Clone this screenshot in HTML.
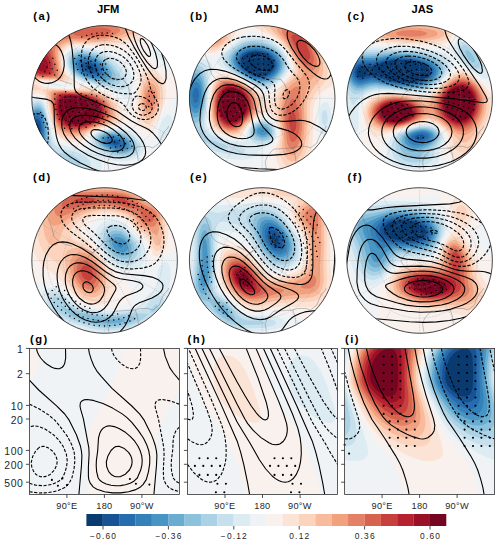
<!DOCTYPE html>
<html><head><meta charset="utf-8"><title>Figure</title>
<style>
html,body{margin:0;padding:0;background:#fff;}
body{width:500px;height:545px;position:relative;overflow:hidden;font-family:"Liberation Sans",sans-serif;}
svg{position:absolute;left:0;top:0;display:block;}
.t{position:absolute;white-space:nowrap;font-family:"Liberation Sans",sans-serif;}
</style></head><body>
<svg width="500" height="545" viewBox="0 0 500 545"><defs><clipPath id="ca"><circle cx="104.6" cy="98.4" r="72.8"/></clipPath><clipPath id="cb"><circle cx="262.2" cy="98.4" r="72.8"/></clipPath><clipPath id="cc"><circle cx="419.6" cy="98.4" r="72.8"/></clipPath><clipPath id="cd"><circle cx="104.6" cy="260.5" r="72.8"/></clipPath><clipPath id="ce"><circle cx="262.2" cy="260.5" r="72.8"/></clipPath><clipPath id="cf"><circle cx="419.6" cy="260.5" r="72.8"/></clipPath><clipPath id="cg"><rect x="29.4" y="348.4" width="150.0" height="146.1"/></clipPath><clipPath id="ch"><rect x="187.4" y="348.4" width="150.2" height="146.1"/></clipPath><clipPath id="ci"><rect x="344.6" y="348.4" width="150.0" height="146.1"/></clipPath></defs>
<g clip-path="url(#ca)">
<rect x="0" y="0" width="500" height="545" fill="#f8f1ed"/>
<path fill="#eff3f5" d="M161.6 33.6l3.2-.8 4.8 .3 5.6 2.3 4 2.8 0 38.1-9.6-3.7-8-4.7-8-6.9-4.3-4.8-2-3.2-.6-1.6 .2-3.2 2.7-4.8 5.6-5.8 3.2-2.4 3.2-1.6zM78.4 46.5l8.6 .1 12.2 1.4 30.4 4.5 3.2 .9 1.7 1.2 1.4 3.2 .4 4.8 .1 11.2-.5 9.6-1.5 11.6-1.6 7.7-1.6 3.9-1.6 1.5-1.6 0-1.6-1-9.4-9.3-6.9-4.8-7.7-3.4-22.4-6.9-6.4-3.8-4.8-4.7-3-5.2-1.4-4.8-.5-4.8 .7-4.8 1.7-3.2 2.5-2.2 4.8-1.9 4.8-.8zM44.8 82.8l3.2-.7 3.2 0 11.2 1 8.2 1.9 1.8 1.6-3.6 1.1-3.2 .2-14.4-1.1-6.2-1.8-1.4-1.6 1.2-.6zM179.2 94.5l0 78.5-10.2 0-.7-4.8-1.3-3.2-2.1-3.2-5.6-6.4-3.9-3.2-1.8-.7-1.6 .2-1.6 1-8 7.5-11.4 8-1.6 1.6-.7 1.6 0 1.6-99.9 0 0-74.5 1.3-.7 5.1-1.8 3.2-.2 3.2 1.1 1.6 1.2 1.6 2.2 2.5 7.1 5.5 23.5 2.3 5.3 2.5 3.2 3.2 2.1 4.8 1.7 8 1.6 6.4 .5 3.2-.8 1.6-1.2 4.5-7.1 3.7-3.2 3-1.7 4.8-1.8 4.8-1.1 17.6-2.3 4.8-.2 1.6 .2 3.2 1.2 12.8 10.1 3.2 1.7 1.6-.1 1.6-1.7 6.3-15.5 3.3-6.5 3.2-5.4 6.4-8.4 3.2-3.2 4.8-3.8z"/>
<path fill="#ddebf2" d="M161.6 41.3l1.6-.1 1.6 .3 1.6 1 1.9 2.5 1.1 3.2 .1 4.8-.8 3.2-2.2 3.2-1.7 .9-1.6 .1-1.6-.5-2.7-2.1-2.1-3.2-.9-3.2 .1-3.2 1.1-3.2 1.3-1.7 1.6-1.3 1.6-.7zM78.4 48l6.4 0 6.4 .6 6.3 1.2 6.5 1.8 4.8 2 4.9 2.6 4.6 3.2 5.7 4.8 3 3.2 2.2 3.2 1.5 3.2 1.2 4.8 .2 6.4-.9 6.4-1.6 4.4-1.6 1.8-1.6 .4-1.6-.2-8.9-4.8-7.3-3.2-25.4-7.7-6.4-3-4.9-3.7-3.8-4.8-1.9-4.8-.8-4.8 .5-4.8 1.6-3.2 2.9-2.7 3.2-1.4 4.8-.9zM51.2 84l1.6-.5 1.6 .1 9 1.4-1 1.3-1.6 .1-10.1-1.4 .5-1zM33.6 99l3.2-.8 3.2 .4 1.6 .9 2.6 3.1 2.4 6.4 4.6 21.1 1.6 5.8 1.6 3.5 1.1 1.6 2.1 2 1.6 .9 4.8 1.7 16 3.7 4.8 .8 3.2-.1 1.2-1 .4-1.6 .1-6.4 1-3.2 2.6-3.2 2.1-1.6 5.4-2.4 6.4-1.4 8-.7 6.4 .2 4.8 .8 4.8 1.8 3.2 1.9 4.8 4 3.2 3.8 1.7 3.2 .5 3.2-.7 3.2-1.9 3.2-3.6 3.2-4 2.3-4.8 1.5-8 .7-16-1.7-3.2 .4-.9 1.6 .1 4.8-.4 3.2-1.6 3.2-41.2 0-5.6-2-4.8-.6-3.2 .6-4.6 2-11.4 0 0-71 4.8-3zM166.4 115.3l1.6-.5 1.6 .3 1.8 1.9 1.6 4.8 .5 6.4-.9 6.4-1.7 4.8-1.3 2.2-1.6 1.7-1.6 1-1.6 .3-1.6-.2-1.6-.8-2.1-2.6-1.1-3.2-.2-4.8 1.3-6.4 1.9-4.8 1.8-3.1 3.2-3.4z"/>
<path fill="#c7e0ed" d="M78.4 49.6l4.8-.2 4.8 .4 9.6 2.2 8 3.5 7.9 5.5 3.5 3.2 4.3 4.8 4.1 6.4 1.1 3.2 .5 3.2-.1 3.2-1.4 3.2-2.3 1.6-3.2 .1-24-5.3-12.8-3.9-4.8-2.3-4.4-3-3.1-3.2-2.7-4.8-1.1-4.8 .1-4.2 1.4-3.8 1.8-2 3.2-1.9 4.8-1.1zM35.2 100.9l3.2-.3 1.6 .4 1.6 1.1 1.6 1.9 1.6 3.1 2.7 9.9 3.7 19.4 1.6 5 1.6 2.8 1.6 1.7 3.2 1.8 17.4 4.5 5 2.1 4.4 2.7 3.1 3.2 1.6 3.2 0 3.2-.7 1.6-1.5 1.6-3.1 1.6-3.8 .8-3.2 .2-4.8-.4-6.4-1.5-12.8-5.4-4.8-1.1-4.8 .8-9.6 3.8-3.2 .4-3.2-.6 0-63 3.2-2.9 3.2-1.6zM102.4 131.3l6.4-1.2 8-.1 6.4 .9 6.4 2.5 3.2 1.9 3 2.5 3.7 4.8 .7 1.6 .5 3.2-.8 3.2-2.5 3.2-3 2.1-4.8 1.8-4.8 .7-4.8-.1-4.8-.7-6.4-1.7-6.4-2.5-4.8-3.1-2.8-2.9-1.8-3.2-.7-3.2 .7-3.2 2.6-3.2 2.4-1.6 4.4-1.7z"/>
<path fill="#acd2e5" d="M78.4 51.2l3.2-.3 4.8 .3 8 1.7 7.6 3.3 6.8 4.6 6.6 6.6 4.1 6.4 1.4 4.8-.4 3.2-1 1.6-2.7 1.6-3.2 .5-4.8-.2-8-1-8-1.8-6.4-1.9-6.4-2.8-3.9-2.4-3.5-3.2-2.1-3.2-1.7-4.7-.2-3.3 .5-3.2 1.9-3.2 2.6-2 4.8-1.4zM33.6 104.1l3.2-1.2 1.6 0 1.6 .6 2.4 2.3 1.8 3.2 1.6 4.8 1.4 6.4 3.9 24 1.7 4.7 1.6 2.6 1.6 1.2 1.6 .4 6.4 .3 4.8 .7 4.2 1.3 3.3 1.6 2.2 1.6 1.5 1.6 .8 1.6 0 1.6-1 1.6-1.4 .8-3.2 .7-3.2-.2-3.2-.7-5.5-2.2-7.3-5.1-1.6-.8-1.6-.2-3.2 .6-9.6 4.5-4.8 1.7-3.2 .1-3.2-1.1 0-54.3 2.6-3 2.2-1.7zM107.2 131.4l6.4-.3 6.4 .7 4.8 1.5 4.8 2.4 4.6 3.7 2.3 3.2 1.1 3.2 0 1.6-1.1 3.2-2.1 2.3-3.2 1.8-4.8 1.3-4.8 .2-4.8-.6-6.4-1.6-6.4-2.6-3.2-2-3.2-2.8-1.8-2.4-1.1-3.2 .5-3.2 1-1.6 3-2.4 3.2-1.4 4.8-1z"/>
<path fill="#8dc2dc" d="M78.4 52.8l6.4-.2 6.4 1.1 6.4 2.4 6.4 3.8 6.5 5.9 3.5 4.8 1.9 4.8-.1 3.2-.8 1.6-1.9 1.6-4.3 1.1-4.8 .1-4.8-.5-6.4-1.2-6.4-2-5.4-2.3-4.2-2.7-2.3-2.1-2.5-3.4-1.7-4.6-.1-3.2 .9-3.2 1-1.6 3.1-2.3 3.2-1.1zM35.2 105.7l3.2-.4 1.6 .7 1.6 1.4 1 1.6 2.2 5.2 1.6 6.8 1.1 7.2 1.1 19.2-1.1 4.8-2.6 3.2-3.3 2.5-3.2 1.6-4.8 1-3.2-.8-1.6-1 0-46.6 3.2-4.2 3.2-2.2zM105.6 132.8l4.8-.6 6.4 .4 4.8 1.1 4.8 2.1 4.8 3.4 2.7 3.4 1 3.2-.5 3.2-1.6 2.1-3.2 2-3.2 .9-3.2 .3-4.8-.2-4.8-.9-8-3.1-3.2-2-3.2-2.8-1.8-2.7-.5-3.2 .5-1.6 1.8-2.2 3.2-1.9 3.2-.9z"/>
<path fill="#6bacd1" d="M78.4 54.6l4.8-.5 6.4 .9 6.4 2.3 6.2 3.7 5.3 4.8 3.3 4.8 1.1 3.2 .1 1.6-.2 1.6-1 1.6-2.3 1.6-2.9 .8-4.8 .1-4.8-.5-9.6-2.5-4.8-2.2-3.4-2.1-1.8-1.6-2.6-3.2-1.4-3.2-.5-3.2 .6-3.2 1.1-1.9 1.6-1.5 3.2-1.4zM35.2 108.2l1.6-.5 1.6 .1 1.6 .7 1.6 1.7 1.8 3.6 1.5 4.8 1.1 6.4 .6 6.4 .1 8-.8 8-1.1 2.8-1.3 2-1.9 1.9-3.2 2.1-3.2 .9-1.6 0-3.2-1.1-1.6-1.4 0-39 3.2-4.9 3.2-2.5zM104 134.5l4.8-1.1 4.8 0 6.2 1.2 5 2.1 3.9 2.7 2.7 3.2 1 3.2-.2 1.6-.8 1.6-1.7 1.6-1.7 .9-3.2 .9-3.2 .3-3.2-.2-4.8-1-6.5-2.5-4.8-3.2-1.5-1.6-1.7-3.2-.1-1.6 .6-1.6 1.3-1.6 3.1-1.7z"/>
<path fill="#4695c4" d="M80 56.1l4.8-.3 4.8 .8 6.4 2.6 4.8 3 3.9 3.6 3.2 4.8 .7 3.2-.2 1.6-.9 1.6-2.4 1.6-2.7 .7-6.4-.1-4.8-.9-4.3-1.3-3.7-1.6-3.2-2-3.2-2.8-1.2-1.6-1.5-3.2-.4-3.2 .3-1.6 1.2-2.2 1.6-1.4 3.2-1.3zM36.8 110.1l1.6 .2 1.6 .9 1.6 2 1.6 3.8 1.9 9.6 .2 11.2-1.3 8-2.4 4.5-3.2 2.7-3.2 1-1.6-.1-1.6-.5-1.6-1.1-1.6-1.9 0-31 3.2-5.9 1.6-1.7 1.6-1.2 1.6-.5zM110.4 134.5l3.2 .1 4.8 1 3.2 1.1 3.2 1.8 3 2.5 1.1 1.6 .7 1.6 .2 1.6-.4 1.6-1.3 1.6-1.7 1-3.2 .9-3.2 .1-3.2-.3-4.8-1.2-6.4-3.2-2.4-2.1-1.2-1.6-.7-1.6 0-1.6 .6-1.6 1.9-1.6 3.4-1.3 3.2-.4z"/>
<path fill="#3480b9" d="M81.6 57.7l3.2-.2 4.8 .8 4.8 1.9 4.8 3.1 4.1 4.1 1.7 3.2 .3 3.2-.8 1.6-2.1 1.5-1.6 .5-3.2 .3-3.2-.2-3.2-.5-4.8-1.6-5.7-3.2-3.1-3.2-1-1.6-.9-3.2 .1-1.6 1-2.2 1.6-1.5 3.2-1.2zM35.2 113.3l1.6-.6 1.6 .2 1.6 1.2 1.6 2.5 2 6.8 .6 8-.6 8-2 6.4-1.6 2.4-1.6 1.5-3.2 1.2-1.6-.2-1.6-.7-1.6-1.6-1.6-2.8 0-21.6 1.3-3.8 1.6-3.2 1.9-2.5 1.6-1.2zM108.8 136.1l3.2-.3 3.5 .4 4.5 1.4 3.2 1.7 3.2 3.3 .6 1.6 0 1.6-.6 1.1-1.6 1.4-1.6 .7-4.8 .3-6.4-1.4-4.3-2.1-2-1.6-1.3-1.6-.7-1.6 0-1.6 1.1-1.6 .8-.6 3.2-1.1z"/>
<path fill="#266caf" d="M84.8 59.4l3.2 .4 3.2 .9 3.2 1.5 3.2 2.2 2.9 3 .9 1.6 .7 3.2-.6 1.6-2.3 1.6-1.6 .3-4.8 0-6.4-1.8-5.1-3.3-1.5-1.6-1.4-2.6-.4-2.2 .4-1.6 1.6-1.9 1.6-.8 3.2-.5zM35.2 116.1l1.6-.6 1.6 .3 1.6 1.5 1.9 4.5 1 8-.4 6.4-1.8 6.4-2.3 3.5-1.6 1.1-1.6 .3-1.6-.2-1.6-1.2-1.4-1.9-1.1-3.2-.7-4.6 .3-6.6 1.3-5.9 1.6-3.9 1.6-2.4 1.6-1.5zM110.4 137.5l4.8 .2 4.8 1.7 2.2 1.6 1.3 1.6 .5 1.6-.5 1.6-1.9 1.2-1.3 .4-3.5 0-4.8-1.3-3.2-1.8-1.7-1.7-.7-1.6 .3-1.6 2.1-1.5 1.6-.4z"/>
<path fill="#185493" d="M83.2 62.2l1.6-.4 3.2 .1 3.2 1 2.5 1.3 2.3 1.7 2.2 3.1 .3 1.6-.5 1.6-2 1.2-3.2 .3-4.8-1.1-3.7-2-2.7-2.9-.7-1.9 .2-1.6 .5-.9 1.6-1.1zM35.2 119.3l1.6-.6 1.6 .5 1.6 2.3 1 3.5 .4 4.8-.3 4.8-1.3 4.8-2.1 3.2-.9 .8-1.6 .4-1.6-.6-1.8-2.2-.9-3.2-.4-4.8 .5-4.8 1-3.8 1.6-3.3 1.6-1.8zM110.4 140.9l1.6-1 1.6-.2 3.2 .7 1.2 .6 1.6 1.6-.2 1.6-2.6 .8-3.2-.6-2.7-1.8-.5-1.7z"/>
<path fill="#0a3b70" d="M86.4 65.3l1.6-.2 2.7 .7 2.1 1.6 .6 1.6-.6 .9-1.6 .6-3.2-.9-1.1-.6-1.3-1.6 .1-1.6 .7-.5zM36.8 122.9l1.6 1.3 .3 .8 .7 3.2 0 3.2-1 4.8-1.6 2.3-1.6 .4-1.6-1.4-.5-1.3-.4-4.8 .9-5 1.6-2.8 1.6-.7z"/>
<path fill="#fbe4d6" d="M33.6 24.1l4.2-1.5 116.5 0 1.1 1.6 .4 1.6-.3 1.6-.7 1.6-2.5 3.2-3.5 3.1-3.2 2.2-4.8 2.3-4.8 1.6-11.2 2.8-11.2 1.7-9.6 .2-24-1.1-6.4 .6-4.8 1.5-3.7 2.7-1.9 3.2-.7 3.2 0 4.8 .8 4.8 1.6 4.8 2.3 4.1 4.4 5.5 .4 1.6-1.6 .4-3.2 0-14.4-1-8-.1-4.9 .7-.8 1.6 1.6 1.6 2.5 1.3 4.8 1.3 14.4 1.1 8 .2 7-.7 4.2-1.5 3.2 .1 9.6 2.1 9.6 3.3 4.8 2.6 4.1 3 3.3 3.2 3.4 4.8 2.4 4.8 1.5 4.8 .2 3.2-.5 1.6-1.1 1.6-2.2 1.6-4.2 1.6-13.3 3-8 2.8-6 3.8-6.8 6.1-3.2 1.1-6.4-.1-6.4-1.2-4.8-1.9-3.2-2.5-3-4.7-1.8-4.8-5.1-22.4-1.3-4.2-1.6-3-1.6-1.8-1.6-1-3.2-.9-4.8 .4-4.8 1.2 0-68.5 4.8-2.3zM147.2 66.9l3.2 0 3.2 1.3 4.8 3.8 2.9 3.4 2.7 4.8 1.1 3.2 .7 3.2 .4 4.8-.3 4.8-1 4.8-2.2 6.4-2.2 4.8-5.3 10.3-3.2 5-1.6 1.7-1.6 .9-1.6 .3-1.6-.3-3.2-2-3.7-4.7-1.9-4.8-.8-8 1.2-16 2.7-16 1.4-4.8 1.6-3.2 2.7-3 1.6-.7z"/>
<path fill="#fcd3bc" d="M52.8 24l11.2-1.4 75.7 0 2.9 1.6 1.7 1.6 .7 1.6-.1 1.6-.7 1.6-1.3 1.6-3.7 2.6-8 3.6-9.6 2.8-8 1.6-9.6 1-27.2-.1-4.8 .6-4.8 1.5-3.2 2.2-1.5 1.8-1.3 3.2-.4 3.2 .2 4.8 1.2 6.4 1.7 4.8 3.1 6.4-1.1 1.6-5.1 .5-20.8-.6-4.8 .6-2.5 1.1 1.3 1.6 7.6 6 12.8-.3 17.6 .8 12.8-.6 4.8 .4 4.8 .9 6.4 2.2 4.8 2.3 4.8 3.4 3.9 4.1 2.7 4.8 1.9 6.4 .1 3.2-.4 1.6-.7 1.6-1.5 1.6-4.4 2.3-12.8 3.8-5.3 1.9-6 3.2-6.3 4.3-3.2 1.3-4.8 .6-4.8-.5-4.8-1.3-4.8-2.8-3.2-3.9-2.4-5.7-2.2-8-3.4-16.9-1.6-4.2-1.6-2.6-3.2-3.2-3.2 0-9.6 .9 0-58.3 4.8-3.2 6.4-2.7 6.4-1.7 6.4-1.1zM148.8 73.2l1.6-.2 3.2 1 3.2 2.5 1.7 2.1 1.8 3.2 1.6 4.8 .6 3.2 .2 4.8-.4 4.8-1.1 4.8-1.7 4.8-2.7 5.7-3.2 5.3-1.6 1.9-1.6 1.3-1.6 .7-1.6 0-1.6-.6-1.6-1.2-1.6-2-1.6-3.4-1.5-6.1-.4-9.6 1.2-11.2 2.3-8.8 1.6-3.5 1.6-2.2 1.6-1.3 1.6-.8z"/>
<path fill="#f8bb9e" d="M72 24.2l10.3-1.6 43.4 0 5.4 1.6 3 1.6 1.5 1.6 .4 1.6-.5 1.6-1.3 1.6-2.1 1.6-4.1 2.1-7.6 2.7-8.4 2-12.8 1.4-24 .2-4.8 .7-4.8 1.5-3.2 2.1-1.4 1.7-1.4 3.2-.5 3.2 .2 4.8 1 6.4 3.3 11.2-.7 1.6-2.1 .6-3.2 .3-17.6-.4-6.4-.5-4.8-1.2 .1-38.8 2.9-3.2 3.4-2.5 3.2-1.7 4.8-1.9 8-1.9 20.8-3.2zM150.4 78.2l1.6 .2 1.6 .8 1.6 1.3 2.1 2.9 1.5 3.2 .8 3.2 .5 6.4-1.2 8-2.4 6.4-2.9 4.8-1.6 1.8-1.6 1.1-1.6 .4-1.6-.2-1.6-1.1-2.4-3.6-1.7-6.4-.4-8 .9-8 2-6.8 1.6-3.1 1.6-1.8 1.6-1.1 1.6-.4zM49.6 90.8l3.2-.7 3.2-.1 28.8 .8 8 1.1 6.4 1.9 4.8 2.3 3.2 2.2 3 2.7 2.4 3.2 1.6 3.2 1.3 4.8 .2 3.2-.8 3.2-1 1.6-1.7 1.6-2.9 1.6-16.5 5.7-14.4 6.9-3.2 .6-3.2 .1-4.8-.8-3.2-1-3.2-1.8-3.2-3.1-2-3.4-1.9-4.8-2-8-2.1-12.8-1.8-8 .5-1.6 1.3-.6z"/>
<path fill="#f2a17f" d="M86.4 24.2l9.6-.9 8-.3 8 .4 6.4 .8 5.7 1.6 2.8 1.6 1 1.6-.2 1.6-1.2 1.6-2.1 1.6-6 2.6-11.2 2.9-11.2 1.1-22.4 .2-4.8 .6-4.8 1.5-3.2 2-1.6 1.7-1 1.8-.8 3.2 .1 6.4 1.2 8 2.1 9.6-.4 1.6-1.2 .7-3.2 .8-11.2-.1-9.6-.9-3.2-.8-3.2-1.3 0-29.1 3.2-5.5 3.2-3.5 5.2-3.5 7.6-2.8 38.4-6.8zM150.4 83.2l1.6 .2 1.6 .9 1.8 2.3 1.8 4.8 .6 6.4-1 5.9-2.1 5.3-2.7 3.7-1.6 1-1.6 .2-1.6-.7-.9-1-1.7-3.2-1.1-4.8-.2-6.4 .7-5 1.6-5 1.7-2.8 1.5-1.3 1.6-.5zM54.4 91.1l8-.2 24 1.2 8 1.5 6.4 2.5 3.2 1.8 3.2 2.6 1.9 2.1 1.9 3.2 1.2 3.2 .7 3.2 0 3.2-1.1 3.2-1.2 1.6-1.8 1.4-3.4 1.8-13.4 4.8-13.6 5.6-3.2 .5-4.8 0-6.4-1.7-3.2-1.9-3.2-3.5-2.7-5.4-1.9-6.4-1.4-8-1.3-12.8 .3-1.6 .6-.6 1.6-1 1.6-.3z"/>
<path fill="#e48066" d="M91.2 25.7l12.8-.5 9.6 1.1 3.9 1.1 2.2 1.6 .4 1.6-1 1.6-2.3 1.6-3.7 1.6-5.6 1.6-5.1 .9-11.2 .9-20.8-.2-4.8 .6-3.2 1.1-2.8 1.5-2 1.7-1.6 2.5-.7 2.2-.3 3.2 .3 3.2 2.8 17.6 .2 1.6-.7 2.1-1.5 1.1-3.3 .5-11.2-.2-8-1.4-4.8-2.5 0-20.1 4.8-8.5 3.2-4 2.5-2.2 5.5-3.1 5.3-1.7 12.3-2.4 17.1-4 11.7-1.7zM148.8 89.4l1.6-.8 1.6 .4 .9 .8 1.7 3.2 .6 3.2-.1 3.2-1.2 4.8-1.9 3.3-1.6 1-1.6-.1-1.6-1.7-.9-2.5-.5-3.2 0-3.2 .5-3.2 .9-2.8 1.6-2.4zM54.4 92.6l3.2-.8 3.2-.2 20.8 1 9.6 1.4 6.8 2.2 5.5 3.2 2.1 1.9 2.3 2.9 1.5 3.2 .9 3.2 .2 3.2-.7 3.2-2.3 3.2-3.5 2.2-24 9-3.2 .8-4.8 .2-4.8-.8-3.2-1.2-3.2-2.1-3.2-3.8-2.1-4.3-1.4-4.8-1.4-8-.5-9.6 .3-3.2 1.1-1.6 .8-.4z"/>
<path fill="#d7634f" d="M84.8 28.9l9.6-1.2 8-.1 7.1 1.4 1.9 1.6-.7 1.6-2.6 1.6-5 1.6-8.7 1.2-9.6-.1-9-1.1-2.7-1.6 1.5-1.6 3.7-1.6 6.5-1.7zM46.4 40l3.2-.5 2 .7 .3 1.6-.1 6.4 3.6 17.6 .5 4.8-.2 3.2-1.3 1.7-4.8 1.1-6.4-.1-7-1.1-4-1.6-2-1.6-1.2-1.6-.2-9.9 .4-1.3 2.8-6.4 4.8-6.5 4.8-4.2 4.8-2.3zM57.6 92.9l8-.5 17.6 1.2 8 1.4 6.4 2.3 5.5 3.7 1.5 1.6 2 3.2 1.2 3.2 .5 3.2-.4 3.2-.6 1.6-2.7 3.2-2.4 1.6-7.7 3.2-12.9 4.4-4.8 1-4.8 .1-4.8-.9-3.2-1.3-3.2-2.3-3.2-4.2-1.6-3.7-1.6-5.9-.7-6.4 .1-8 1-3.2 2.8-1.7z"/>
<path fill="#c6413e" d="M43.2 47.8l1.6 .1 1.6 .6 1.6 1.6 2.5 4.5 2.1 6.4 1 6.4-.3 4.8-.8 1.6-2.9 1.4-6.4 .2-6.4-1.2-3.7-2-1.4-1.6-.7-1.6-.4-3.2 .4-3.2 .9-3.2 1.7-3.6 2-2.8 2.8-2.8 3.2-1.9 1.6-.5zM57.6 94.5l3.2-1 3.2-.3 14.4 .6 9.6 1.4 7.9 2.6 4.9 3.2 1.6 1.6 2.1 3.2 1.2 3.2 .4 3.2-.5 3.2-.7 1.6-2.5 2.8-3.2 2-8 3.2-8 2.5-4.8 1.1-4.8 .3-4.8-.7-3.2-1.1-3.2-1.9-3.1-3.4-1.8-3.2-1.6-4.8-.9-6.4 0-6.4 1-4.6 1.6-1.9z"/>
<path fill="#b72230" d="M40 53.8l3.2-.8 1.6 .4 1.6 1 1.6 1.8 1.6 3 1.4 5 .1 4.8-1.1 3.2-2 1.3-3.2 .5-4.8-.5-3.4-1.3-1.8-1.6-1-1.6-.5-3.2 .9-4.8 2.6-4.6 3.2-2.6zM62.4 94.3l9.6-.2 11.2 1.1 8 1.9 5.1 2.3 4 3.2 2.9 4.8 .8 4.8-.6 3.2-.9 1.6-3.3 3.1-3 1.7-8.2 3.1-6.4 1.7-4.8 .7-4.8-.2-3.2-.7-3.5-1.4-2.9-2-3.2-4-1.6-3.6-1.3-6.4 0-6.4 1.1-4.8 1.8-2.2 3.2-1.3z"/>
<path fill="#991027" d="M40 58.8l1.6-.8 1.6-.1 1.6 .7 2.1 2.4 1.1 3.2 .2 1.6-.6 3.2-1.2 1.7-1.6 .6-3.2 .1-2.3-.8-1.7-1.6-.7-1.6-.1-3.3 1.2-3.1 2-2.2zM62.4 95.7l3.2-.7 3.2-.2 11.2 .7 8 1.6 5.8 2.3 4.3 3.2 2.7 4 1.1 4-.2 3.2-.6 1.6-2.5 3.2-2.6 1.8-6.4 2.7-6.4 1.8-4.8 .8-4.8 0-4.8-1-3-1.3-3.4-2.6-1.7-2.2-2.2-4.8-.9-4.3 0-5.3 1.1-4.8 2.1-2.8 1.6-.9z"/>
<path fill="#760521" d="M67.2 96l8-.1 8 1 6.4 1.9 4.3 2.2 3.4 3.2 1.8 3.2 .8 3.2 0 1.6-1 3.2-2.9 3.1-2.7 1.7-3.8 1.6-6.3 1.8-4.8 .7-4.8-.2-3.5-.7-3.7-1.6-3.8-3.2-1.8-2.8-1.3-3.6-.6-4.8 .6-4.8 1.3-3.2 1.4-1.6 1.8-1 3.2-.8z"/>
</g>
<g fill="none" stroke="#8a8a8a" stroke-width="0.45" stroke-dasharray="1.2 1.2" opacity="0.7">
<circle cx="104.6" cy="98.4" r="13.2"/>
<circle cx="104.6" cy="98.4" r="26.8"/>
<circle cx="104.6" cy="98.4" r="41.4"/>
<circle cx="104.6" cy="98.4" r="57.7"/>
<path d="M31.8 98.4L177.4 98.4"/>
<path d="M41.6 62.0L167.6 134.8"/>
<path d="M68.2 35.4L141.0 161.4"/>
<path d="M104.6 25.6L104.6 171.2"/>
<path d="M141.0 35.4L68.2 161.4"/>
<path d="M167.6 62.0L41.6 134.8"/>
</g>
<path stroke="#000" stroke-width="1.5" stroke-linecap="round" d="M103.7 101.4h.01M104.7 106.7h.01M99.8 105.2h.01M96.7 101.1h.01M96.7 95.9h.01M105.9 111.9h.01M100.6 111.3h.01M96.0 108.8h.01M92.6 104.7h.01M91.1 99.7h.01M91.7 94.4h.01M107.9 116.8h.01M102.8 117.0h.01M97.9 115.9h.01M93.4 113.4h.01M89.8 109.8h.01M87.2 105.4h.01M86.0 100.5h.01M86.1 95.4h.01M98.8 80.6h.01M103.8 79.7h.01M103.9 122.3h.01M98.8 121.6h.01M93.9 119.8h.01M89.6 117.0h.01M85.9 113.3h.01M83.1 109.0h.01M81.4 104.1h.01M80.7 99.0h.01M81.1 93.8h.01M92.9 77.6h.01M97.6 75.5h.01M102.7 74.6h.01M107.9 74.7h.01M94.8 125.8h.01M90.0 123.6h.01M85.8 120.6h.01M82.1 116.9h.01M79.2 112.6h.01M77.0 107.8h.01M75.8 102.7h.01M75.5 97.5h.01M76.1 92.3h.01M87.2 75.1h.01M91.6 72.3h.01M96.5 70.4h.01M101.6 69.4h.01M106.8 69.4h.01M86.1 127.3h.01M81.9 124.2h.01M78.3 120.4h.01M75.2 116.1h.01M72.9 111.4h.01M71.2 106.4h.01M70.4 101.2h.01M70.4 96.0h.01M81.6 72.9h.01M85.8 69.7h.01M90.4 67.2h.01M95.3 65.4h.01M100.4 64.3h.01M105.7 64.1h.01M118.3 135.5h.01M113.4 136.9h.01M108.3 137.8h.01M103.1 137.9h.01M79.4 128.8h.01M75.6 125.3h.01M72.4 121.2h.01M69.6 116.8h.01M67.5 112.1h.01M66.1 107.2h.01M65.2 102.1h.01M65.1 96.9h.01M65.6 91.7h.01M77.7 69.4h.01M81.8 66.2h.01M86.2 63.4h.01M90.9 61.3h.01M95.8 59.9h.01M124.3 138.5h.01M119.5 140.6h.01M114.5 142.0h.01M109.4 142.9h.01M104.2 143.1h.01M71.8 128.8h.01M68.5 124.8h.01M65.7 120.4h.01M63.4 115.7h.01M61.6 110.8h.01M60.5 105.8h.01M59.9 100.6h.01M60.0 95.4h.01M76.2 63.9h.01M80.4 60.8h.01M84.9 58.3h.01M89.7 56.2h.01M148.7 91.0h.01M149.3 96.2h.01M149.2 101.4h.01M148.6 106.6h.01M130.2 141.3h.01M125.5 143.7h.01M120.7 145.7h.01M115.7 147.1h.01M110.5 148.0h.01M64.6 128.3h.01M61.7 124.0h.01M59.3 119.3h.01M57.3 114.5h.01M55.9 109.5h.01M55.0 104.3h.01M54.7 99.1h.01M54.9 93.9h.01M74.7 58.4h.01M79.0 55.5h.01M154.2 92.5h.01M154.5 97.7h.01M154.3 102.9h.01M132.0 146.2h.01M127.4 148.6h.01M122.6 150.5h.01M117.7 152.0h.01M54.7 74.9h.01M57.2 70.3h.01M49.7 73.3h.01M52.1 68.7h.01M54.9 64.3h.01M98.0 38.4h.01M45.8 127.2h.01M43.7 122.5h.01M41.9 117.5h.01M40.6 112.5h.01M42.8 76.6h.01M44.8 71.7h.01M47.1 67.1h.01M49.7 62.6h.01M52.8 58.3h.01M81.8 37.0h.01M86.7 35.4h.01M91.8 34.1h.01M96.9 33.3h.01M102.1 32.9h.01M107.3 32.9h.01M112.5 33.4h.01"/>
<path clip-path="url(#ca)" fill="none" stroke="#666" stroke-width="0.5" opacity="0.75" stroke-linejoin="round" d="M79.4 84.0L86.3 87.3L93.2 90.9L100.1 84.0L104.6 79.5L113.9 78.3L123.2 79.5L127.7 85.5L130.1 94.5L127.7 103.5L123.8 111.0M97.1 86.7L89.3 93.3L86.0 99.6L90.8 105.9L97.1 109.2L105.2 114.0M168.8 126.0L167.3 128.7L164.0 132.0L161.0 138.3L159.2 143.1L152.9 147.9L148.1 146.4L140.0 146.4L135.2 147.9L126.2 148.5L116.0 149.1L109.7 156.0L107.6 162.0L108.8 169.5M135.2 147.9L137.0 152.7L138.5 162.3L137.6 169.5M47.3 54.0L51.8 65.7L54.2 74.7L58.7 79.5L66.2 82.5L72.2 84.0"/>
<g clip-path="url(#ca)" fill="none" stroke="#000" stroke-width="1.1" stroke-linejoin="round">
<path stroke-dasharray="3.2 1.6" d="M105.6 59.4l-1.9 1.6-.9 1.6-.6 3.2 .2 1.6 1.2 3.2 3.6 4.6 4.8 3.2 4.8 1.3 4.8-.4 1.6-.8 1.6-1.4 1.5-3.3-.1-3.2-1.4-3.5-3.2-4-3.2-2.4-4.8-2-4.8-.4-3.2 1.1"/>
<path stroke-dasharray="3.2 1.6" d="M102.4 52.3l-3.2 1.7-2.1 2.2-1.6 3.2-.6 3.2 .2 3.2 1.4 4.8 1.7 3.2 2.5 3.2 3.3 3.2 4.8 3.2 3.7 1.6 4.3 1.2 4.8 .4 3.2-.4 3.2-1.1 2.4-1.7 1.5-1.6 1.6-3.2 .4-4.8-.6-3.2-1.2-3.2-1.8-3.2-2.5-3.2-3-2.9-3.2-2.4-6.4-3-6.4-1.3-3.2 .2-3.2 .7M140.8 103.8l-1.6 1.1-.6 .9-.1 1.6 .7 1.6 1.6 1.1 1.6 .4 1.6-.2 1.6-1 .8-1.9-.8-2.1-1.6-1.3-1.6-.4-1.6 .2"/>
<path stroke-dasharray="3.2 1.6" d="M28.8 156.5l4.8-4.7 3.2-4.8 2.5-6 .8-4.8-.6-4.8-1.1-2.4-1.6-1.4-1.6-.6-1.6 0-3.2 1.2-1.6 1.1M102.4 44.8l-4.8 1.2-3.7 2.2-3 3.2-2.1 4.8-.6 4.8 .7 6.4 1.7 4.8 2.7 4.8 4 4.8 3.5 3.1 4.8 3.2 4.8 2.4 6.4 2.1 6.4 1 8 .3 1.6-.1 1.6-.8 1.6-1.4 3.2-5 1.6-4.4 .3-3.6-.3-3.2-1.5-4.8-2.2-4.8-2.7-4.5-3.2-4.3-3.2-3.3-3.2-2.6-4.8-2.9-4.8-1.9-4.8-1.2-4.8-.5-3.2 .2M137.6 96l-1.6 .3-1.6 1.1-1.8 3.6-.5 4.8 .9 3.2 .9 1.6 1.4 1.6 2.2 1.6 3.3 1.2 3.2 .2 4.4-1.4 2-1.6 1.7-3.2 .1-3.2-1.4-3.2-2-2.2-3.2-2.2-3.2-1.4-4.8-.8"/>
<path stroke-dasharray="3.2 1.6" d="M28.8 171.7l4.8-4.4 3.5-3.9 3.7-4.8 3-4.8 2.2-4.8 1.5-4.8 .7-4.8 .2-4.8-.4-6.4-1-4.8-1.8-4.8-2-2.8-3.2-1.8-3.2-.4-3.2 .5-4.8 2M99.2 35.3l-6.4 1.5-4.8 2.8-3.3 3.8-1.5 2.8-1.2 3.6-.9 8 .8 9.6 2.4 8 3.3 6.4 5.2 6 7 5.2 7.4 3.9 11.2 4.3 3.2 1.7 3.2 3.1 3.1 4.6 2.7 3.2 2.2 1.9 3.2 1.9 4.8 1.7 4.8 .3 3.2-.6 4.4-2 3.2-3.2 1.6-3.2 .5-3.2-.4-3.2-2-4.8-4.9-8-2.3-9.6-3.1-8-5-9.5-4.8-7.7-8-10.7-3.2-3.2-4.8-3.4-4.8-2-4.8-1.3-6.4-.8-4.8 .1"/>
<path d="M52.2 22.6l5.4 1.5 5.5 3.3 4.1 4.6 2.4 5 1.3 4.8 1.3 8 1.8 20.8 .3 16 .7 3.2 .9 1.6 2.5 2.5 3.7 2.3 34.7 14.8 14.4 9.8 6.4 3.5 8.6 3.9 2.7 1.6 4 3.2 4.2 4.8 4.3 6.4 2.9 6.4 1.1 4.8 .1 4.8-1.1 4.8-3.1 4.8-3.9 3.2M145.7 22.6l5.4 8 5.2 9.6 4.8 11.2 3 9.6 1.9 9.6 .1 8-1.3 3.8-1.6 1.2-1.6 0-3.2-1.6-4.8-4.9-6.4-8.7-6.8-10.6-6.6-11.2-5-9.6-3.2-8-1.5-6.4M28.8 28.9l6.4-3.9 4.8-1.7 3.1-.7M104.3 173l-11.5-4.2-12.8-6.1-9.6-5.8-6.4-5.2-2.3-2.7-2.5-4.1-1.6-4-1.3-4.7-1.9-12.8-.3-16-.6-3.2-.7-1.4-1.7-1.8-3.9-1.6-13.6-1.9-4.8-1.4"/>
<path d="M134.4 26.5l1.6-.6 1.6 .3 1.6 .8 3.2 2.7 4.8 6.1 4.4 7.6 3.9 9.6 1.9 8 0 4.8-.6 1.8-1.6 1-1.6-.3-1.6-.9-4.8-5-4.8-6.9-4.1-7.3-2.8-6.4-2-6.4-.5-4.8 .2-1.6 1.2-2.5M41.6 43.3l3.2-1 3.2-.3 3.2 .4 3.2 1.3 3.2 2.4 1.9 2.1 1.9 3.2 1.8 4.8 .9 4.8 .1 4.8-.8 4.8-1.1 3.2-1.9 3.2-2.8 2.9-3.2 1.9-3.2 1.1-3.2 .5-3.2-.2-3.2-.8-3.2-1.7-2.5-2.1-2.3-2.9-1.8-3.5-1.1-3.2-.5-3.2-.1-4.8 .5-3.2 1.4-4.4 2-3.6 2.7-3.2 4.9-3.3M70.4 108.9l4.8-1.1 4.8-.2 6.4 .7 8 1.8 8 2.6 8 3.2 6.4 3.2 8 5 5.7 4.1 5.5 4.8 4.2 4.8 3 4.8 1.9 4.8 .6 4.8-.6 3.2-1.7 3.2-1.5 1.6-2.7 2-3.2 1.4-3.2 .9-8 .8-8-.6-9.6-1.9-9.6-3.2-9.6-4.4-9.6-5.8-6.7-5.2-4.5-4.8-3.2-5.1-2-6.1-.3-6.4 .5-3.2 1.2-3.2 2.2-3.2 1.8-1.6 3-1.7"/>
<path d="M140.8 38.6l1.6 .1 1.6 1.3 3.5 5 1.5 3.2 1.4 4.5 .2 1.9-.6 1.6-1.2 .3-1.6-1.2-3.2-4.1-1.6-2.9-1.6-4.1-.5-2.4 0-1.6 .5-1.6M80 115.4l8-.1 4.8 .7 6.4 1.6 9.6 3.7 9.6 5.4 7.9 6.3 5.3 6.4 1.7 3.2 .9 3.2 .1 3.2-1.1 3.2-1.3 1.6-2 1.6-3.8 1.6-6.1 .9-6.4-.3-8-1.6-8-2.7-6.4-3-7.3-4.5-5.5-4.4-3.6-3.6-3.3-4.8-1.7-4.8 .1-4.8 .5-1.6 1.6-2.5 3.2-2.4 4.8-1.5"/>
<path d="M88 121.6l6.4 .4 6.4 1.6 6.4 2.5 6.4 3.7 5.8 4.8 3.6 4.8 1.3 3.2 .1 1.6-.8 3.2-2 2.1-3.2 1.4-4.8 .5-4.8-.4-4.8-1-6.4-2.3-4.8-2.5-4.1-2.6-3.9-3.2-2.9-3.2-2-3.2-1-3.2 .3-3.2 .8-1.6 1.6-1.4 3.2-1.4 3.2-.6"/>
<path d="M94.4 129.6l4.8 .3 4.5 1.5 3 1.6 2.2 1.6 2.7 3.2 .6 1.6-.2 1.9-1.6 1.6-1.6 .4-3.2 .1-4.8-1.3-4.8-2.5-3.7-3.4-1-1.6-.4-1.6 .4-1.6 1.5-1.3 1.6-.5"/>
</g>
<circle cx="104.6" cy="98.4" r="72.8" fill="none" stroke="#1a1a1a" stroke-width="0.8"/>
<g clip-path="url(#cb)">
<rect x="0" y="0" width="500" height="545" fill="#f8f1ed"/>
<path fill="#eff3f5" d="M188 22.6l.8 0-2.4 2.4 0-2.4 1.6 0zM245.6 31.9l3.2-.4 3.2 .3 9.6 2.5 9.6 4.1 3.2 1.9 4.1 3.1 5.5 6 4.9 8.4 2.1 6.4 .2 3.2-.8 3.2-1.7 3.2-2.5 3.2-10.2 11.1-4.8 4-3.2 1.1-3.2-.4-3.2-1.3-20.8-12.2-12.8-6.3-6.4-2.1-3.2-.1-1.6 .5-1.6 1.2-1.9 2.9-1.3 3.8-1.2 5.8-2.4 22.4-.5 9.6 .3 4.8 .7 3.2 1.6 3.2 3.1 3.2 2.4 1.6 4 2 6.4 2.3 6.4 1.4 4.8 .3 3.2-.5 1.6-.9 1.6-1.9 2.4-5.9 1.9-3.2 3.7-4 4.8-3.3 3.2-1.6 4.8-1.3 3.2 .3 3.2 1.8 3.2 3.6 2.5 4.5 1.2 4.8 0 3.2-.6 3.2-1.5 3.4-5.9 9.4-.8 3.2-.9 8-2 6-3.2 5.2-41.2 0-3.6-.3-32 .3 0-125.7 8.6 4.1 10.6 4.1 4.8 .9 3.2-.3 3.2-1.4 4.8-3.2 8-6.5 11.2-10.5 1.6-1.2 3.2-1.4zM325.6 95.9l3.2 .3 2.6 1.6 3.2 3.2 2.2 3.4 0 65.1-3.2 .1-1.6-.5-3.2-2.3-3.2-4.1-3.2-6.4-1.6-4.5-1.6-5.7-1.9-9.9-1.5-16 .1-6.4 .6-4.8 1.3-4.8 2.7-4.8 1.9-2 3.2-1.5z"/>
<path fill="#ddebf2" d="M244 37l4.8-1.4 6.4 .1 8 1.7 6.4 2.4 4.8 2.6 4.8 3.8 4.4 5.2 2.9 4.8 2 4.8 .7 3.2 0 3.2-.9 3.2-3 4.8-4.5 5.2-4.8 4.7-4.8 3.4-3.2 1.1-3.2 0-3.2-.7-3.2-1.3-31.3-17.2-7.7-4.8-1.9-1.6-.7-1.6 .2-1.6 1.9-3.2 2.8-3.2 5.1-4.8 9.2-7.7 4.8-3.4 3.2-1.7zM189.6 57.1l1.6-.5 3.2-.4 6.4 1.3 7.7 3.5 2.4 1.6 1.2 1.6 .3 1.6-2 10.8-1.2 10-2.9 33.6 .4 4.8 1.2 3.2 1 1.6 3.1 3 4.8 2.8 9.6 3.6 9.6 2.2 6.4 .2 1.9-.6 1.6-1.6 1.6-8 2.3-4.8 3.1-3.2 3.9-2.6 4.8-1.8 4.8-.1 1.6 .4 3.2 1.9 3.2 3.7 1.6 3.3 .8 4.8-.5 3.2-1.4 3.2-2.1 2.7-3.2 2.7-7.8 4.2-1.8 1.5-3.2 4.5-2.4 2-5.6 2.1-6.4 .7-9.6-.5-9.6-1.6-12.8-3.3-12.8-4.1-6.4-3.4-4.8-4.2 0-83.3 3.2-2.3zM324 102.2l1.6-.2 1.3 .6 1.9 2 1.7 4.4 1 6.4-.3 8-1.3 6.4-2.3 4.8-2 1.7-1.6 0-1.6-1.3-1.6-2.9-1.5-5.5-.7-6.4 .1-6.4 .9-4.8 1.1-3.2 1.1-1.6 2.2-2z"/>
<path fill="#c7e0ed" d="M250.4 38.5l4.8-.1 6.4 .9 6.4 1.9 4.8 2.3 4.8 3.4 3.2 3.3 3.2 4.4 2.3 4.8 1 3.2 .2 3.2-.6 3.2-1.5 3.2-3.5 4.8-4.3 4.5-4.8 3.7-3.2 1.6-3.2 .7-4.8-.4-4.8-1.6-6.4-3.1-12.4-7-7.6-4.8-5.5-4.8-1.9-3.2-.2-3.2 1.3-3.2 2.4-3.2 4.7-4.6 4.8-3.8 4.8-3.1 4.8-2.1 4.8-.9zM194.4 60.9l4.8 .2 3.4 1.5 3.4 3.2 1.8 4.8 .4 6.4-.5 12.8-1.2 14.4-2.2 19.2 .2 3.2 1.2 3.2 3.1 3.7 3.2 2.2 3.2 1.6 8 3.1 17.3 5.4 3.2 1.6 1.4 1.6 .1 1.6-1 1.6-1.8 1-4.8 1.1-6.4 .1-8-1.2-9.6-2.5-9.6-3.3-7-3.2-4.4-3.2-3.8-4.8-2.4-6.4 0-62.4 3.2-4 1.6-1.2 3.2-1.3zM324 109.9l1.6 .1 1.2 2.2 .8 4.8-.1 3.2-.8 3.2-1.1 2.1-1.6 .2-1.6-2.6-.7-6.1 .7-4.7 1.6-2.4zM258.4 121.5l4.8-1 3.2 .3 3.2 1.4 1.5 1.2 2.6 3.2 1.3 3.2 .1 4.8-.7 2.1-1.6 2.5-3.2 2.7-4.8 1.8-6.4 .2-3.2-.6-1.6-.8-1.6-1.2-1.6-2.1-1.2-3-.3-3.2 .7-3.2 .7-1.6 3.3-3.9 4.8-2.8z"/>
<path fill="#acd2e5" d="M247.2 41.4l4.8-.7 4.8 0 4.8 .7 6.4 1.8 4.8 2.3 3.2 2.2 3.2 3 3.2 4.1 2.3 4.6 .9 3.2 .1 3.2-.7 3.2-1.5 3.2-3.6 4.8-3.9 3.8-3.2 2.3-3.2 1.6-4.8 .9-4.8-.5-4.8-1.6-9.6-4.8-10.5-6.5-5.7-4.8-2.3-3.2-1-3.2 0-1.6 1-3.2 2.1-3.2 3.6-3.6 4.8-3.7 4.8-2.6 4.8-1.7zM194.4 65.4l1.6-.3 3.2 .4 3.2 2.1 1.6 2.2 1 2.4 1.3 6.4 .3 8-.5 11.2-1.9 14.4-3 12.8-.1 3.2 .6 3.2 2.3 3.5 4.8 3.8 3.2 1.5 11.6 4 3.3 1.6 1.5 1.6-.4 .3-3.2 .6-6-.9-8.6-3.2-7.2-3.2-3.8-2.1-3.2-2.7-1.6-2-3.2-5.8-3.8-8.2-1-2.4 0-43.3 3.2-5.5 1.6-1.7 3.2-1.9zM258.4 122.9l4.8-.8 3.2 .4 3.2 1.7 2.3 2.4 1.6 3.2 .3 3.2-1 3.2-1.6 2.1-1.6 1.2-4.8 1.8-4.8 0-4.8-1.6-1.6-1.2-1.6-1.9-1.2-3.6 .4-3.2 .7-1.6 2.8-3.2 3.7-2.1z"/>
<path fill="#8dc2dc" d="M248.8 43.2l4.8-.6 4.8 .2 4.8 .8 4.8 1.5 4.8 2.3 3.2 2.3 3.2 3.3 2.3 3.2 1.5 3.2 .9 3.2 .1 3.2-.7 3.2-1.6 3.2-2.4 3.2-3.3 3.4-3.2 2.4-3.2 1.6-4.8 1.1-4.8-.3-4.8-1.4-8-3.7-7.8-4.7-6.1-4.8-2.7-3.2-1.5-3.2-.3-3.2 .9-3.2 2.1-3.2 3.3-3.2 4.1-2.9 4.8-2.4 4.8-1.3zM194.4 69.7l3.2-.4 1.6 .6 1.6 1.2 1.6 2.1 2 5.4 .9 8-.5 12.8-.8 6.4-1.4 6.4-1.8 5.3-1.6 3-1.6 1.9-1.6 .7-1.6-.2-1.6-1-1.6-1.7-2.8-4.8-2-5.4 0-28.3 1.6-4.5 1.6-3 1.6-2.1 3.2-2.4zM258.4 124.4l3.2-.8 3.2 .2 3.2 1.2 2 1.6 1.2 1.7 1 3.1-.5 3.2-2.1 2.7-3.2 1.6-4.8 .5-4.8-1.4-2.4-1.8-1.1-1.6-.6-1.6 .2-3.2 .7-1.6 1.3-1.6 3.5-2.2z"/>
<path fill="#6bacd1" d="M248.8 45l8-.6 4.8 .6 4.8 1.2 6.4 3.1 3.2 2.5 2.6 2.8 2 3.2 1.3 3.2 .5 3.2-.4 3.2-1.2 3.2-1.6 2.6-4.8 5-3.2 2.1-4.8 1.8-4.8 .3-4.8-.9-6.4-2.4-6.7-3.7-6.6-4.8-3.2-3.2-2-3.2-.8-3.2 .4-3.2 1.6-3.2 2.8-3.2 3.3-2.5 4.8-2.5 4.8-1.4zM196 73.4l1.6 .1 1.6 .8 1.6 1.7 1.4 2.6 1.5 6.4 .4 6.4-.7 9.6-1.5 8-1.1 3.2-1.6 3-1.6 1.7-1.6 .8-1.6-.2-1.6-.9-1.6-1.7-1.6-2.7-2.2-6.4-1-8.5 .6-9.1 1-4.5 1.2-3.5 2-3.5 1.6-1.8 1.6-1.1 1.6-.4zM258.4 126l1.6-.6 3.2-.3 3.2 .9 1.6 1.1 1.6 1.9 .7 2.4-.1 1.6-.7 1.6-1.5 1.5-1.6 .8-3.2 .7-3.2-.4-3.2-1.6-2-2.6-.3-1.6 .3-1.6 .8-1.6 2.8-2.2z"/>
<path fill="#4695c4" d="M250.4 46.4l8-.3 8 1.7 6.4 3.4 3.2 2.7 1.9 2.3 1.8 3.2 .9 3.2-.3 4.8-1.2 3.2-1.5 2.3-2.2 2.5-2.6 2.2-3.2 1.9-4.8 1.4-3.2 .2-4.8-.8-4.8-1.6-6.4-3.3-6.7-4.8-3-3.2-1.9-3.2-.7-3.2 .4-3.2 1.7-3.2 3.2-3.2 3.8-2.5 3.2-1.3 4.8-1.2zM194.4 78l1.6-.6 1.6 .3 1.6 1.1 1 1.4 1.7 4.8 .7 4.8-.2 8.8-1.6 8.2-1.6 3.7-1.6 1.9-1.6 .8-1.6-.2-1.3-.8-1.9-2.4-2.1-5.6-.9-6.4 .2-6.4 1.2-5.9 1.6-3.9 1.6-2.3 1.6-1.3zM258.4 128.1l3.2-1.2 3.2 .5 1.5 .8 1.4 1.6 .4 1.6-.3 1.6-1.4 1.6-1.6 .7-3.2 .1-2.5-.8-1.7-1.6-.6-1.6 .3-1.6 1.3-1.7z"/>
<path fill="#3480b9" d="M250.4 47.9l3.2-.4 4.8 .1 6.4 1.3 6.4 3 4.8 4.3 2.5 4.8 .5 4.8-1.7 4.8-2.3 3.2-2.2 2-3.2 2.1-4.8 1.6-3.2 .3-4.8-.6-4.8-1.6-6.4-3.3-4.9-3.7-3-3.2-1.8-3.2-.7-3.2 .6-3.2 .8-1.6 2.6-3.1 3.2-2.3 3.2-1.6 4.8-1.3zM194.4 82.5l1.6-.7 1.6 .5 1.6 1.8 1.4 4.1 .4 3.2-.1 6.4-.9 4.8-.8 2.6-1.3 2.2-1.9 1.3-1.6-.2-2.2-2.7-1.3-3.2-.7-4.8 0-4.8 .9-4.8 1.7-4 1.6-1.7zM261.6 130.1l1.6 0 .9 1.3-.9 .7-1.6-.1-.7-.6 .7-1.3z"/>
<path fill="#266caf" d="M248.8 49.8l6.4-.9 6.4 .6 6.4 2.2 4.8 3.3 3.4 4.4 1.2 4.8-1 4.8-1.9 3.2-1.5 1.6-3.4 2.5-3.2 1.4-3.2 .7-4.8-.1-4.8-1.2-4.8-2.1-4.4-2.8-3.7-3.2-2.3-3.2-1.1-3.2 0-3.2 .6-1.6 1.3-2.1 2.7-2.7 3.7-2.1 3.2-1.1zM196 87.4l1.6 1 .6 1.4 .8 4.8-.3 3.2-.9 3.2-1.8 2.1-1.6-.6-.8-1.5-.8-2.3-.3-2.5 .3-3.8 .9-2.6 .7-1.4 1.6-1z"/>
<path fill="#185493" d="M248.8 51.3l6.4-1 6.4 .6 4.8 1.6 4.8 3.1 3.2 3.8 .7 1.6 .6 3.2-.4 3.2-.6 1.6-2.2 3.2-2.9 2.5-3.2 1.6-3.2 .8-3.2 .1-3.2-.4-4.8-1.5-3.2-1.5-4.6-3.2-1.8-1.7-2.3-3.1-1-3.2 .2-3.2 1.5-2.9 1.7-1.9 3.1-2 3.2-1.3z"/>
<path fill="#0a3b70" d="M248.8 52.8l4.8-1 6.4 .2 4.8 1.3 4.8 2.8 2.9 3.3 1.3 3.2 .2 3.2-.4 1.6-1.7 3.2-2.3 2.3-3.2 1.9-3.2 .9-3.2 .3-3.2-.4-3.2-.8-3.2-1.4-4.4-2.8-2-1.9-2.2-2.9-1-3.2 .1-1.6 1.1-3.2 1.3-1.6 2.3-1.8 3.2-1.6z"/>
<path fill="#fbe4d6" d="M218.4 24.2l4.8-.5 4.8 .2 3.2 .7 3.2 1.5 1.6 2.2 .4 2.3-.8 3.2-2.7 4.8-2.7 3.2-5.4 4.8-4.8 3.4-4.8 2.3-3.2 .7-3.2 0-4.8-1.3-3.5-1.9-3.5-3.2-1.3-3.2 .1-3.2 2.3-4.8 4.3-4.4 4.8-3.1 6.4-2.6 4.8-1.1zM250.4 22.6l54.4 0 8 4.2 7.7 5.4 4.7 4.8 2.4 4.8 1.1 12.8 3.7 12.8 1 4.8 .5 4.8-.3 3.2-.8 3.2-.9 1.6-1.5 1.6-6.4 3.9-3.2 2.6-3.7 4.7-2.4 4.8-1.3 4.8-.5 4.8 0 24-1.3 12.8-1.4 6.4-2.7 8-2.7 5.6-2.7 4-19.7 0-2-3.2-3.3-8-1.5-6.4-.4-3.2 .6-4.8 2.9-8 .7-3.2 .2-3.2-.4-3.2-1.5-4.8-1.7-3.6-3.2-5.2-3.2-3.7-1.6-.8-3.2 .9-11.2 7.3-5.5 5.1-6.4 9.6-2.3 1.6-1.8 .6-3.2 .2-4.8-.6-4.8-1.3-4.8-1.9-3.2-1.8-3.2-2.6-1.7-2.2-1.5-3.2-.9-4.8-.2-8 .7-11.2 1.3-9.6 .9-4.8 1.5-4.8 1.8-3.2 2.9-2.5 3.2-.7 4.8 .5 6.4 2.2 6.4 3 6.9 3.9 7.2 4.8 6.3 4.8 6.8 6.1 1.6 .7 1.6-.2 1.6-1.2 9.1-11.8 9.7-11.2 2.8-4.8 .4-4.8-1.9-6.4-4.3-8-4.6-6.4-3.2-3.2-4.8-3.7-6.4-3.8-10.7-5.3-5.2-3.2-1.8-1.6-.9-1.6 1 0z"/>
<path fill="#fcd3bc" d="M263.2 22.7l33-.1 7 2.8 6.4 3.6 6.2 4.8 2.8 3.2 1.8 3.2 6.2 24 1 8-.2 3.2-.8 3.2-2.8 4.8-6.2 7-3.2 4.3-2.5 4.7-1.6 4.8-.7 6.4 .1 16-.5 9.6-1.5 9.6-1.7 6.4-2.8 7-3.2 5-3.2 3-3.2 1.4-1.6 .1-3.2-.9-3.2-2.5-3.2-4.6-2.3-5.3-1.2-6.4 .3-3.2 1.8-9.6-.1-4.8-1.1-4.8-4.1-11.2-.8-3.2-.2-3.2 .8-6.4 2.6-8 4.9-8 11-12.8 1.4-3.2-.2-4.8-.9-3.2-2.2-4.8-6.5-11.2-3.2-4-3.2-3.1-12.1-8.9-3.6-3.2-1-1.6-.3-1.6 1-1.5zM215.2 28.8l6.4-.8 3.2 .3 3.2 1.2 1.5 1.1 1.1 1.6 .4 1.6-.6 3.2-1.8 3.2-3 3.2-4 3.2-3.2 1.8-3.2 1.3-3.2 .6-3.2-.2-3.2-1.1-3.2-2.3-1.2-1.7-.7-3.2 .9-3.2 2.2-3.2 3.6-3.1 3.2-1.8 4.8-1.7zM220 76.7l1.6-.5 3.2-.2 4.8 .8 6.4 2.3 8 4.2 7.2 4.9 5.4 4.8 2.6 3.2 2.4 4.8 .7 3.2-.1 3.2-1.1 3.2-1 1.6-3 3.2-9 8-7.3 9.2-3.2 2-3.2 .6-3.2-.2-4.8-1-4.8-1.8-3.2-1.8-3.2-2.6-2.2-2.8-1.3-3.2-1-4.8-.2-8 .5-9.6 1.2-8 1.4-6 1.6-3.9 2.1-2.9 2.7-1.9z"/>
<path fill="#f8bb9e" d="M272.8 24.2l3.2-1 4.8-.5 4.8 .2 4.8 .6 4.8 1.3 4.8 1.8 4.8 2.4 4.7 3.2 4.8 4.8 2.6 4.8 4.8 16 1.4 6.4 .2 6.4-1.1 4.8-2.7 4.8-5.1 6.5-3.2 4.8-2.3 4.7-1.6 4.8-.7 6.4 .4 16-.3 8-1 8-1.9 8-2.2 5.6-2.4 4-2.4 2.6-3.2 1.6-3.2-.1-3.2-2.1-2.7-3.6-2-4.8-.7-4.8 .8-9.6-.3-4.8-3.7-14.4-.5-6.4 .5-4.8 1.2-6.4 1.5-4.8 1.4-3.2 4.5-6.6 9.4-9.4 1.6-3.2 0-3.2-.8-3.2-2-4.8-8.2-14.8-4.8-6-8.5-8-2.8-3.2-.6-1.6 .3-1.6 2-1.6zM215.2 31.9l4.8-.6 3.2 .6 1.6 .7 1.3 1.2 .7 1.6-.5 3.2-1.5 2.3-2.4 2.5-2.4 1.7-3 1.5-5 1-4.2-1-2-1.6-.9-1.6-.3-1.6 .9-3.2 3.3-3.6 3.2-1.9 3.2-1.2zM221.6 78.5l4.8-.7 4.8 .8 6.4 2.4 6.4 3.5 5.3 3.7 5 4.8 3.1 4.8 1.1 3.2 .5 3.2-.1 3.2-.9 3.2-1.9 3.2-9.5 9.6-5.8 6.7-1.6 1.4-3.2 1.6-3.2 .4-3.2-.3-4.8-1.3-3.2-1.4-3.2-2.1-2-1.8-2.3-3.2-1.3-3.2-.9-4.8-.3-8 .5-8 1.2-8 1.4-4.8 2.1-4.2 1.9-2.2 2.9-1.7z"/>
<path fill="#f2a17f" d="M280.8 25.7l6.4-.3 8 1.6 6.4 2.6 6.4 4.4 2.9 3 2.8 4.8 4.8 14.4 1.4 6.4-.1 4.8-1.4 4.8-2.4 3.4-5.4 4.6-1.3 1.6-1.3 3.3-3.3 11.1-1 8 .8 16-.1 8-.9 8-1.4 6.4-2.1 5.6-2.5 4-2.3 2.1-1.6 .7-1.6 .2-1.6-.4-1.6-1-1.5-1.6-1.7-2.9-.6-1.9-.6-3.2-.5-12.8-3-14.4 .2-8 2.2-11.2 1.8-4.8 1.7-3.2 2-2.9 3.2-3.2 8-5.1 1.9-1.6 .8-1.6 .1-1.6-.8-3.2-1.3-3.2-11.4-20.8-3.7-5.3-6.5-7.5-2.1-3.2-.4-1.6 .7-1.6 3.5-1.7zM215.2 35.2l3.2-.3 2.3 .5 1.5 1.6 0 1.6-.7 1.6-1.5 1.6-3.2 1.9-3.2 .7-3.2-.9-1.2-1.7 .1-1.6 .8-1.6 1.9-1.8 3.2-1.6zM223.2 80l3.2-.5 4.8 .5 6.4 2.2 5.3 2.8 4.5 3.2 4.9 4.8 2.1 3.2 1.8 4.8 .4 3.2-.1 3.2-.8 3.2-1.7 3.2-13.2 14.1-3.2 2.6-3.2 1.1-3.2 .2-3.2-.5-3.2-1-4-2.1-2.4-1.9-2.4-2.9-1.6-3.2-.9-3.2-.8-6.4 0-6.4 .6-6.4 1.3-6.4 1.7-4.8 2-3.2 1.7-1.7 3.2-1.7z"/>
<path fill="#e48066" d="M284 28.5l3.2-.6 3.2 .1 4.6 1 3.4 1.3 6 3.5 4.7 4.8 1.8 3.2 1.9 4.8 2.8 8 1.1 4.8 .2 3.2-.4 3.2-.6 1.6-1.5 2.1-1.6 1.1-1.6 .4-3.2-.5-3.2-2.5-3.2-3.9-4.8-7.4-7.6-13.3-6.7-9.6-.6-1.6-.1-1.6 1.1-1.6 1.1-.5zM224.8 81.4l3.2-.4 4.8 .6 4.8 1.7 5.9 3.3 4 3.2 2.9 3.2 2.1 3.2 1.7 4.8 .5 3.2-.2 3.2-.8 3.2-1.6 3.2-3.9 4.8-7.4 7.4-3.2 2.5-3.2 1.3-3.2 .3-3.2-.4-3.2-1.1-3.5-2-2.9-2.7-1.5-2.1-1.5-3.2-.9-3.2-.7-4.8-.1-6.4 .7-6.4 1-4.8 1.4-4.1 2.4-3.9 2.4-2.2 3.2-1.4zM296.8 86.5l1.6 .2 1.6 1.4 .5 1.7-.1 12.8 1.6 16 0 9.6-1.1 8-2.5 7.5-1.6 2.7-1.6 1.6-1.6 .9-1.6 .2-1.6-.6-1.6-1.6-1.6-3.8-1.3-10.1-2.5-12.8-.2-6.4 .8-5.8 1.6-6.6 1.6-4.9 1.6-3.5 3.2-4.1 3.2-2.1 1.6-.3z"/>
<path fill="#d7634f" d="M287.2 31.7l1.6-.8 1.6-.2 3.2 .3 3.2 .9 3.2 1.5 2.9 2 3.5 3.7 3.2 5.9 2.5 6.4 1.3 4.8 .4 3.2-.4 3.2-.9 1.6-1.3 1.1-1.6 .4-3.2-.9-3.2-2.6-3.2-3.9-3.2-5-10-17.9-.4-1.6 .3-1.6 .5-.5zM224.8 83.1l3.2-.6 4.8 .4 4.8 1.6 3.9 2.1 4.3 3.2 2.9 3.2 2.1 3.2 1.7 4.8 .4 3.2-.1 3.2-.8 3.2-1.6 3.2-3.8 4.8-5.8 5.7-3.2 2.4-3.2 1.4-3.2 .4-3.2-.4-3.2-1.2-3-1.9-1.8-1.7-2.2-3.1-1.4-3.2-.9-3.2-.6-4.8 0-6.4 .6-4.8 1.1-4.8 1.8-4.2 1.6-2.3 1.6-1.6 3.2-1.8zM292 99.3l1.6-.4 1.6 1.7 1.6 4.4 2 8.8 .9 8-.2 6.4-1.2 6.4-1.5 3.9-1.6 2.4-1.6 1-1.6 0-1-.9-.6-.7-1-2.5-3-12.8-.9-6.4 .3-4.8 1.4-5.7 1.6-4.1 1.6-2.9 1.6-1.8z"/>
<path fill="#c6413e" d="M292 35l1.6-.6 1.6 .1 2.8 .9 2.6 1.6 3.2 3.2 2.6 4.4 3.2 7.8 .7 3.8-.7 3.4-1.6 .9-1.6-.2-1.6-.8-3.2-3-1.6-2.1-3.2-5.7-4.9-10.1-.5-1.6 .2-1.6 .4-.4zM224.8 84.9l3.2-.9 4.8 .2 3.2 .9 4.8 2.4 3.2 2.3 3.1 3.2 2.1 3.2 1.7 4.8 .4 3.2-.2 3.2-.7 3.2-1.6 3.2-3.2 4.2-4.8 4.7-3.2 2.3-3.2 1.4-3.2 .5-2.3-.3-2.5-.7-3.2-1.8-3.7-3.9-1.7-3.2-1-3.2-.9-8 .2-4.8 .8-4.8 1.5-4.3 1.6-2.9 2.1-2.4 2.7-1.7zM292 111.5l1.6 .5 1.6 2.7 1.4 7.1-.6 6.4-.8 2.5-1.6 1.8-1.6-.5-1.6-2.8-1.7-7.4-.1-3.2 .7-3.2 1.1-2.6 1.6-1.3z"/>
<path fill="#b72230" d="M226.4 85.9l3.2-.6 3.2 .2 3.8 1.1 4.2 2.2 3.2 2.6 2.7 3.2 1.7 3.2 1.2 4.8 .1 3.2-.4 3.2-1.1 3.2-2 3.2-2.8 3.2-4.2 3.7-3.2 1.9-3.2 .9-4.8-.4-2.9-1.3-2.2-1.6-1.5-1.6-2-3.2-2-6.4-.3-8 .7-4.8 .9-3.2 1.3-2.9 1.6-2.4 1.6-1.6 3.2-1.8z"/>
<path fill="#991027" d="M226.4 87.6l3.2-.8 3.2 .1 3.2 .8 3.2 1.5 3.2 2.4 2.7 3 1.7 3.2 1.1 3.2 .4 3.2-.2 3.2-.8 3.2-1.6 3.2-2.4 3.2-4.1 3.7-3.2 1.9-3.2 .9-3.1-.1-1.7-.4-2.4-1.2-2-1.6-2-2.3-1.4-2.5-1.5-4.8-.5-3.2 0-4.8 1.3-6.4 2.3-4.8 1.4-1.6 3.2-2.2z"/>
<path fill="#760521" d="M231.2 88.2l3.2 .4 3.2 1.2 4.4 3.2 3.3 4.8 1.1 3.2 .4 3.2-.2 3.2-.8 3.2-1.6 3.2-1.8 2.2-5 4.2-3 1.3-3.2 .4-3.2-.7-1.6-.8-3.6-3.4-1.8-3.2-1-3.2-.6-6.4 .9-6.4 1.3-3.2 1.6-2.5 3.2-2.7 1.6-.7 3.2-.5z"/>
</g>
<g fill="none" stroke="#8a8a8a" stroke-width="0.45" stroke-dasharray="1.2 1.2" opacity="0.7">
<circle cx="262.2" cy="98.4" r="13.2"/>
<circle cx="262.2" cy="98.4" r="26.8"/>
<circle cx="262.2" cy="98.4" r="41.4"/>
<circle cx="262.2" cy="98.4" r="57.7"/>
<path d="M189.4 98.4L335.0 98.4"/>
<path d="M199.2 62.0L325.2 134.8"/>
<path d="M225.8 35.4L298.6 161.4"/>
<path d="M262.2 25.6L262.2 171.2"/>
<path d="M298.6 35.4L225.8 161.4"/>
<path d="M325.2 62.0L199.2 134.8"/>
</g>
<path stroke="#000" stroke-width="1.5" stroke-linecap="round" d="M244.8 105.4h.01M243.6 100.5h.01M243.7 95.4h.01M243.5 113.3h.01M240.7 109.0h.01M239.0 104.1h.01M238.3 99.0h.01M238.7 93.8h.01M255.2 75.5h.01M260.3 74.6h.01M265.5 74.7h.01M239.7 116.9h.01M236.8 112.6h.01M234.6 107.8h.01M233.4 102.7h.01M233.1 97.5h.01M233.7 92.3h.01M249.2 72.3h.01M254.1 70.4h.01M259.2 69.4h.01M264.4 69.4h.01M269.5 70.2h.01M235.9 120.4h.01M232.8 116.1h.01M230.5 111.4h.01M228.8 106.4h.01M228.0 101.2h.01M228.0 96.0h.01M228.7 90.8h.01M248.0 67.2h.01M252.9 65.4h.01M258.0 64.3h.01M263.3 64.1h.01M268.5 64.7h.01M273.6 66.0h.01M230.0 121.2h.01M227.2 116.8h.01M225.1 112.1h.01M223.7 107.2h.01M222.8 102.1h.01M222.7 96.9h.01M223.2 91.7h.01M243.8 63.4h.01M248.5 61.3h.01M253.4 59.9h.01M258.5 59.0h.01M263.7 58.9h.01M268.9 59.4h.01M273.9 60.6h.01M221.0 115.7h.01M219.2 110.8h.01M242.5 58.3h.01M247.3 56.2h.01M252.3 54.8h.01M257.4 53.9h.01M262.6 53.7h.01M267.8 54.0h.01"/>
<path clip-path="url(#cb)" fill="none" stroke="#666" stroke-width="0.5" opacity="0.75" stroke-linejoin="round" d="M237.0 84.0L243.9 87.3L250.8 90.9L257.7 84.0L262.2 79.5L271.5 78.3L280.8 79.5L285.3 85.5L287.7 94.5L285.3 103.5L281.4 111.0M254.7 86.7L246.9 93.3L243.6 99.6L248.4 105.9L254.7 109.2L262.8 114.0M326.4 126.0L324.9 128.7L321.6 132.0L318.6 138.3L316.8 143.1L310.5 147.9L305.7 146.4L297.6 146.4L292.8 147.9L283.8 148.5L273.6 149.1L267.3 156.0L265.2 162.0L266.4 169.5M292.8 147.9L294.6 152.7L296.1 162.3L295.2 169.5M204.9 54.0L209.4 65.7L211.8 74.7L216.3 79.5L223.8 82.5L229.8 84.0"/>
<g clip-path="url(#cb)" fill="none" stroke="#000" stroke-width="1.1" stroke-linejoin="round">
<path stroke-dasharray="3.2 1.6" d="M253.6 55.7l-1.6 .7-1.7 1.4-.7 1.6-.1 1.6 1.7 3.2 3.8 3.2 5 2.2 4.8 .9 3.2-.3 1.6-.5 1.3-.7 1.3-1.6 .4-1.6-.7-3.2-2.3-3.1-2.3-1.7-3.3-1.6-4-.9-3.2-.2-3.2 .6M287.2 89.6l-1.6 .6-2.1 2.8-.7 3.2 .4 1.6 .8 .8 1.6 0 1.6-.8 2-3.2 .2-3.2-.6-1.1-1.6-.7"/>
<path stroke-dasharray="3.2 1.6" d="M250.4 46.4l-4.8 1.1-3.2 1.4-3.2 2.2-1.6 1.9-.7 1.6-.4 3.2 .3 1.6 1.7 3.2 4.7 4.8 7.2 4.8 6.5 3.2 12.6 4.8 3.3 2.2 1.6 2.6 .6 3.2-.5 9.6 .4 4.8 1.1 3.2 1.6 1.8 1.6 1 3.2 .5 3.2-.7 3.2-1.6 3.4-2.6 2.7-3.2 2.1-3.2 2-4.8 .9-4.8 0-3.2-.8-3.2-1.6-3.2-8.3-9.6-4.9-8-2.4-3.2-3.1-3.2-2.8-2.2-6.4-3.4-6.4-2-6.4-.8-6.4 .2"/>
<path stroke-dasharray="3.2 1.6" d="M244 36.8l-6.4 1.5-4.8 1.8-4.8 2.8-3.2 3-2.4 3.9-.6 3.2 .5 3.2 1.7 3.2 4.5 4.8 6.8 4.8 8.3 4.8 18 9.5 4.3 3.3 2.1 3.2 .9 3.2 .7 9.6 .9 4.8 1.4 3.2 2.5 2.7 1.6 .9 3.2 1 4.8-.1 4.8-1.3 5.9-3.2 3.8-3.2 4.1-4.8 3-4.8 2.7-6.4 1-4.8 0-3.2-.6-3.2-2.4-4.8-10.6-12.8-10.1-12.9-3.2-3.4-4.8-3.9-6.4-3.2-8-2.1-9.6-.9-9.6 .6"/>
<path d="M186.4 100.3l2.7-8.9 3.2-8 2.8-4.8 4.5-4.8 4.4-2.7 3.2-1.1 3.2-.6 6.4 .1 8 1.6 9.6 3.4 9.6 4.4 11 6.1 5 3.9 2 2.5 1.6 3.2 .7 3.2 1.2 9.6 1.4 4.8 1.8 3.2 3.4 3.2 3.9 1.8 4.8 .9 4.8 .1 14.4-1.1 4.8 .5 4.8 1.3 9.6 4.8 8.7 6.1 3.4 3.2 2.7 3.2 2.8 4.9M336.8 153.8l-1.6 2.7-1.9 2.1-2.9 2.3-4.4 2.5-8.4 3-11.2 2.2-9.6 .9-12.8 .2-25.6-1-17.6-1.2-9.6-1.4-6.4-1.5-6.4-2.1-8-3.7-6.4-3.8-7.9-6-5-4.8-4.7-5.9M290.4 28.3l3.2-.5 3.2 .5 4.8 1.8 3.2 1.8 8 6.1 7.8 8.6 6.2 9.6 2.2 4.8 1.6 4.8 .7 4.8-.3 3.2-.6 1.8-1.6 2.2-1.6 .9-3.2 .3-3.2-1-3.2-1.8-4.8-3.6-6.4-5.7-8.2-9.1-6.3-9.6-2.4-4.8-1.8-4.8-.6-3.2 .1-3.2 1.6-2.9 1.6-1"/>
<path d="M298.4 40.9l1.6-.6 1.6 .1 3.2 1.1 4.8 3.3 4.8 5 3.2 4.8 1.9 4.8 .5 3.2-.3 1.6-1.1 1.6-1 .5-1.6 .1-3.2-.9-4.8-3.1-4.8-4.8-4.2-6.2-1.8-4.8-.3-3.2 .6-1.6 .9-.9M220 78.5l3.2-.3 4.8 .2 8 1.9 9.6 4.3 7.7 5.2 3.1 3.2 2 3.4 1.4 4.6 2.5 12.8 1.3 3.2 2 3.2 3.3 3.2 3.9 2.4 4.8 1.8 11.2 3.3 4.5 2.1 2.4 1.6 3.5 3.2 2 3.2 .6 3.2-.3 1.6-1.5 2.4-3 2.4-3.4 1.6-4.8 1.3-4.8 .9-14.4 1-20.8-.4-11.2-1.2-9.6-2.3-8-3.3-4.8-2.8-3.8-2.8-3.4-3.2-2.6-3.2-2-3.2-2.1-4.8-.8-3.2-.6-4.8 .6-9.6 2.6-12.8 1.6-4.8 2.3-4.8 2.2-3.2 3.4-3.2 4.2-2.3 3.2-1"/>
<path d="M226.4 84.8l6.4 .1 6.4 1.8 6.4 3.5 5 4.4 2.2 3.2 1.4 3.2 3.2 14.4 2.6 6.9 3.2 5 7 7.3 2.3 3.2 .4 1.6-.5 1.6-1.5 1.6-3.3 1.6-2.8 .8-8 1.4-9.6 .4-9.6-.9-8-2.1-6-2.8-5.2-3.7-4-4.3-2-3.2-1.4-3.2-1.5-6.4-.1-8 1.5-9.6 2.7-7.9 3.2-4.8 4.1-3.3 2.3-1 3.2-.8"/>
<path d="M226.4 92.8l4.8-1.3 3.2 .2 3.2 .9 3.2 1.5 2.7 2.1 3.8 4.8 2.3 6.4 4.6 22.4-.2 3.2-.7 1.6-1.5 1.6-1.4 .9-3.2 1.1-4.8 .5-4.8-.4-4.8-1.2-3.2-1.4-4.2-2.7-3.3-3.2-2.1-3.2-1.4-3.2-1.1-4.8-.3-4.8 .6-6.4 1.1-4.8 2.2-4.8 2.1-2.6 3.2-2.4"/>
<path d="M231.2 103.3l1.6-.6 1.6-.1 1.6 .5 1.6 1 1.6 1.7 1.7 3.2 1.5 6.4 .1 4.8-.7 3.2-1 1.8-1.6 1.1-3.2 .4-3.2-1.1-3.2-3-1.6-2.9-1-4.3 .1-4.8 .9-3.2 .8-1.6 2.4-2.5"/>
</g>
<circle cx="262.2" cy="98.4" r="72.8" fill="none" stroke="#1a1a1a" stroke-width="0.8"/>
<g clip-path="url(#cc)">
<rect x="0" y="0" width="500" height="545" fill="#f8f1ed"/>
<path fill="#eff3f5" d="M459 34.7l1.6-.3 3.2 .5 3.2 1.2 6.4 3.3 14 8.8 4 3.2 2.8 3.1 0 34.6-6.4-4.3-20.8-15.3-4.8-2.5-3.2-.6-1.6 .5-1.6 1.1-8.3 9-10.9 10.1-4.8 3.7-4.8 2.7-3.2 .8-4.8 .2-19.2-1.9-12.8-.3-8 .6-6.4 1.7-3.2 1.6-3.8 3.2-2.2 3.2-1.3 3.2-.9 4.8 0 4.8 1.8 16-.4 3.2-1.8 4.8-4.2 6.3-4.8 4.5-3.2 1.4-1.6 .1-3.2-1.1 0-106.7 6.4-.7 6.4-.1 19.2 1.8 36.8 1.2 32 1.8 3.2-.8 1.6-1.2 6.4-9 3.2-2.2zM425.4 123.4l3.2 0 3.2 .5 4.8 2 5.2 3.9 3.6 4.8 1 3.2 0 3.2-2.4 8-.4 3.2 .7 3.2 2.7 6.4 .3 3.2-1 3.2-1.7 2.6-2.4 2.2-55.2-.2-3.2-3-2.3-3.2-1.2-3.2-.5-3.2 .3-6.4 1.1-6.4 1.6-4.8 1.9-3.2 3.6-3.2 2.6-1.6 7.2-3.2 16.1-5.5 6.4-1.8 4.8-.7z"/>
<path fill="#ddebf2" d="M460.6 38.3l1.6-.1 3.2 .7 4.8 2.5 4.5 3.6 4.2 4.8 4.9 8 3.4 8 1.4 4.8 .4 3.2-.4 3.2-.8 1-1.6 .7-1.6-.2-3.2-1.3-3.2-1.9-17.2-12.7-5.2-4.8-1-1.6-.8-3.2-.3-3.2 .3-3.2 1-3.2 2.1-3.2 1.9-1.4 1.6-.5zM351.8 48.1l3.2-.8 4.8-.5 14.4 .6 24-.1 17.6 .9 14.4 1.5 6.4 1.3 4.8 1.4 5 2.2 2.7 1.6 3 3.2 .5 1.6 0 3.2-.8 3.2-1.5 3.2-2.1 3.2-4.2 4.8-9 8.1-4.8 3.3-3.2 1.6-3.2 .9-4.8 .4-25.6-1.7-14.4 0-6.4 1.2-3.2 1.3-3.2 1.9-4 3.8-2 3.2-1 3.2-.8 6.4 .3 12.8-.8 4.8-1.3 2.5-1.6 1.5-1.6 .7-1.6-.1-1.6-.9-1.9-2.1-1.5-3.2-1.3-4.8-.8-8 0-14.4-.9-5.8 0-42.3 3.2-2.5 4.8-2.3zM422.2 124.9l6.4-.2 3.2 .6 3.1 1.3 4.7 3.2 1.8 1.9 1.9 2.9 .8 3.2-.3 3.2-4.6 9.6-.6 3.2 .4 6.4-.4 1.6-1.2 1.6-4 2.6-4.8 1.6-6.4 1-6.4 .3-6.4-.3-8-1.3-4.8-1.6-4.8-2.8-1.6-1.5-1.8-2.8-1.1-3.2-.4-3.2 0-3.2 .8-4.8 1.2-3.2 2.1-3.2 3.8-3.2 6.2-3.2 11.6-4.2 9.6-2.3z"/>
<path fill="#c7e0ed" d="M460.6 41.8l3.2-.4 4.8 2 3.9 3.2 4 4.8 3.8 6.4 3.2 8 .6 4.8-.5 1.6-.6 .8-1.6 .5-1.6-.3-3.2-1.4-3.2-2.1-6.8-5.5-5.6-6.4-2.5-4.8-1.1-4.8 .5-3.2 1.1-2 1.6-1.2zM361.4 49.7l12.8 .3 16-.8 12.8 0 14.4 1 11.2 1.8 9.6 3 3.2 1.6 3.2 2.3 2 2.1 1.6 3.2 .3 1.6-.3 3.2-2.2 4.8-5.4 6.4-7.2 6.1-6.4 3.5-4.8 1.3-4.8 .4-33.6-1.9-4.8-.1-4.8 .4-6.4 2.2-6.7 4.1-4.8 4.8-2.4 3.2-.5 1.3-1.6-1.8-2.5-7.5-5.5-12 0-24.7 3.2-3.9 4.8-3.6 4.8-1.7 4.8-.6zM419 126.4l6.4-.7 3.2 .2 3.2 .8 3.2 1.5 2.4 1.6 2.4 2.4 1.5 2.4 .6 3.2-.6 3.2-1.5 3-3.7 5-1.8 3.2-1.2 6.4-.7 1.6-2.2 2.1-3.2 1.6-4.8 1.1-4.8 .5-6.4-.2-4.8-.8-4.1-1.1-3.4-1.6-3.8-3.2-1.9-3.2-1-3.2-.3-6.4 .6-3.2 1.2-3.2 2.4-3.2 4.5-3.2 7.4-3.3 11.2-3.3z"/>
<path fill="#acd2e5" d="M463.8 44.8l3.2 .8 3.2 2.2 3.2 3.5 2.2 3.3 2.6 4.8 1.6 4.8 0 3.2-1.6 1.4-3.2-.8-4.8-3.4-3.7-3.6-3.4-4.8-2-4.8-.3-3.2 .4-1.6 1-1.2 1.6-.6zM385.4 51.3l12.8-.6 12.8 .6 11.2 1.6 9.6 2.4 6.4 2.9 4.8 3.7 2.3 3.9 .3 1.6-.4 3.2-2.3 4.8-2.6 3.2-3.2 3.2-6.9 4.9-6.4 2.6-4.8 .8-6.4 .1-36.8-2.3-6.4 1.3-11.2 4.9-3.2 .2-1.6-.7-1.6-1.3-2.9-4.1-2.6-4.8-2.2-6.4-.3-9.9 .8-2.9 2.4-4.3 1.7-2.1 3.1-2.6 3.2-1.7 3.2-.9 4.8-.5 11.2 .1 11.2-.9zM415.8 128.1l4.8-1 4.8-.3 4.8 .7 3.2 1.3 3.2 2.2 1.8 2 1.4 3.2-.2 3.2-.6 1.6-2.1 3.2-7.1 8-2.8 5.9-2.1 2.1-2.7 1.2-3.2 .7-4.8 .3-4.8-.5-3.2-.9-3.2-1.4-3.2-2.6-1.2-1.6-1.7-3.2-.9-3.2-.4-3.2 .2-3.2 .8-3.2 .8-1.6 3.1-3.2 5.6-3.2 9.7-3.3z"/>
<path fill="#8dc2dc" d="M465.4 50.8l1.6-.7 1.6 .7 3.2 3.2 1.6 2.4 1.3 3 .4 1.6-.5 1.6-1.2 .3-1.6-.8-3.2-2.9-2.8-4.6-.5-1.6 .1-2.2zM387 52.9l11.2-.6 11.2 .5 11.2 1.5 9.6 2.6 6.4 3.1 3.2 2.4 1.6 1.8 1.5 3.2 .2 1.6-.6 3.2-2.7 4.8-4.8 4.9-6.4 4.1-6.4 2.2-6.4 .8-8-.1-32-2.7-4.8 .6-11.2 3.8-3.2 .2-1.6-.5-3.2-2.4-2.1-2.9-2.4-4.8-1.4-4.8-.3-4.8 .4-3.2 1.9-4.8 2.3-3.1 1.9-1.7 2.9-1.8 4.8-1.5 14.4-.2 12.8-1.4zM420.6 128.1l3.2-.2 3.8 .3 2.6 .7 3.2 1.5 2.9 2.6 1 1.6 .5 1.6-.4 3.2-.8 1.7-2.5 3.1-7.8 6.4-6.8 6.4-2.1 .9-3.2 .5-3.2-.4-3-1-4.3-3.2-3.3-4.8-1.3-4.8 .3-4.8 1.9-3.2 4.1-3.2 7.5-3.2 7.7-1.7z"/>
<path fill="#6bacd1" d="M387 54.4l9.6-.6 11.2 .3 9.6 1.2 9.6 2.4 6.4 2.7 3.2 2.2 1.8 1.6 1.9 3.2 .4 1.6-.2 3.2-2.6 4.8-4.9 4.8-6 3.5-6.4 1.9-8 .7-9.6-.3-11.2-1-12.8-1.8-4.8-.2-4.8 .8-8 2.5-3.2 .3-1.6-.3-3.2-1.8-2.3-2.7-1.8-3.2-1.5-4.8-.3-4.8 .5-3.2 1.3-3.2 2.2-3.2 3.5-2.8 4.8-1.7 14.4-.3 12.8-1.8zM417.4 129.6l4.8-.6 3.2 .1 3.2 .6 3.2 1.4 2.4 1.9 1 1.6 .5 1.6-.4 3.2-1.9 2.7-2.2 2.1-4.2 2.8-4.8 2.6-6.4 2.3-3.2 .2-3.2-.7-3.2-2-1.6-1.6-1.6-2.5-1.1-4.3 .8-3.2 2.7-3.2 2.4-1.6 3.4-1.6 6.2-1.8z"/>
<path fill="#4695c4" d="M385.4 56.2l9.6-1 11.2 .1 11.2 1.5 8 2 6.4 2.8 3.2 2.3 1.9 1.9 1.5 3.2 .2 1.6-.7 3.2-1.3 2.3-2 2.5-3.9 3.2-5.3 2.7-6.4 1.7-8 .6-11.2-.4-9.6-1.1-12.8-2.3-3.2-.1-4.8 .6-8 2.3-3.2 .1-1.6-.4-3-2.1-1.8-2.3-1.9-4.1-.6-3.2-.1-3.2 .7-3.2 1.4-3.2 2.1-2.5 3.2-2.2 3.2-1.1 3.2-.4 11.2 0 11.2-1.8zM415.8 131l4.8-.8 3.2-.1 5.5 1.3 2.5 1.6 1.2 1.6 .6 1.6 0 1.6-.6 1.6-1.2 1.6-3.2 2.7-6.4 3.1-6.4 1.4-3.2-.2-3.2-1.2-3.1-2.6-1-1.6-.5-3.2 .4-1.6 1-1.6 1.7-1.6 3.1-1.9 4.8-1.7z"/>
<path fill="#3480b9" d="M385.4 57.6l9.6-1.1 9.6-.1 9.6 1.1 9.6 2.4 6.3 2.7 4.1 3.2 1.9 3.2 .3 1.6-.5 3.2-2.5 3.9-4.8 3.8-4.8 2.2-6.4 1.5-8 .6-11.2-.6-8-1-11.2-2.4-4.8-.6-3.2 .2-9.6 2.5-3.2-.2-3.2-1.7-1.6-1.7-1.7-3.3-.8-3.2 0-3.2 .8-3.2 1.7-3.1 1.6-1.7 3.2-1.9 3.2-.8 12.8-.2 11.2-2.1zM420.6 131.3l3.2 0 3.2 .8 1.9 .9 1.7 1.6 .7 1.6-.1 1.6-.7 1.6-1.5 1.6-2.2 1.6-3 1.4-4.8 1.3-4.8-.1-3-1-1.8-1.3-1.4-1.9-.4-1.6 .2-1.6 1-1.6 1.7-1.6 3-1.6 3.9-1.2 3.2-.5z"/>
<path fill="#266caf" d="M395 57.7l11.2 0 9.6 1.4 8 2.2 6.4 3.4 2.7 2.7 .9 1.6 .5 1.6-.4 3.2-2 3.2-1.6 1.6-4.9 3.1-3.2 1.2-4.8 1.1-9.6 .7-6.4-.2-8-.9-19.2-4.2-3.2 .1-8 2.2-3.2 .2-3.2-1.2-1.6-1.4-1.4-2.3-1-3.2 .3-4.8 2.1-3.9 3.2-2.4 4.8-1.1 8 .2 3.2-.3 12.8-2.8 8-1zM419 132.8l4.8 .1 3.8 1.7 1 1.6-.1 1.6-1 1.6-3.7 2.4-4.8 1.2-4.2-.4-2.9-1.6-1.1-1.6 0-1.6 .9-1.6 2.5-1.8 4.8-1.6z"/>
<path fill="#185493" d="M391.8 59.2l8-.5 8 .3 8 1.3 6.4 1.9 4.8 2.3 3.5 2.9 1.5 3.2-.2 3.2-2.1 3.2-4.3 3.2-6.4 2.3-6.4 1-8 .1-9.6-.9-6.4-1.2-11.2-3.4-3.2-.7-3.2 .1-8 2.2-3.2 0-1.6-.5-1.6-1.2-1.6-2.4-.7-3.4 .7-3.5 1.6-2.5 1.6-1.3 1.6-.8 3.2-.6 8 .4 3.2-.4 11.2-3.1 6.4-1.2zM415.8 136.1l3.2-1.3 3.2 0 2.4 1.4 0 1.6-2.4 1.9-3.2 .6-1.6-.2-1.8-.7-.8-1.6 1-1.7z"/>
<path fill="#0a3b70" d="M390.2 60.7l6.4-.8 8 0 8 1 6.4 1.6 4.8 2 4.1 2.9 1.9 3.2-.2 3.2-2.3 3.2-2 1.6-3.1 1.6-5.6 1.6-7.2 .8-9.6-.3-8-1.3-6.4-1.8-9.6-3.8-3.2-.7-3.2 .5-6.4 2.1-3.2-.2-2.2-1.7-.8-1.6-.3-1.6 .8-3.2 .9-1.2 1.6-1.2 3.2-.8 6.4 .6 3.2 0 11.2-4.1 6.4-1.6z"/>
<path fill="#fbe4d6" d="M367.8 24.1l8.3-1.5 63.9 0 6.2 2.3 4.2 2.5 1.7 1.6 1 1.6 .3 1.6-.8 3.2-3.2 5-3.2 2.5-4.8 1.3-9.6 .4-16-.2-22.4-.8-14.4-1-9.6-1.4-10.8-2.6-4.3-1.6-2.5-1.6-1.2-1.6 .1-1.6 1-1.6 2.1-1.6 6-2.7 8-2.2zM459 70.2l3.2-.2 4.8 1.7 6.4 4.2 7.1 5.9 4.7 4.8 3.7 4.8 2.6 4.8 1.6 4.8 .8 6.4-.4 6.4-1.6 6.4-3.9 12.8-2.2 14.4-2.3 4.8-2.1 2.5-2.8 2.3-3.6 2-3.2 1.1-6.4 .9-3.2-.2-3.2-.8-4.8-2.4-3.9-3.8-1.4-3.2-.2-3.2 .6-8-1.6-4.8-3.8-4.8-3.8-3.2-3.5-2.3-4.8-2-4.8-.4-6.4 1.2-43.2 13.5-3.2 .1-1.6-.6-3.2-3.7-3.2-6.3-1.5-4.3-1-4.8-.3-4.8 .7-4.8 1.2-3.2 2.1-3.2 3.6-3.2 3.2-1.7 4.8-1.5 9.6-1.1 14.4 .4 17.6 2.4 3.2 0 3.2-.7 4.8-2.7 20.8-18.5 3.2-2.5 3.2-1.7z"/>
<path fill="#fcd3bc" d="M391.8 24.1l11.2-.8 11.2-.1 11.2 .5 9.6 1 4.8 1.2 4.8 2 3.3 2.7 .8 1.6 .2 1.6-1 3.2-1.4 1.6-1.9 1.3-3.2 1.1-6.4 1-12.8 .6-14.4-.1-16-.9-12.1-1.4-7.2-1.6-4.3-1.6-2.6-1.6-1.1-1.6 .1-1.6 1.4-1.6 1.8-1.1 5.3-2.1 9.1-2 9.6-1.3zM457.4 73.7l3.2-1 1.6-.1 3.2 .6 4.8 2.4 6.1 4.6 4.8 4.8 3.6 4.8 2.6 4.8 1.9 6.4 .4 4.8-.3 4.8-1 4.8-1.6 4.8-6.6 14.4-4.5 11.2-2.4 3.2-3 2.2-3.2 1.2-3.2 .4-3.2-.4-3.6-1.8-1.5-1.6-.9-1.6-2.4-9.6-3.1-4.8-4.7-4.8-4.6-3.6-4.8-2.9-3.2-1.2-3.2-.4-3.2 .4-27.2 8.6-8 2-6.4 .7-4.8-.3-4.8-1.8-3.2-2.5-2.7-3.8-1.5-3.2-.8-3.2-.4-4.8 .4-3.2 1-3.2 2-3.2 2-2.1 3.2-2.2 3.2-1.5 4.8-1.3 4.8-.7 6.4-.3 12.8 .9 16 3.1 4.8-.3 1.6-.7 3.2-2.2 10.7-10.3 6.9-6 4.8-3.5 3.2-1.8z"/>
<path fill="#f8bb9e" d="M401.4 25.8l17.6-.1 14.4 1.5 4.8 1.2 3.2 1.4 2.6 2.4 .5 1.6-.5 1.6-1 1.2-3.2 1.7-4.8 1.2-8 .9-11.2 .5-11.2-.3-9.6-.6-9.8-1.4-6-1.6-3.2-1.6-1.3-1.6 .3-1.6 1.9-1.6 3.8-1.6 6.3-1.5 14.4-1.7zM459 75.3l3.2-.5 4.8 1 4.8 2.7 4 3.3 4.4 4.8 3.1 4.8 2.1 4.8 1.1 4.8 .2 4.8-.9 6.4-1.4 4.8-2.1 4.8-4.1 7-4.8 6.7-3.2 3.6-3.2 2.5-3.2 .8-3.2-.9-3.2-2.8-7-7.3-5.6-4.8-8.2-6.1-4.8-2.3-1.6-.3-3.2 .3-16 6.1-11.2 3.4-6.4 1.5-6.4 .6-6.4-.7-4.8-1.9-3.2-2.5-3.2-4.5-1.2-3.2-.5-3.2 .1-3.2 .9-3.2 1.7-3.2 1.4-1.6 2.4-2.1 3.2-1.8 4.8-1.7 4.8-1 4.8-.4 6.4 0 9.6 1.1 14.4 4.1 3.2 .5 1.6-.1 1.6-.5 3.2-2.5 7.5-8.4 8.5-7.8 6.4-4.6 4.8-2.1z"/>
<path fill="#f2a17f" d="M395 28.8l14.4-1.2 14.4 .7 5 .7 5.8 1.6 2.6 1.6 .7 1.6-1.1 1.6-3.4 1.5-8 1.5-12.8 .6-12.8-.6-9-1.4-4.7-1.6-1.7-1.6 .5-1.6 2.8-1.6 7.3-1.8zM460.6 76.9l3.2-.1 3.2 .8 4.6 2.6 3.8 3.2 2.8 3.2 3.1 4.8 1.9 4.8 1 4.8 .1 4.8-.6 4.8-1.4 4.8-2.2 4.8-2.9 4.8-3.8 4.6-3.2 2.9-3.2 1.9-3.2 .9-1.6 0-4.8-1.5-6.4-4.3-17.6-13.9-3.2-1.4-1.6 .1-1.6 .8-8.4 5.1-7.5 3.2-11.3 3.4-8 1.4-6.4-.1-3.2-.6-3.2-1.2-4.8-3.2-3.2-4.5-1.1-3.2-.2-3.2 1.2-4.8 1.7-2.8 1.6-1.7 4.8-3.2 4.8-1.7 4.8-1 6.4-.4 6.4 .3 6 .9 5.2 1.4 4.8 1.8 8 4 1.6 .5 1.6-.1 1.6-1 8.1-11.4 6.3-6.8 8-6.1 4.8-2.4 3.2-.8z"/>
<path fill="#e48066" d="M403 30.6l8-.5 8.8 .5 6.2 1.6 1.2 1.6-2.8 1.6-7 1.1-6.4 .2-8-.6-4.1-.7-3.1-1.6 .9-1.6 6.3-1.6zM462.2 78.6l3.2 .4 3.2 1.2 4.6 3.2 3.1 3.2 2.2 3.2 2.3 4.8 1.2 4.8 .4 4.8-.5 4.8-1.3 4.8-2.1 4.8-3.2 4.8-3.5 3.8-3.2 2.4-3.2 1.5-3.2 .5-3.2-.3-4.8-2-4.8-3-5.8-4.5-5.1-4.8-2.6-3.2-1.7-3.2-.4-3.2 1.1-4.8 2.1-4.8 3-4.8 4.2-4.8 5.2-4.4 4.8-3 4.8-1.8 3.2-.4zM391.8 97.7l6.4-.1 6.4 .7 6.4 1.7 4.8 2 3.6 2.2 3.4 3.2 1.4 3.2-.7 3.2-2.7 3.2-4.7 3.2-6.7 2.9-6.4 2.1-6.4 1.4-6.4 .5-4.8-.5-5-1.6-4.6-3.1-2.6-3.3-1.5-4.8 .6-4.8 1.7-3.2 1.3-1.6 3.7-2.8 6.4-2.6 6.4-1.1z"/>
<path fill="#d7634f" d="M455.8 81.6l4.8-1.3 3.2 .1 3.2 .8 3.2 1.7 3.2 2.7 3.3 4.2 2.4 4.8 1.2 4.8 .3 4.8-.6 4.8-1.4 4.8-2 4.1-3.2 4.5-3.2 3.1-3.2 2-3.2 1.2-3.2 .2-4.8-1-3.2-1.5-4.8-3.1-5.3-4.7-2.7-3.2-1.9-3.2-1-3.2-.1-3.2 .8-4.8 1.2-3.2 2.9-4.8 2.6-3.2 3.5-3.3 4.8-3.4 3.2-1.5zM388.6 99.3l6.4-.7 6.4 .3 6.4 1.3 4.8 1.8 3.7 2.2 3.3 3.2 1.4 3.2-.4 3.2-2.3 3.2-4.5 3.2-4.4 2-6.4 2.1-6.4 1.3-4.8 .4-4.8-.4-4.8-1.5-3.9-2.3-2.9-3.2-1.4-3.2-.4-1.6 .2-3.2 2-4.3 3.2-3.1 4.8-2.6 4.8-1.3z"/>
<path fill="#c6413e" d="M455.8 83l4.8-1.1 3.2 .1 3.2 1 3.2 1.8 3.2 3 2.5 3.6 1.5 3.2 1.2 4.8 .3 4.8-.7 4.8-1.5 4.8-1.7 3.2-3.2 4.3-3.2 2.7-3.2 1.8-3.2 .8-3.2 0-3.2-.7-3.2-1.4-4.8-3.1-3.1-2.8-2.6-3.2-1.8-3.2-1.4-4.8 0-3.2 1-4.8 1.4-3.2 2-3.2 2.7-3.2 3.4-3.1 3.2-2.1 3.2-1.6zM387 100.8l4.8-1 6.4-.2 6.4 .9 4.8 1.5 4.3 2.2 3.4 3.2 1.5 3.2-.3 3.2-2.1 3.2-2 1.6-4.8 2.7-6.4 2.2-6.4 1.2-4.8 .2-4.8-.6-3.2-1-3.2-1.8-3.2-3.1-1.6-3.3-.4-2.9 .3-1.6 1.3-3.2 3-3.2 2.5-1.6 4.5-1.8z"/>
<path fill="#b72230" d="M455.8 84.5l3.2-.9 3.2-.2 3.2 .6 3.2 1.6 3.1 2.6 2.5 3.2 1.6 3.2 1.3 4.8 .2 3.2-.4 4.8-1.3 4.8-1.6 3.2-2.2 3.2-3.2 3-3.2 1.9-3.2 1-3.2 .1-3.2-.6-3.2-1.3-3.8-2.5-3.4-3.2-2.3-3.2-1.5-3.2-.7-3.2-.2-3.2 .5-3.2 1-3.2 1.6-3.2 2.3-3.2 3.3-3.2 3.2-2.2 3.2-1.5zM391.8 100.9l4.8-.4 5.4 .5 5.8 1.6 3.3 1.6 2.2 1.6 2.6 3.2 .7 3.2-1.1 3.2-2.9 2.9-3.1 1.9-4.9 1.9-5 1.3-4.6 .5-4.8-.2-4.8-1.2-3.2-1.6-2.6-2.3-1.9-3.2-.5-3.2 .8-3.2 2.4-3.2 2-1.6 4.6-2.2 4.8-1.1z"/>
<path fill="#991027" d="M460.6 84.9l3.2 .3 3.2 1.2 2.5 1.8 2.3 2.4 1.6 2.4 1.3 3.2 .8 3.2 .3 4.8-.8 4.7-1.2 3.3-1.7 3.2-1.9 2.4-2.7 2.4-2.1 1.3-3.2 1-3.2 .3-3.2-.6-3.2-1.4-5-3.8-2.5-3.2-1.6-3.2-.9-3.2-.2-3.2 .3-3.2 1-3.2 1.7-3.2 2.4-3.2 3.2-2.8 3.2-2 3.2-1.2 3.2-.5zM390.2 102.2l4.8-.6 4.8 .1 4.8 .9 3.9 1.6 2.6 1.6 2.8 3.2 .8 3.2-1.1 3.2-2.6 2.6-3.2 1.9-4.8 1.8-3.2 .8-4.8 .5-4.8-.4-3.2-.8-3.2-1.5-2.1-1.7-2.2-3.2-.4-1.6 .1-3.2 1.4-2.7 1.9-2.1 2.9-1.8 4.8-1.8z"/>
<path fill="#760521" d="M459 86.5l3.2 0 3.2 .9 3.2 2 1.6 1.6 1.6 2.3 1.4 2.9 .8 3.2 .3 3.2-.9 6.4-1.3 3.2-1.9 3-1.6 1.8-3.2 2.4-4.8 1.5-3.2-.1-3.2-1-4.8-3.2-2.4-2.8-1.8-3.2-.9-3.2-.3-3.2 .3-3.2 .9-3.2 2.9-4.8 4.5-4 3.2-1.6 3.2-.9zM396.6 102.6l6.4 .7 3.2 1.1 3.2 1.9 2.5 2.7 .7 1.6-.1 3.2-.8 1.6-2.3 2.3-3.2 1.8-3.2 1.3-4.8 1-4.8 .2-3.2-.5-3.2-1-3.1-1.9-1.7-1.8-1.4-3 .2-3.2 1.9-3.2 2.5-2 3.2-1.5 3.2-.9 4.8-.4z"/>
</g>
<g fill="none" stroke="#8a8a8a" stroke-width="0.45" stroke-dasharray="1.2 1.2" opacity="0.7">
<circle cx="419.6" cy="98.4" r="13.2"/>
<circle cx="419.6" cy="98.4" r="26.8"/>
<circle cx="419.6" cy="98.4" r="41.4"/>
<circle cx="419.6" cy="98.4" r="57.7"/>
<path d="M346.8 98.4L492.4 98.4"/>
<path d="M356.6 62.0L482.6 134.8"/>
<path d="M383.2 35.4L456.0 161.4"/>
<path d="M419.6 25.6L419.6 171.2"/>
<path d="M456.0 35.4L383.2 161.4"/>
<path d="M482.6 62.0L356.6 134.8"/>
</g>
<path stroke="#000" stroke-width="1.5" stroke-linecap="round" d="M411.0 108.8h.01M407.6 104.7h.01M412.9 115.9h.01M408.4 113.4h.01M404.8 109.8h.01M402.2 105.4h.01M409.2 82.8h.01M413.8 80.6h.01M418.8 79.7h.01M423.9 80.2h.01M404.6 117.0h.01M400.9 113.3h.01M398.1 109.0h.01M396.4 104.1h.01M403.7 80.6h.01M407.9 77.6h.01M412.6 75.5h.01M417.7 74.6h.01M422.9 74.7h.01M427.9 76.0h.01M443.4 100.4h.01M447.4 107.0h.01M445.4 111.8h.01M400.8 120.6h.01M397.1 116.9h.01M394.2 112.6h.01M392.0 107.8h.01M390.8 102.7h.01M398.3 78.6h.01M402.2 75.1h.01M406.6 72.3h.01M411.5 70.4h.01M416.6 69.4h.01M421.8 69.4h.01M426.9 70.2h.01M448.7 96.7h.01M448.5 101.9h.01M452.4 108.5h.01M450.5 113.4h.01M393.3 120.4h.01M390.2 116.1h.01M387.9 111.4h.01M386.2 106.4h.01M390.0 81.1h.01M393.0 76.7h.01M396.6 72.9h.01M400.8 69.7h.01M405.4 67.2h.01M410.3 65.4h.01M415.4 64.3h.01M420.7 64.1h.01M425.9 64.7h.01M453.5 92.9h.01M453.9 98.2h.01M453.6 103.4h.01M457.4 110.1h.01M455.5 114.9h.01M453.0 119.5h.01M423.3 137.8h.01M418.1 137.9h.01M387.4 121.2h.01M384.6 116.8h.01M382.5 112.1h.01M386.2 77.3h.01M389.2 73.2h.01M392.7 69.4h.01M396.8 66.2h.01M401.2 63.4h.01M405.9 61.3h.01M410.8 59.9h.01M458.1 89.6h.01M459.0 94.7h.01M459.1 99.9h.01M458.6 105.1h.01M462.3 111.6h.01M460.5 116.5h.01M458.1 121.1h.01M381.1 75.7h.01M384.0 71.4h.01M387.4 67.4h.01M391.2 63.9h.01M395.4 60.8h.01M462.6 86.0h.01M463.7 91.0h.01M464.3 96.2h.01M464.2 101.4h.01M463.6 106.6h.01M467.3 113.2h.01M465.5 118.1h.01M376.0 74.1h.01M378.8 69.6h.01M382.0 65.5h.01M385.7 61.8h.01M469.2 92.5h.01M469.5 97.7h.01M469.3 102.9h.01M468.6 108.1h.01M369.7 74.9h.01M372.2 70.3h.01M375.0 66.0h.01M474.7 99.4h.01M474.4 104.6h.01M473.6 109.7h.01M362.8 78.1h.01M364.7 73.3h.01M367.1 68.7h.01M369.9 64.3h.01M357.8 76.6h.01M359.8 71.7h.01M362.1 67.1h.01"/>
<path clip-path="url(#cc)" fill="none" stroke="#666" stroke-width="0.5" opacity="0.75" stroke-linejoin="round" d="M394.4 84.0L401.3 87.3L408.2 90.9L415.1 84.0L419.6 79.5L428.9 78.3L438.2 79.5L442.7 85.5L445.1 94.5L442.7 103.5L438.8 111.0M412.1 86.7L404.3 93.3L401.0 99.6L405.8 105.9L412.1 109.2L420.2 114.0M483.8 126.0L482.3 128.7L479.0 132.0L476.0 138.3L474.2 143.1L467.9 147.9L463.1 146.4L455.0 146.4L450.2 147.9L441.2 148.5L431.0 149.1L424.7 156.0L422.6 162.0L423.8 169.5M450.2 147.9L452.0 152.7L453.5 162.3L452.6 169.5M362.3 54.0L366.8 65.7L369.2 74.7L373.7 79.5L381.2 82.5L387.2 84.0"/>
<g clip-path="url(#cc)" fill="none" stroke="#000" stroke-width="1.1" stroke-linejoin="round">
<path stroke-dasharray="3.2 1.6" d="M407.8 62.4l-2.4 1.8-.6 1.6 .3 1.6 1 1.6 1.6 1.6 2.4 1.6 3.4 1.6 6.3 1.6 5.6 .2 3.2-.8 1.6-.7 1.6-1.9 .1-1.6-.7-1.6-1.3-1.6-1.9-1.6-4.2-2.2-3.2-1.1-4.8-.9-4.8 0-3.2 .8"/>
<path stroke-dasharray="3.2 1.6" d="M407.8 56.1l-4.8 .7-3.2 1-2.6 1.6-1.4 1.6-.7 1.6 .1 3.2 1.7 3.2 3.2 3.2 2.9 2 4.8 2.4 5.6 2 5.6 1.3 6.4 .7 4.8-.1 4.8-.9 3.2-1.3 1.8-1.3 1.2-1.6 .5-1.6 0-1.6-1.3-3.2-2.7-3.2-4.4-3.2-6.3-3.1-6.4-2-6.4-1.2-6.4-.2"/>
<path stroke-dasharray="3.2 1.6" d="M406.2 51.4l-6.4 .4-6.4 1.7-4.4 2.7-2.3 3.2-.5 3.2 .2 1.6 1.3 3.2 4.1 4.8 4.2 3.2 7 3.7 7.7 2.7 8.3 1.9 8 .8 8-.1 6-1 4.3-1.6 2.4-1.6 1.5-1.6 1.2-3.2 0-1.6-1-3.2-3.5-4.8-6.1-4.8-8-4.2-8-2.9-9.6-2-8-.5"/>
<path stroke-dasharray="3.2 1.6" d="M396.6 46.4l-8 1.6-6.4 2.9-2.7 2.1-1.3 1.6-.9 1.6-.8 3.2 .7 4.8 2.6 4.8 4.7 4.8 7.3 5 8 3.6 9.6 3 11.2 2.2 11.2 .9 9.6-.3 8.3-1.6 4-1.6 2.1-1.3 2-1.9 .9-1.6 .7-3.2-.5-3.2-1.4-3.2-2.1-3.2-2.8-3.2-3.2-3-8-5.3-11.2-4.9-11.2-3.1-11.2-1.6-11.2 .1"/>
<path stroke-dasharray="3.2 1.6" d="M393.4 38.5l-11.2 1.4-4.8 1.3-4.8 2-3.2 1.8-3.2 2.7-1.7 2.1-1.6 3.2-.7 3.2 .1 3.2 .8 3.2 1.5 3.2 2 3.2 2.8 3.2 3.6 3.2 4.5 3.2 9.4 4.8 11.3 3.8 14.4 3.1 14.4 1.8 14.4 .7 12.8-.8 4.8-.8 4.5-1.4 2.9-1.6 1.5-1.6 1.1-3.2-.4-3.2-1.8-4.8-2.6-4.8-5.2-7.2-4.8-5.5-4.8-4.5-4.8-3.5-4.8-2.6-4.8-2-8-2.6-6.4-1.6-12.8-2.1-8-.5-6.4 0"/>
<path d="M458.2 22.6l5.6 4.4 4.8 4.9 5.7 6.7 4.6 6.4 5 8 3.4 6.4 4.3 9.6 2.6 7.4M494.2 151.7l-4.8 6-6.4 5.9-8 5.4-7.7 4M377.9 173l-6.9-3.5-6.4-4.1-4.8-3.8-4.7-4.6-3.8-4.8-2.8-4.8-2-4.8-1.3-4.8-.5-4.8 .2-4.8 1.4-6.4 2-4.8 2.8-4.8 3.7-4.8 4.9-4.8 4.3-3.2 5.4-2.9 5.8-1.9 5.4-.9 8-.3 14.4 .8 54.4 4.9 25.6 3.6 3.2-.5 1-1.2-.1-1.6-1.3-3.2-6.5-11.2-8.7-12.8-16.2-22.4-5.9-9.6-2.2-4.8-1.4-4.8-.4-4.8 .6-3.2"/>
<path d="M460.6 38.6l3.2 1.2 4.8 3.9 4.8 5.8 3.2 4.9 3.4 6.6 1.7 4.8 .7 4.8-.3 1.6-.7 .9-1.6 .1-1.6-.7-4.8-4.2-4.8-5.7-5.5-8-3.3-6.4-1.5-4.8 .1-3.2 .6-1 1.6-.6M406.2 101l8-.3 8 .3 9.6 .9 9.6 1.4 8 1.7 6.4 2 4.8 2 4.8 2.9 4.2 3.5 2.7 3.2 2.7 4.8 1.4 4.8 .3 4.8-.7 4.8-1.8 4.8-1.9 3.2-2.4 3.2-4.5 4.3-4.8 3.5-4.8 2.7-4.8 2.2-6.4 2.1-6.4 1.6-6.4 .9-12.8 .4-6.4-.5-6.4-1-6.4-1.6-6.4-2.3-4.8-2.2-4.8-2.8-4.8-3.6-3.7-3.7-2.4-3.2-2.6-4.8-1.5-4.8-.4-3.2 .4-4.8 1.3-4.8 2.5-4.8 2.4-3.2 4-4 4.8-3.6 4.8-2.6 4.8-1.8 6.4-1.6 6.4-.8"/>
<path d="M412.6 107.2l6.4-.4 6.4 .2 6.4 .7 6.4 1.2 9.7 3.3 4.7 2.5 3.1 2.3 3.2 3.2 2.2 3.2 1.5 3.2 .7 3.2 0 4.8-.8 3.2-1.5 3.2-2.2 3.2-3.1 3.2-3.1 2.4-7.2 4-8.8 2.9-9.6 1.4-9.6 0-9.6-1.6-4.8-1.4-4.8-2-6.8-4.1-3.6-3.2-2.6-3.2-1.8-3.2-1.1-3.2-.5-3.2 .1-3.2 .7-3.2 1.4-3.2 2.1-3.2 2.5-2.7 6.4-4.8 8-3.5 9.6-2"/>
<path d="M415.8 113.8l9.6-.3 8 1.2 6.6 2.3 3 1.6 3.2 2.3 2.5 2.5 2 3.2 1.3 4.8-.7 4.8-2.8 4.8-3.9 3.5-4.9 2.9-6.3 2.2-8 1.2-8-.2-6.4-1.2-6.4-2.5-4.8-3-3.2-3.1-2.7-4.6-.7-4.8 1.2-4.8 3.5-4.8 4-3.2 6.9-3.2 7-1.6"/>
<path d="M419 121.7l4.8-.2 4.8 .7 4.8 1.9 3.2 2.3 1.4 1.8 1.1 3.2-.5 3.2-2 3-2.2 1.8-4.2 2-3.2 .8-4.8 .4-4.8-.6-3.2-.9-3.2-1.6-2.2-1.7-1.3-1.6-1.3-3.2 .3-3.2 .7-1.6 2.2-2.5 3.2-2.1 6.4-1.9"/>
</g>
<circle cx="419.6" cy="98.4" r="72.8" fill="none" stroke="#1a1a1a" stroke-width="0.8"/>
<g clip-path="url(#cd)">
<rect x="0" y="0" width="500" height="545" fill="#f8f1ed"/>
<path fill="#eff3f5" d="M102.4 218l6.4-1 6.4 .4 6.4 1.9 4.8 3.1 8 9.4 8.3 7.3 2.5 3.2 1.9 4.8 3.3 13.5 1.6 2.6 1.6 .5 1.6-.5 14.4-11 4.8-2.9 4.8-2.4 0 88.2-140.5 0-9.9-6.4 0-43.1 6.4-2.6 6.4-1.2 4.8-.2 4.8 .6 4.8 1.4 4.8 2.7 3.2 2.5 11.2 11.1 3.2 2.5 4.8 2.3 8 2.1 11.2 1.3 4.8 0 4.8-.6 5.1-1.2 4.4-1.6 6.2-3.2 1.8-1.6 1.7-3.2 1.1-4.8-.1-3.2-.7-1.6-2.6-3.2-13.7-13.8-9.6-11.2-5.3-7-5.4-8-2.7-4.8-2.1-4.8-.5-4.8 1-3.2 1-1.6 1.3-1.6 3.1-2.4 3.2-1.6 3.2-1.1z"/>
<path fill="#ddebf2" d="M105.6 221.4l4.8-.9 4.8 .1 4 .9 3.5 1.6 3.7 2.9 15.4 16.3 1.8 3.2 .9 3.2 .6 4.8-.1 3.2-.6 3.2-1.3 3.2-2.3 2.9-1.6 1.3-3.2 1.8-4.8 1.4-4.8 0-4.8-1.3-3.2-1.6-4.8-3.6-4.8-4.7-4.8-5.8-4.1-6.4-2.3-4.8-1.5-4.8-.3-4.8 .7-3.2 1.9-3.2 3.6-3.2 3.6-1.7zM163.2 262.9l1.6-.7 1.6-.1 1.6 1 1.6 3 .8 3.4 .1 8-1.7 12.8 1.4 14.4-.2 3.2-.7 3.2-1.7 3.2-1.3 1.6-4.7 3.6-4.8 2.1-17.6 6-12.8 3.6-12.8 1.8-12.8-.1-12.8-2.3-20.8-6.2-6.4-2.5-4.8-2.5-4.8-3.3-3.5-3.4-3.4-4.8-2.1-4.8-.7-3.2-.1-3.2 .7-3.2 .9-1.6 1.8-1.9 2.3-1.3 2.5-.7 3.2-.2 4.8 1.1 4.8 2.5 4.5 3.7 6.7 6.9 3.2 2.3 4.3 2 5.7 1.6 14 2.5 9.6 .6 13-1.5 9.8-1.6 4.4-1.2 3.3-2 6.3-9.1 6.6-5.3 1.5-1.6 1.5-3.7 .2-9.1 .6-4.8 2.2-4.8 3.4-3.4z"/>
<path fill="#c7e0ed" d="M110.4 224.3l3.2-.4 3.2 .3 3.2 .9 3.2 1.6 6.4 5.8 7.6 8.2 2.2 3.2 1.8 4.8 .2 3.2-.4 3.2-2.3 4.8-1.4 1.6-2.9 2.2-3.2 1.3-4.8 .7-3.2-.3-4.8-1.7-4.8-3-3.2-2.9-3.2-3.6-2.8-3.9-2.6-4.8-1.2-3.2-.8-4.8 .2-3.2 1.1-3.2 2.4-3.2 3.7-2.5 3.2-1.1zM49.6 293.3l1.6-.8 3.2-.5 4.8 1.1 4.8 3 9 8.6 5.4 2.9 8 2.1 17.6 3.2 4.8 .3 6.4-.2 22.4-2.6 3.9-.9 2.5-1.2 1.6-1.4 3.7-5.4 2.7-3 3.2-2 3.2-1 1.6-.1 1.6 .5 1.6 1.8 1.5 3.8 .3 4.8-.7 3.2-1.1 2.2-2.2 2.6-2.2 1.6-3.6 1.8-17.6 7.2-9.6 3-9.6 1.9-9.6 .6-8-.4-11.2-2.1-16-4.8-9.6-3.7-6.4-3.6-3.9-3.1-2.9-3.2-2-3.2-1.4-3.2-.6-3.2 .3-3.2 .7-1.6 1.8-1.8z"/>
<path fill="#acd2e5" d="M112 227.6l3.2-.3 3.2 .4 4.8 2.1 6.4 5.6 5.8 6.9 2.2 4.8 .3 4.8-1 3.2-.9 1.6-3.2 3.2-3.2 1.5-3.2 .6-3.2 0-3.2-.8-3.2-1.4-3.2-2.2-3.2-2.9-3.5-4.4-2.5-4.8-1-3.2-.4-3.2 .3-3.2 1.4-3.2 1.2-1.6 2.9-2.3 3.2-1.2zM54.4 296.5l3.2-.1 3.2 1.3 2.9 2.2 6.7 6.3 4.8 2.6 6.4 1.8 16 3.1 6.4 1.1 6.4 .4 22.4-1.9 14.4 .4 1.1 .6-3.3 3.2-4.7 3.2-6.9 3.2-7 2.2-8 1.6-6.4 .6-6.4-.1-8-.9-11.2-2.8-11.2-3.6-8.2-3.4-6.2-3.5-5.2-4.5-3.1-4.8-.9-3.2 0-1.6 1.2-2.3 1.6-1.1zM155.2 304.6l1.6-.3 .8 .4 .8 1.4-.2 1.8-.8 1.6-1.7 1.6-2.1 1.1-1.6 .6-2.4-.1 3.9-6.4 1.7-1.7z"/>
<path fill="#8dc2dc" d="M112 231.1l4.8-.7 4.8 1.4 4.8 3.3 5.1 5.6 2.6 4.8 .6 3.2-.3 3.1-.7 1.7-2.6 3.2-1.5 1-3.2 1.1-3.2 .1-3.2-.6-3.2-1.4-2.7-1.8-4.6-4.8-1.9-3.2-1.2-3.2-.4-4.8 .8-3.2 1-1.6 1.5-1.6 2.7-1.6zM60.8 305.7l1.6 .3 3.2 2.8 3.2 1.7 4.8 1.4 16 2.3 16 2.8 6.4 .1 14-1.2 5.3 0 3.1 .7 1.6 .9-.3 1.6-1.8 1.6-3.1 1.6-4.4 1.6-6.9 1.6-9.1 .8-10-.8-13.3-3.2-4.8-1.6-7.4-3.2-5.3-3.2-4.2-3.2-3.5-3.2-1.2-1.6 .1-.6z"/>
<path fill="#6bacd1" d="M113.6 234l3.2-.6 3.2 .6 1.6 .6 3.2 2.1 3.8 4 2.6 4.8 .4 3.2-1 3.2-1.1 1.6-1.5 1.2-3.2 1.1-4.8-.4-4.8-2.5-3.9-4.2-2.1-4.8-.3-3.2 .2-1.6 1.3-2.6 1.6-1.6 1.6-.9zM91.2 318.6l14.4 1.3 17.2-.8 2.2 1.6-3.5 1.6-3.1 .6-4.8 .6-4.8 0-8.2-1.2-6-1.6-1.8-.9-2.5-.7 .9-.5z"/>
<path fill="#4695c4" d="M115.2 237.3l1.6-.4 3.2 .3 3.2 1.6 2 1.9 2.1 3.2 .8 3.2-.2 1.6-1.5 2.4-1.6 1.1-1.6 .4-3.2-.3-3.2-1.6-2.2-2-1.9-3.2-.6-3.2 1-3.2 2.1-1.8z"/>
<path fill="#3480b9" d="M118.4 242l2.3 .3 1.7 1.6 .6 1.6-.7 1.6-.7 .4-1.6 0-1.6-.9-.8-1.1-.5-1.6 .8-1.6 .5-.3z"/>
<path fill="#fbe4d6" d="M48 186.1l4.6-1.4 76.2 0 7.2 2.2 12.8 5.9 12.8 5.2 3.6 2.7 2.5 3.2 1.3 3.2 .8 4.8-1.4 16-.6 12.8-1.1 4.8-1.4 3.2-3.7 4.8-3.2 2.3-1.6 .5-1.6 0-1.6-1.1-1.6-2.4-3.8-10.5-1.8-3.2-2.4-2.3-4.8-3.4-3.2-2.9-8-10.2-2.6-2-3.8-1.8-8-2-4.8-.4-4.8 .3-4.7 .7-4.9 1.4-6.4 3.2-3.9 3.4-2.5 3.2-1.4 3.2 .2 3.2 2 3.2 7.2 6.8 4.8 5.4 9.2 11.8 5.7 8 2.8 4.8 2 4.8 1 4.8 0 4.8-.8 4.8-1.8 4.8-2.1 3.3-1.4 1.5-2.3 1.6-5.6 1.6-6.7 0-6.4-1.1-5.8-2.1-3.8-2.5-3.2-2.9-19.2-20.5-11.2-7.9-3.3-3-4.8-6.4-2.3-4.8-1.7-4.8-2-9.6-.6-9.6 .6-12.8 2-12.8 2.3-6.4 3.4-4.8 4.8-4.1 4.8-2.5z"/>
<path fill="#fcd3bc" d="M75.2 186.2l14.4-.6 20.8 0 11.2 1 8 1.8 6.4 2.4 11.2 5.9 12.2 5.6 2.2 1.8 1.6 1.9 1.4 2.7 .9 3.2 .3 4.8-.8 9.6-.5 14.4-.7 3.2-1.4 3.2-2.4 3-1.6 1-1.6 .2-1.9-1-1.3-1.6-3.3-8-1.7-3.2-3-2.9-4.8-2.9-3.2-2.6-2.3-2.8-4.1-6.2-1.6-1.7-4.8-3-4.8-1.8-6.4-1.4-6.4-.5-6.4 .4-7.2 1.4-5.6 1.9-5.6 2.9-4.1 3.2-4.8 4.8-2.2 3.2-1.1 3.2 .2 3.1 .7 1.7 1.3 1.6 2.6 1.6 6.6 2.4 4.8 2.3 6.4 5 4.8 5.3 5.6 7.4 3.7 6.4 1.9 4.8 1.1 4.8 0 4.8-.8 4.8-1.2 3.2-1.8 3.2-2.9 3.2-2.4 1.6-3.2 1.1-4.8 .3-3.2-.4-3.5-1-5.7-3.2-5.2-4.8-4.2-4.8-4.5-6.4-7.3-14.3-1.6-2.3-3.2-3.2-8-5.7-3.2-3.7-3.2-6-1.8-6.4-1.1-11.2 .5-12.8 .9-6.4 1.2-4.8 1.2-3.2 1.9-3.2 2-2.3 3.1-2.5 6.5-3.1 9.6-2.2 11.2-1.2z"/>
<path fill="#f8bb9e" d="M70.4 189.4l11.2-1.1 14.4-.4 16 .1 9.6 1 6.4 1.5 4.8 1.7 12.8 7.1 11.2 5.3 2.9 2.5 1.2 1.6 1.4 3.2 .5 3.2-.9 22.4-.5 3.2-1.4 3.5-1.6 1.5-1.6 .1-1.6-1.3-3.3-7-2.3-3.2-2.4-1.9-5.3-2.9-2.7-2.1-2.2-2.7-4.1-6.4-3.3-2.9-4.8-2.3-6.4-1.9-6.4-1.2-6.4-.4-8 .7-7.8 1.6-5 1.6-6.5 3.2-8.6 6.4-3.5 3.2-2.7 3.2-2.3 4.8-2 7.6-1.6 2.6-1.6 1-1.6 .3-3.2-.8-3.2-2.7-1.6-2.5-1.6-4.2-1.2-6.1-.7-8 .1-6.4 .8-6.4 1.3-4.8 1.5-3.2 1.4-2 2.9-2.8 2.4-1.6 7.5-3 9.6-1.9zM72 248.6l3.2-.7 4.8 0 4.8 1.1 3.2 1.5 3.2 2.2 4.8 4.7 3.3 4.1 3.1 4.8 2.2 4.8 1.3 4.8 .4 4.8-.3 3.2-1.4 4.8-1.9 3.2-1.9 2.2-3.2 2.2-3.2 1-3.2 .1-4.8-1.1-3.2-1.5-3.2-2.3-3.9-3.8-2.6-3.2-3-4.8-2.2-4.8-2.1-6.4-1.1-6.4-.3-4.8 .3-3.2 1.3-3.2 1.7-1.6 3.9-1.7z"/>
<path fill="#f2a17f" d="M75.2 191l14.4-.9 25.6 .2 6.4 .8 4.8 1.1 8 3.2 9.6 6.1 11.2 5.5 3.2 3.3 1.4 3.2 .5 4.8-1.9 13.8-.8 2.2-.8 1.3-1.6-.8-4.2-3.7-7-3.3-2.3-1.5-2.5-2.7-4.4-6.9-3.9-3.2-3.6-1.6-5.7-1.8-11.2-2.2-4.8-.3-6.4 .4-8 1.3-6.4 1.5-4.8 1.7-4.8 2.2-12.8 7.8-4.8 2.5-3.2 .7-1.6-.3-1.6-1.3-1.6-2.6-.8-3.2-.4-3.2 .7-8 1-3.2 1.8-3.2 3.2-3.2 5.7-3.1 6.4-2 8-1.4zM76.8 253.1l3.2-.7 3.2 .1 3.2 .9 3.2 1.7 3.2 2.5 3.2 3.4 4.5 6.9 1.3 3.2 1.1 4.8-.1 6.4-.9 3.2-1.7 3.2-1.4 1.6-2.8 2.1-3.2 1-3.2 0-3.2-.8-3.2-1.6-3.2-2.5-2.8-3-4.1-6.4-1.9-4.8-.8-3.2-.6-4.8 .1-3.2 .7-3.2 1.6-3.2 1.4-1.6 3.2-2z"/>
<path fill="#e48066" d="M80 192.6l11.2-.5 22.4 .1 8 .9 6.4 1.7 5.5 2.7 10.5 7.3 8 3.6 2.6 1.9 1.4 1.6 1.3 3.2 .2 3.2-.9 4.8-1.4 2.7-1.6 1-3.2 0-3.2-.8-2.8-1.3-2-1.6-5.3-8-1.5-1.6-2.4-1.6-5.2-2-8-2.1-11.2-2-9.6 .2-11.2 1.7-10.1 2.6-15.5 5.9-3.2 .3-1.6-.5-1.6-1.2-.8-1.3-.5-1.6-.3-3.2 1-4.8 2.1-3.2 4-3.2 4.1-1.9 6.4-1.8 8-1.2zM81.6 256.4l4.8 .6 4.8 2.7 4.5 5 2 3.2 1.3 3.2 .8 3.2 .3 3.2-.7 4.8-1.5 3.2-1.4 1.6-2.1 1.6-1.6 .6-1.6 .3-3.2-.2-4.8-2.2-3.2-2.8-1.7-2.1-2-3.2-1.4-3.2-1.4-6.4 0-3.2 .6-3.2 1.1-2.5 1.6-1.9 1.6-1.2 3.2-1.1z"/>
<path fill="#d7634f" d="M75.2 195.7l11.2-1.3 25.6 0 6.4 .3 6.4 1.3 3.8 1.5 4.9 3.2 3 3.2 2.7 4 1.6 .7 7.2 1.7 3.2 1.6 1.7 1.6 .8 1.6 .4 1.6-.5 3.2-1.6 1.9-1.6 .6-3.2-.4-1.6-.8-2.6-2.9-3.8-8.3-1.6-1-11.2-1.8-11.2-2.7-6.4-1-4.8-.2-4.8 .3-9.6 1.5-19.2 3.7-3.2 .3-3.1-.4-1.7-1.3-.6-1.9 .1-1.6 .7-1.6 1.3-1.6 2.1-1.6 3.1-1.6 6.1-1.8zM81.6 260.9l3.2-.4 3.2 .9 1.6 1 3.2 3 2.6 4.1 1.4 4.8-.2 4.8-1.2 3.2-2.6 2.5-3.2 .9-1.7-.2-3.1-1.3-3.2-2.6-2.7-4.1-1.7-4.8-.3-4.8 1.5-4.3 1.6-1.8 1.6-.9z"/>
<path fill="#c6413e" d="M76.8 199.1l4.8-1.1 4.8-.4 4.8 .3 4.8 1.2-2.7 1.6-6.5 1.6-8.4 .9-3.2-.2-1.8-.7 .4-1.6 3-1.6zM112 198.7l4.8-.9 4.8 .5 2.9 .8 1.9 1.1 .7 .5 1.1 1.6-1.8 1.1-1.6 .1-6.4-1.2-4.9-1.6-2.6-1.6 1.1-.4zM83.2 266l1.6-.6 3.2 .7 2.2 1.8 2 3.2 .9 3.2-.4 3.2-1.5 2.3-1.6 .9-1.8 0-3-1.4-1.7-1.8-1.5-2.8-.5-2-.1-3.2 .6-1.8 1.6-1.7z"/>
</g>
<g fill="none" stroke="#8a8a8a" stroke-width="0.45" stroke-dasharray="1.2 1.2" opacity="0.7">
<circle cx="104.6" cy="260.5" r="13.2"/>
<circle cx="104.6" cy="260.5" r="26.8"/>
<circle cx="104.6" cy="260.5" r="41.4"/>
<circle cx="104.6" cy="260.5" r="57.7"/>
<path d="M31.8 260.5L177.4 260.5"/>
<path d="M41.6 224.1L167.6 296.9"/>
<path d="M68.2 197.5L141.0 323.5"/>
<path d="M104.6 187.7L104.6 333.3"/>
<path d="M141.0 197.5L68.2 323.5"/>
<path d="M167.6 224.1L41.6 296.9"/>
</g>
<path stroke="#000" stroke-width="1.5" stroke-linecap="round" d="M133.7 226.5h.01M137.4 230.1h.01M89.8 308.2h.01M84.9 306.4h.01M80.3 304.1h.01M75.8 301.3h.01M71.7 298.1h.01M68.0 294.4h.01M64.6 290.4h.01M133.4 219.7h.01M137.5 222.9h.01M141.2 226.6h.01M144.6 230.6h.01M117.7 314.1h.01M112.6 315.0h.01M107.4 315.5h.01M102.3 315.6h.01M97.1 315.1h.01M92.1 314.2h.01M87.1 312.8h.01M82.3 310.9h.01M77.6 308.6h.01M73.3 305.8h.01M69.2 302.7h.01M65.4 299.2h.01M61.9 295.4h.01M58.8 291.2h.01M56.2 286.8h.01M84.2 209.3h.01M89.0 207.6h.01M94.1 206.4h.01M99.2 205.6h.01M104.3 205.4h.01M109.5 205.6h.01M114.6 206.3h.01M119.7 207.5h.01M124.5 209.1h.01M129.3 211.2h.01M133.8 213.7h.01M138.0 216.7h.01M142.0 220.0h.01M145.6 223.7h.01M128.6 315.8h.01M123.8 317.7h.01M118.8 319.1h.01M113.7 320.1h.01M108.6 320.7h.01M103.4 320.8h.01M98.2 320.5h.01M93.1 319.7h.01M88.0 318.5h.01M83.1 316.9h.01M78.3 314.8h.01M73.8 312.3h.01M69.4 309.5h.01M65.3 306.3h.01M61.5 302.7h.01M58.1 298.9h.01M54.9 294.7h.01M52.2 290.4h.01M73.6 208.7h.01M78.2 206.3h.01M83.0 204.2h.01M87.9 202.5h.01M92.9 201.3h.01M98.0 200.5h.01M103.2 200.2h.01M108.4 200.3h.01M113.6 200.9h.01M118.7 201.8h.01M123.7 203.3h.01M128.5 205.1h.01M133.2 207.4h.01M137.6 210.0h.01M141.9 213.1h.01M145.8 216.4h.01M149.4 220.1h.01M134.6 318.8h.01M129.9 321.0h.01M125.0 322.8h.01M120.0 324.2h.01M114.9 325.2h.01M109.7 325.8h.01M104.5 326.0h.01M99.3 325.8h.01M94.1 325.2h.01M89.0 324.1h.01M84.0 322.7h.01M79.1 320.9h.01M74.4 318.6h.01M69.9 316.1h.01M65.6 313.1h.01M61.5 309.9h.01M57.7 306.3h.01M54.2 302.4h.01M51.1 298.3h.01M48.2 293.9h.01M67.9 206.2h.01M72.3 203.5h.01M76.9 201.1h.01M81.8 199.1h.01M86.7 197.5h.01M91.8 196.2h.01M96.9 195.4h.01M102.1 195.0h.01M107.3 195.0h.01M112.5 195.5h.01M117.7 196.3h.01M122.7 197.5h.01M127.7 199.2h.01M132.5 201.2h.01M137.1 203.6h.01M141.5 206.4h.01M145.7 209.5h.01M149.6 212.9h.01M153.3 216.6h.01"/>
<path clip-path="url(#cd)" fill="none" stroke="#666" stroke-width="0.5" opacity="0.75" stroke-linejoin="round" d="M79.4 246.1L86.3 249.4L93.2 253.0L100.1 246.1L104.6 241.6L113.9 240.4L123.2 241.6L127.7 247.6L130.1 256.6L127.7 265.6L123.8 273.1M97.1 248.8L89.3 255.4L86.0 261.7L90.8 268.0L97.1 271.3L105.2 276.1M168.8 288.1L167.3 290.8L164.0 294.1L161.0 300.4L159.2 305.2L152.9 310.0L148.1 308.5L140.0 308.5L135.2 310.0L126.2 310.6L116.0 311.2L109.7 318.1L107.6 324.1L108.8 331.6M135.2 310.0L137.0 314.8L138.5 324.4L137.6 331.6M47.3 216.1L51.8 227.8L54.2 236.8L58.7 241.6L66.2 244.6L72.2 246.1"/>
<g clip-path="url(#cd)" fill="none" stroke="#000" stroke-width="1.1" stroke-linejoin="round">
<path stroke-dasharray="3.2 1.6" d="M110.4 226.3l-2.5 1.6-.8 1.6 0 1.6 2 4.8 4.4 4.8 3.3 2.1 4.8 1.2 3.2-.4 3.2-2 1.5-2.5 .3-3.2-.9-3.2-2.5-3.3-3.2-2.2-4.8-1.6-4.8 0-3.2 .7"/>
<path stroke-dasharray="3.2 1.6" d="M86.4 216.2l-1.6 .7-1.5 1.4-.5 1.6 .2 1.6 1.9 3.2 11.1 10.1 10.4 10.7 3.9 3.2 3.3 2.1 3.2 1.5 4.8 1.4 3.2 .3 3.2-.3 3.2-.8 3.2-1.7 2.8-2.5 2-2.9 1.3-3.5 .5-3.2-.2-3.7-1.2-4.3-1.6-3.2-2.4-3.2-2.8-2.7-3.2-2.2-6.4-2.8-6.4-1.2-24-.4-6.4 .8"/>
<path stroke-dasharray="3.2 1.6" d="M81.6 208.6l-5.1 1.7-2.3 1.6-1.3 1.6-.8 1.6-.4 3.2 .3 1.6 1.4 3.2 2.4 3.2 2.6 2.5 11.2 9.1 14.4 13.5 6.4 4.8 6.4 3.5 4.8 1.5 4.8 .8 4.8-.2 4.8-1 4.8-2.2 3.2-2.5 3.2-3.9 2.5-5.1 1-4.8 .1-4.8-.9-4.8-1.7-4.8-2.7-4.8-4-4.8-3.9-3.3-4.8-2.8-4.8-1.9-9.6-1.9-6.4-.4-22.4 0-8 .6"/>
<path stroke-dasharray="3.2 1.6" d="M78.4 202.2l-4.8 .7-4.8 1.4-3.2 1.8-2.7 2.6-1.6 3.2-.5 3.2 .4 3.2 1.1 3.2 3.1 4.8 4.8 4.8 14.6 11 22.4 18.5 6.4 4.1 6.4 2.7 6.4 1.3 6.4 .3 9.6-.9 7.2-1.8 3.3-1.6 2.3-1.6 3.2-3.4 2.7-4.6 2.1-6.4 .8-6.4-.3-6.4-1.5-6.4-3.5-8-3.3-4.8-5.1-4.8-5.5-3.2-5.6-2.2-8-2.2-8-1.4-14.4-.9-30.4 .2"/>
<path d="M157.9 184.7l11.7 2.4 9.6 2.7M179.2 203.1l-8 .3-8-.4-32-4.5-12.8-1.2-64-2.4-6.4-.8-6.6-1.4-6.2-1.9-6.4-2.7M83.2 335.1l-6.4-3.4-6.4-4.6-6.4-5.9-5.9-6.9-4.3-6.4-5-9.6-2.9-8-1.7-6.4-1.1-8 0-8 .8-6.4 1.9-6.4 3.6-6.4 3.4-3.6 4.8-2.6 4.8-.6 4.8 .5 4.8 1.4 9.6 4.4 9.6 6.3 17.4 13.4 6.6 3.7 8 2.2 20.8 1.8 8 1.5 6.4 2.7 3 2.5 1.1 1.6 .5 1.6-.3 3.2-1.9 3.2-2.4 2.3-6.4 3.7-13.3 5.2-2.7 1.6-1.9 1.6-2.1 3.2-3.6 9.6-3.2 6.4-2.4 3.2-2.8 2.9-4.8 3.5"/>
<path d="M70.4 254.8l3.2-.3 3.2 .2 3.2 .8 4.8 1.8 8 4.7 12.8 9.8 6.4 4 3.2 1.5 4.8 1.4 12.9 2 6.1 1.6 2.6 1.6 1.2 1.6 0 1.6-1 1.6-2 1.6-3.2 1.6-10.2 3.9-3.9 2.5-2.5 2.6-1.5 2.2-4.1 8-2.1 3.2-3 3.2-3.7 2.5-4.8 1.8-4.8 .5-4.8-.5-6.4-2-4.8-2.5-4.2-3-3.8-3.5-4-4.5-3.4-4.8-2.6-4.8-2-4.8-1.9-6.4-.9-6.4-.1-4.8 .7-4.8 1.4-4.6 1.8-3.4 3-3.5 3.2-2.1 3.2-1.1"/>
<path d="M76.8 262.9l3.2 0 3.2 .6 3.2 1.1 4.8 2.5 4.8 3.3 17.2 13.5 1.7 1.6 .9 1.6 .2 1.6-.5 1.6-8.1 14.4-3.4 4.1-3.2 2.2-3.2 1.2-4.8 .5-3.2-.4-4.8-1.7-4.8-2.9-3.5-3-4.2-4.8-3-4.8-2.6-6.4-1.1-4.8-.4-4.8 .5-4.8 1.7-4.8 2.4-3.2 3.8-2.6 3.2-.8"/>
<path d="M80 270.9l4.8 .1 3.2 1.1 3.2 1.7 6.9 5.3 3.2 3.2 2.2 3.2 .7 1.6 .5 3.2-1.3 4.8-2.9 4.8-1.6 1.6-2.5 1.6-2 .7-3.2 .3-3.2-.5-3.2-1.3-5.2-4-2.6-3.2-1.9-3.2-2.2-6.4-.3-3.2 .2-3.2 1-3.2 1.4-2.1 1.6-1.5 3.2-1.4"/>
<path d="M84.8 282.1l1.6-.3 2 .5 2.5 1.6 1.3 1.6 .8 1.6 .3 1.6-.5 2-1.6 1.6-1.6 .4-3.1-.8-1.7-1.4-1.2-1.8-.6-1.6 .1-3.2 1.7-1.8"/>
</g>
<circle cx="104.6" cy="260.5" r="72.8" fill="none" stroke="#1a1a1a" stroke-width="0.8"/>
<g clip-path="url(#ce)">
<rect x="0" y="0" width="500" height="545" fill="#f8f1ed"/>
<path fill="#eff3f5" d="M188 197.8l12.8 .1 16 2.8 11.2 .6 12.8-.1 17.6-1.4 8 .2 6.4 .8 6.9 1.5 3.8 1.6 1.8 1.6 .9 1.6 2.5 8 2 4.8 2.6 4.8 6.4 9.6 2.5 6.4 1 6.4 0 8-.8 4.8-2.4 4.9-1.6 1.7-3.2 2.4-3.2 1.7-4.8 1.8-4.8 1-3.2 .2-3.2-.2-3.2-.7-3.4-1.6-4.6-3.8-16-18.4-6.4-5.8-3.2-1.9-4.8-1.7-4.8-.4-3.2 .3-3.2 1.8-1.6 2.1-1.6 4.2-.9 4.4-.9 6.4-.4 8 .3 9.6 .6 6.4 1.3 5 3.2 4.6 17.6 15.8 4.8 3.4 3.2 1.2 4.8 .7 20.8-.4 9.6 .6 6.2 1.1 6 1.6 7.3 3.2 3.8 3.2 1.5 3.2 .2 1.6-1 3.5-3.2 4.5-118.4 0 0-137.4 1.6 .1z"/>
<path fill="#ddebf2" d="M247.2 203.8l12.8-1.1 8 .4 4.2 .8 3.8 1.2 3.2 1.7 1.6 1.3 3.2 4.2 5.9 10.8 7.1 11.2 2.3 4.8 1.3 4.8 .5 4.8 0 4.8-1.1 5.3-1.2 2.7-2 2.6-2.6 2.2-3.8 2.1-3.2 1.2-4.8 1-4.8-.1-3.2-.7-4.8-2.4-6.4-5.8-6.7-8.1-9.3-13.1-4.8-5.1-3.2-1.9-4.8-1.5-6.4-.8-4.8 .3-1.6 .7-1.9 2.2-1.3 3.2-.9 6.4-.8 9.6-.4 11.2 .2 16 .7 6.4 1.3 3.2 2.8 3.2 9.9 8 9.6 9.6 3.2 2.3 3.2 1.3 3.2 .6 17.6 .5 6.4 .7 4.8 1.1 4.8 2.3 1 .8 .9 1.6-.2 1.6-1.4 1.6-3.5 2-6.4 1.9-11.2 1.5-22.4 .9-8-.5-6.4-1.7-4.8-2.2-3.2-2-11.2-8.8-3.2-1.5-4.8-1.6-3.2-1.6-2.4-2.4-2.1-3.2-1.3-3.2-1.3-4.8-.7-6.4 0-6.4 .5-6.4 2.8-20.8 .5-35.2 1.4-8 2.2-4.8 3.6-3.7 2-1.1 2.8-.8 3.2-.2 11.2 .7 19.2-.6 9.6-.8z"/>
<path fill="#c7e0ed" d="M252 206.9l8-1 8 .5 6.4 2.2 4.8 3.3 3.2 3.5 3.2 4.6 7.1 11.1 3.5 6.4 1.3 3.2 1.1 4.8 .3 4.8-.3 3.2-.7 3.2-1.4 3.2-2.7 3.2-3.4 2.3-3.2 1.4-4.8 .9-4.8-.2-3.2-1-3.2-1.6-3.2-2.4-6.4-6.6-6.2-8.8-8.2-14.7-1.6-2.1-3.2-3-3.2-1.9-3.2-1.1-12.8-2.7-3.2 0-1.6 1-1.6 2.7-.7 2.6-1 8-.4 49.6 .3 3.2 1.2 3.2 3 3.2 7.2 4.9 3.8 3.1 9 10 3.2 2.5 3.2 1.3 3.2 .6 14.4 .6 6.4 .8 5 1.8 1.4 1.6-.4 1.6-2.3 1.6-6.9 1.9-9.6 .7-16 .3-6.4-.3-6.4-1.5-6.4-3.2-4.8-3.8-8-7.3-11.2-6.4-2.4-2.8-1.7-3.2-1.6-6.4-.5-8 .6-8 2.2-17.6 .3-20.8 .8-11.2 1.3-6.4 1.7-4.8 2.5-3.6 3.2-2.1 1.6-.4 3.2 .1 6.4 2 3.2 .3 10.1-2.7 12.3-1.4 11.2-2z"/>
<path fill="#acd2e5" d="M256.8 210.2l4.8-.7 4.8 .2 4.8 1.2 3.2 1.5 3.2 2.1 3.2 3 3.2 3.9 4.5 6.5 3.9 6.4 2.2 4.8 1.4 4.8 .4 3.2-.1 4.8-1.1 4.4-2.2 3.6-2.6 2.3-3.2 1.7-4.8 1.1-4.8-.4-3.2-1.1-4.8-2.9-3.2-2.9-3.8-4.2-3.4-4.8-4.9-9.6-6.7-16-1.2-4.8 .3-1.6 1-1.6 1.7-1.6 2.7-1.6 4.7-1.7zM204 217.3l1.6-.4 1.6 .3 1.8 1.1 2 3.2 1 4.8 1 16 .5 24-.9 22.4 1.1 4.8 1.1 1.6 1.9 1.6 8.1 4.6 4.3 3.4 3 3.2 5.5 7.3 3.2 2.8 3.2 1.6 3.2 .8 11.2 .4 3.2 .5 3.3 1-1 1.6-5.5 .9-11.2 .1-9.6 .5-4.8-.4-4.8-1.4-4.8-2.5-3.2-2.3-11.2-10.9-9.6-5.9-2.8-3.7-1.3-3.2-.7-3.2-.6-8 2.5-24 .5-24 .9-6.4 1.5-5.8 2-3.8 1.2-1.5 1.6-1.1z"/>
<path fill="#8dc2dc" d="M261.6 213.3l3.2-.3 4.8 .7 4.8 2 3.2 2.1 3.2 3 3.2 3.8 6.3 9.7 2.2 4.8 1 3.2 .7 4.8-.1 3.2-.7 3.2-1.4 3.2-1.6 2-3.2 2.3-3.2 1.1-3.2 .2-3.2-.4-4.8-2.1-3.2-2.2-4.2-4.1-2.5-3.2-3-4.8-2.3-4.8-2.8-8-1.6-6.4-.2-4.8 1-3.2 1.2-1.7 3.2-2.2 3.2-1.1zM204 223.6l1.6-.2 1.6 1.1 1.6 2.8 1.3 5.4 .8 6.4 1.2 30.4-.4 8-1.5 12.8 0 3.2 .6 3.2 1.2 2.1 1.6 .8 8 2.4 3.2 1.8 3.2 2.7 3.6 4.6 3.3 6.4 .6 1.6-.5 1.6-.6 .3-3.2 .2-3.2-.8-3.2-1.5-3.2-2.1-3-2.5-3-3.2-5.2-8-1.6-1.4-4.8-1.5-3.4-1.9-2.4-3.2-1.3-3.2-.8-4.8-.2-4.8 2.2-22.4 .5-22.4 .7-4.8 1.5-5 1.6-2.8 1.6-1.3z"/>
<path fill="#6bacd1" d="M264.8 216.5l3.2 0 3.2 .7 3.2 1.4 3.2 2.2 3.2 2.9 3.2 3.9 5.1 8.3 1.9 4.8 .7 3.2 .3 3.2-.3 3.2-1.9 4.8-1.3 1.6-2.9 2-3.2 1-3.2-.1-3.2-.8-3.2-1.6-3.2-2.4-3.2-3.2-2.2-2.9-2.9-4.8-2.1-4.8-1.4-4.8-.9-4.8-.1-4.8 .8-3.2 .9-1.6 3.1-2.5 3.2-.9zM204 230.2l1.6 .1 1.6 2.2 1.6 6.1 .8 8.5 .9 22.4-.8 9.6-2.1 9.6-2 4.8-1.6 .8-1.6-.3-1.6-1.3-1.4-2.4-1.2-4.8-.2-4.8 2-20.8 0-14.4 .4-6.4 1.7-6.4 1.9-2.5zM218.4 305.5l1.6-.4 1.6 .3 2 .9 2.1 1.6 2.4 3.2 .4 1.6 0 1.6-.5 .7-1.6 .4-1.6-.4-1.6-.7-3.2-2.7-1.6-2.1-.6-1.6 0-1.6 .6-.8z"/>
<path fill="#4695c4" d="M266.4 219.7l4.8 .4 3.2 1.3 3.2 2.1 4.8 4.9 4.8 7.5 2.2 6.4 .4 3.2-.2 3.2-.8 2.8-1.1 2-1.5 1.6-2.2 1.4-1.6 .5-3.2 .1-3.2-.8-3.2-1.7-3.2-2.5-3.1-3.4-3.8-6.4-2.6-8-.6-4.8 .3-3.2 1.3-3.2 1.3-1.6 2.4-1.4 1.6-.4zM204 238.8l1.6 .4 1.5 6.3 1.5 24-.3 4.8-1.1 6.5-1.6 4.2-1.6 1.9-1.6-.2-.8-1.2-.8-1.8-.5-4.6 .3-6.4 1.7-12.8 .1-14.8 .4-2.8 1.2-3.5z"/>
<path fill="#3480b9" d="M268 222.8l1.6-.1 3.2 .7 4.8 2.8 4.6 4.9 3 4.8 2.1 6.4 .1 4.8-.9 3.2-1 1.6-1.9 1.6-2.8 .9-1.6 .1-4.8-1.4-3.2-2.3-2.2-2.1-2.4-3.2-1.8-3.2-2.2-6.4-.4-3.2 .1-3.2 .9-3.2 1.1-1.6 2.1-1.4 1.6-.5z"/>
<path fill="#266caf" d="M269.6 226l3.2 .2 3.2 1.6 1.6 1.2 3.4 3.7 2.8 4.8 1.3 4.8-.3 4.8-.8 1.9-1.2 1.3-2 1.1-3.2 .2-3.2-1.2-1.6-1-3.8-3.9-2.7-4.8-1.4-4.8 0-4.8 1.5-3.4 1.6-1.3 1.6-.4z"/>
<path fill="#185493" d="M271.2 229.5l3.2 .5 1.9 1.1 2.9 2.8 2.2 3.6 1 3.2 .2 3.2-.4 1.6-1 1.6-2 1.2-3.2-.2-2-1-2.8-2.5-2.4-3.9-1.3-4.8 .3-3.2 .8-1.6 1-1 1.6-.6z"/>
<path fill="#0a3b70" d="M272.8 234.3l1.6 0 1.6 .9 1.9 2.3 1.1 3.2-.2 1.6-1.2 1.5-1.6 .1-1.6-.8-2.1-2.4-1.1-3.2 .2-1.6 1.4-1.6z"/>
<path fill="#fbe4d6" d="M272.8 186.2l6.4-.6 8 0 14.4 1 11.2 .4 3.2 .6 3.2 1.4 2.6 2.1 2.3 3.2 2.2 4.8 2.5 8 1.1 8 .2 48 1.4 16 0 6.4-1.4 6.4-3.3 6.4-4.4 5-4.8 3-3.2 .9-3.2 .3-17.6-.7-11.2 0-8 .8-14.4 2.3-4.8 .1-4.8-.6-3.2-1-3.2-1.7-4.8-3.4-5.9-5-8.2-8-2.3-3.2-1.4-3.2-1.4-6.1-.6-6.7 .1-6.4 .6-6.4 1.5-5.5 1.6-3.2 1.6-1.8 3.2-1.7 3.2-.5 4.8 .5 4.8 1.7 3.2 1.9 3.2 2.4 4.8 4.5 12.8 14.7 3.9 3 4.1 1.6 3.2 .5 4.8-.1 4.8-.8 4.8-1.4 4.8-2.1 3.2-1.9 2.6-2.2 2.3-3.2 1.5-4.5 .6-5.1-.1-8-.8-6.4-2.2-6.4-7.1-10.7-2.6-5.3-1.3-6.4 .1-8-1-1.7-2.4-1.5-4-1-19.2-2.9-8-.4-16 1.5-9.6 0-4.5-.4-5.1-1.1-1.5-.5-2.2-1.6 .2-1.6 2.5-1.6 6.5-1.6 8.9-.7 19.2-.1 17.6-2.5z"/>
<path fill="#fcd3bc" d="M280.8 189.5l8 .1 12.8 2.3 11.2 1.3 3.2 1.3 3.2 2.8 2.5 3.4 1.7 3.2 2.1 6.4 .9 8 .4 27.2-.5 19.2 .7 16-.4 4.8-.7 3.2-2 4.8-3.1 3.9-3.2 2.4-4.8 1.7-33.6 1.6-22.4 3.5-4.8-.2-3.2-.7-6.4-2.9-8-6.1-6.4-6.4-2.4-3.2-1.7-3.2-1.3-3.2-1-4.8-.6-6.4 .2-4.8 .8-4.8 1-3.2 1.8-3.1 1.6-1.5 3.2-1.6 3.2-.5 4.8 .7 4.8 1.8 4.8 3.2 4.8 4.3 12.8 14.9 4.8 2.9 4.8 1.1 4.8 .2 6.4-.9 4.8-1.3 6.4-2.6 3.2-1.9 3.2-2.7 2.2-3.4 1.2-3.2 .8-4.8 .1-6.4-.5-8-1-6.4-1.1-3.2-1.6-3.2-6.6-9.6-1.3-3.2-.7-3.2 .2-4.8 3-8 .3-1.6-.4-1.6-2.2-1.6-2-.6-11.2-1-8.3-1.6-2.6-1.6 1.4-1.6 7.9-1.6z"/>
<path fill="#f8bb9e" d="M308 200.3l1.6-.6 3.2 0 3.2 1.2 1.6 1.2 1.7 1.8 1.9 3.2 1.2 3.2 1 4.8 .7 28.8-.8 20.8 .4 16-1.1 6.4-2.3 4.8-1.3 1.6-3 2.3-4.8 1.7-30.4 2.4-24 3.8-4.8-.1-4.8-1.1-3.2-1.4-4.8-2.9-6.4-5.5-4.7-5.6-2.7-4.8-2-6.4-.6-8 1-6.4 1-2.5 1.5-2.3 3.3-2.4 3.2-.8 4.8 .3 4.8 1.7 3.2 1.9 6.6 5.7 11 13.5 3.2 2.5 4.8 1.9 4.8 .6 4.8 0 4.8-.6 4.8-1.2 4.8-1.7 4.8-2.3 3.2-2.1 3.2-3.5 2-3.9 1.2-6.4-.1-9.6-.9-11.2-1.1-4.8-1.4-3.2-7.3-11.2-1-3.2-.1-3.2 1.4-4.8 2.2-3.2 3.5-3.3 3.2-1.9z"/>
<path fill="#f2a17f" d="M308 205l3.2-.8 1.6 .1 3.2 1.3 1.6 1.5 1.9 3.2 1.5 6.4 .4 28.8-1.5 19.2 .5 16-.9 4.8-1.9 3.7-3.2 2.9-4.8 1.6-20.8 2-16 2.4-16 3.1-4.8-.1-4.8-1-3.2-1.3-4.8-2.9-4.8-4.1-4-4.7-2.9-4.8-2.3-6.4-.7-6.4 .3-3.2 .8-3.2 .8-1.9 1.6-2.2 3.2-2.1 3.2-.7 3.2 .2 3.2 .9 4.8 2.6 3.2 2.5 3.2 3.1 8 10.5 3.2 3.5 3.2 2.3 4.8 1.8 4.8 .7 6.4 0 4.8-.5 4.8-1.1 4.8-1.7 4.8-2.2 4-2.9 3-3.2 1.9-3.2 1.2-3.2 .7-4.8-.1-6.4-1.4-17.6-1.8-6.4-7.1-11.2-.7-1.6-.5-3.2 .6-3.2 1.8-3.2 1.6-1.6 3.2-2.1z"/>
<path fill="#e48066" d="M309.6 208.6l3.2-.1 1.6 .7 2.3 2.7 1.2 3.2 .4 3.2-.1 4.8-.6 4.8-1.6 7.8-3.6-6.2-6-8.3-1.9-4.5 .2-3.2 .8-1.6 1.3-1.6 2.8-1.7zM231.2 259.9l3.2-1.1 3.2 0 3.2 .8 3.2 1.5 3.2 2.2 3.2 3 3.2 3.8 6.4 8.9 4.8 4.6 4.8 2.5 4.8 1.4 7 1.2 3.1 1.6-2 1.6-4.4 1.6-16.5 4.4-4.8 .9-4.8 .1-3.2-.5-3.2-1-3.2-1.5-4.8-3.4-4.8-5-3.4-5.2-2-4.8-1.1-6.4 .5-4.8 1.3-3.2 1.5-2 1.6-1.2zM312.8 275.8l1.6-.2 .3 .3 1 1.6 .4 3.2-.8 3.2-.9 1.7-1.5 1.5-3.3 1.3-3.2 .3-3.2-.5-2.7-1.1 .9-1.6 11.4-9.7z"/>
<path fill="#d7634f" d="M311.2 215.3l1.6 .8 0 2.7-1.8-.5-.4-1.6 .6-1.4zM234.4 261.3l3.2-.2 3.2 .7 4.8 2.5 3.2 2.7 3.6 4.1 7.6 11.1 6.1 6.5 .9 1.6-.4 1.6-1.9 1.6-4.7 2.1-4.8 1.1-3.2 .1-4.8-.8-3.2-1.3-3.2-1.9-3.2-2.5-3.2-3.4-3.1-4.6-2.1-4.8-1-4.8 .3-4.8 1.1-2.8 1.6-2.1 3.2-1.7z"/>
<path fill="#c6413e" d="M234.4 263.9l3.2-.6 3.2 .5 4.8 2.6 3.4 3.1 3.7 4.8 7.6 12.8 .6 1.6-.1 1.6-.9 1.6-2.5 1.6-2.2 .7-3.2 .4-3.2-.3-3.2-.9-3.2-1.6-3.2-2.3-2.5-2.4-2.6-3.2-1.9-3.2-1.3-3.2-.7-3.2-.1-3.2 .7-3.2 2-3 1.6-1z"/>
<path fill="#b72230" d="M236 266l3.2-.4 3.2 1 3.2 2 4 4.1 4 6.4 2.9 6.4 .2 3.2-1.5 2.2-2.2 1-2.6 .3-4.8-.9-4.8-2.7-4.7-4.7-2-3.2-1.3-3-.8-5 .8-3.7 1.6-2.1 1.6-.9z"/>
<path fill="#991027" d="M236 269.1l1.6-.8 3.2 0 3.2 1.4 3.4 3 3.3 4.8 2.1 4.8 .6 3.2-.3 1.6-1.1 1.6-3.2 .9-3.2-.6-4.8-2.7-3.2-3.3-2.3-3.9-1-3.2 .1-4.1 1.6-2.7z"/>
<path fill="#760521" d="M239.2 271.1l1.6-.1 3.2 1.4 3.4 3.5 1.7 3.2 .9 3.2 0 1.6-1.2 1.9-1.6 .5-3.2-.6-3.2-2.2-2.3-2.8-1.5-3.2-.3-3.2 .9-2.2 1.6-1z"/>
</g>
<g fill="none" stroke="#8a8a8a" stroke-width="0.45" stroke-dasharray="1.2 1.2" opacity="0.7">
<circle cx="262.2" cy="260.5" r="13.2"/>
<circle cx="262.2" cy="260.5" r="26.8"/>
<circle cx="262.2" cy="260.5" r="41.4"/>
<circle cx="262.2" cy="260.5" r="57.7"/>
<path d="M189.4 260.5L335.0 260.5"/>
<path d="M199.2 224.1L325.2 296.9"/>
<path d="M225.8 197.5L298.6 323.5"/>
<path d="M262.2 187.7L262.2 333.3"/>
<path d="M298.6 197.5L225.8 323.5"/>
<path d="M325.2 224.1L199.2 296.9"/>
</g>
<path stroke="#000" stroke-width="1.5" stroke-linecap="round" d="M251.0 275.5h.01M247.4 271.9h.01M244.8 267.5h.01M271.3 244.1h.01M275.3 247.2h.01M251.5 281.9h.01M247.2 279.1h.01M243.5 275.4h.01M240.7 271.1h.01M270.5 238.1h.01M275.1 240.4h.01M279.1 243.6h.01M282.4 247.7h.01M247.6 285.7h.01M243.4 282.7h.01M239.7 279.0h.01M236.8 274.7h.01M274.5 234.1h.01M279.0 236.7h.01M283.0 240.1h.01M278.4 230.2h.01M282.8 233.1h.01M286.8 236.5h.01M304.9 273.7h.01M303.4 243.2h.01M305.2 248.1h.01M306.3 253.1h.01M306.9 258.3h.01M306.8 263.5h.01M306.2 268.7h.01M309.9 275.3h.01M213.5 271.6h.01M212.6 266.4h.01M212.3 261.2h.01M212.5 256.0h.01M295.1 222.9h.01M298.8 226.6h.01M302.2 230.6h.01M305.1 234.9h.01M307.5 239.6h.01M309.5 244.4h.01M310.9 249.4h.01M311.8 254.6h.01M312.1 259.8h.01M311.9 265.0h.01M311.2 270.2h.01M226.8 302.7h.01M211.5 282.1h.01M209.7 277.3h.01M208.4 272.3h.01M207.5 267.2h.01M207.1 262.1h.01M207.2 256.9h.01M295.6 216.7h.01M299.6 220.0h.01M303.2 223.7h.01M306.5 227.7h.01M309.4 232.0h.01M311.8 236.5h.01M313.9 241.3h.01M315.4 246.2h.01M316.5 251.2h.01M317.2 256.4h.01M231.4 312.3h.01M227.0 309.5h.01M222.9 306.3h.01M219.1 302.7h.01M209.8 290.4h.01M207.4 285.7h.01M205.4 280.9h.01M203.9 276.0h.01M202.8 270.9h.01M202.1 265.8h.01M201.9 260.6h.01M295.2 210.0h.01M299.5 213.1h.01M303.4 216.4h.01M307.0 220.1h.01M310.3 224.1h.01M313.3 228.4h.01M315.9 232.9h.01M318.0 237.6h.01M319.8 242.5h.01M227.5 316.1h.01M223.2 313.1h.01M219.1 309.9h.01M215.3 306.3h.01M208.7 298.3h.01M205.8 293.9h.01M203.4 289.3h.01M201.3 284.6h.01M199.5 279.6h.01M198.2 274.6h.01M299.1 206.4h.01M303.3 209.5h.01M307.2 212.9h.01M310.9 216.6h.01M314.2 220.6h.01M317.2 224.9h.01"/>
<path clip-path="url(#ce)" fill="none" stroke="#666" stroke-width="0.5" opacity="0.75" stroke-linejoin="round" d="M237.0 246.1L243.9 249.4L250.8 253.0L257.7 246.1L262.2 241.6L271.5 240.4L280.8 241.6L285.3 247.6L287.7 256.6L285.3 265.6L281.4 273.1M254.7 248.8L246.9 255.4L243.6 261.7L248.4 268.0L254.7 271.3L262.8 276.1M326.4 288.1L324.9 290.8L321.6 294.1L318.6 300.4L316.8 305.2L310.5 310.0L305.7 308.5L297.6 308.5L292.8 310.0L283.8 310.6L273.6 311.2L267.3 318.1L265.2 324.1L266.4 331.6M292.8 310.0L294.6 314.8L296.1 324.4L295.2 331.6M204.9 216.1L209.4 227.8L211.8 236.8L216.3 241.6L223.8 244.6L229.8 246.1"/>
<g clip-path="url(#ce)" fill="none" stroke="#000" stroke-width="1.1" stroke-linejoin="round">
<path stroke-dasharray="3.2 1.6" d="M271.2 227.4l-1.6 .6-.5 3.1 1.4 6.4 2.3 4.8 2.8 3.2 2 1.5 3.2 .8 1.6-.4 1.7-1.9 .5-3.2-.6-3.2-1.4-3.2-1.8-2.6-3.2-3.2-3.2-2-3.2-.7"/>
<path stroke-dasharray="3.2 1.6" d="M256.8 213.5l-4 1.6-2 1.6-1 1.6-.3 1.6 .3 1.6 1.9 3.2 6.5 8 6.6 12.3 3.2 4.8 4.8 5.3 3.2 2.5 3.2 1.8 3.2 1 3.2 .3 3.2-.8 1.6-1 2.1-2.2 1.5-3.2 .6-3.2 .1-4.8-.9-4.8-1.6-4.8-2.4-4.8-2.6-3.9-3.2-3.9-3.6-3.4-4.4-3.2-3.2-1.7-4.3-1.5-3.7-.7-4.8 .1-3.2 .6"/>
<path stroke-dasharray="3.2 1.6" d="M258.4 205.3l-4.8 1.2-4.8 1.8-3.6 2-2.8 2.2-2.2 2.6-1.1 3.2 .1 1.6 1.3 3.2 2.6 3.2 7.9 8 12.2 19.1 4.8 5.7 4.8 4.6 4.8 3.3 6.4 2.5 3.2 .5 3.2-.1 4.8-1.5 3.2-3 1.6-3.1 1.4-5.6 .4-6.4-.5-6.4-1.3-6.4-2.3-6.4-2.5-4.8-3.2-4.8-4.8-5.5-4.8-4.2-4.8-3.2-4.8-2.1-4.8-1.3-4.8-.3-4.8 .4"/>
<path stroke-dasharray="3.2 1.6" d="M261.6 192.6l-6.4 1.1-4.8 2-6.4 3.9-9.6 7.3-4.3 5-1.5 3.2-.3 3.2 .8 3.2 3.4 4.8 9.1 8 4 4.1 16 21.5 6.4 7.1 4.7 4.1 6.5 3.7 6.4 2 8 .7 3.2-.3 3.2-.9 3.2-2.3 1.6-2.4 .8-2.1 1.1-4.8 .7-8-.2-11.2-1.1-9.6-1.7-8-2.8-7.8-3.2-5.7-4.5-5.7-5.1-4.9-4.8-3.7-6.4-3.8-4.8-1.9-4.8-1.3-6.4-.5"/>
<path d="M258.9 335.1l-6.9-2.4-6.4-3.3-4.8-3.1-6.4-4.9-6.4-5.9-5.5-6-5-6.4-4.2-6.4-3.7-6.4-4.5-9.6-3.3-9.6-1.6-6.4-.8-6.4-.1-6.4 .8-6.4 1.7-4.8 1.8-3.2 2-2.3 3.2-2.2 3.2-1.1 3.2-.2 3.2 .4 8 2.6 8 4.3 6.4 5.1 8 8.3 16 18.5 3.6 3.4 4.4 3.2 6.4 3.1 8 2.2 11.2 1.6 3.2 .1 3.2-.6 3.2-1.6 1.6-1.6 1.8-3.2 .8-3.2 .7-8-.2-33.6 .9-11.2 .8-4.4 1.6-4.3 1.6-2.2 1.6-1.1 1.6-.4 1.6 .3 3.2 2.5 3.2 5.2 1.8 4.4 1.7 6.4 1.9 11.2 .6 11.2-.2 11.2-2.4 28.8-.7 4.8-1 3.2-1.5 3.2-2.2 3.2-2.8 2.6-3.2 1.9-3.2 1-12.8 1.7-4.8 1.5-5.4 2.5-2.6 1.8-3.2 3-5.9 8-2.1 2.2-3.2 2.5-3.8 1.7"/>
<path d="M226.4 247.1l3.2 .4 3.2 .9 3.2 1.5 4.8 3.1 8 7 12.8 14.2 5.3 4.9 4.3 3 4.8 2.5 15.7 5.7 3.2 1.6 2.2 1.6 1.2 1.6 .3 1.6-.5 1.6-1.1 1.6-4.2 3.2-11.5 6.4-10.1 6.9-3.2 1.7-3.2 1-4.8 .6-6.4-1-6.4-2.5-6.4-3.9-4.8-3.9-3.8-3.7-4.1-4.8-3.4-4.8-3.9-6.4-2.3-4.8-2.5-6.4-1.4-4.8-.9-4.8-.3-4.8 .5-4.8 1.3-4.1 1.6-2.7 3.2-2.8 3.2-1.3 3.2-.3"/>
<path d="M226.4 258.1l3.2-1.1 4.8 .4 4.8 1.9 4.8 3.2 6.4 5.8 12.8 13.6 4.8 3.8 11.3 7.8 1.2 1.6 .4 1.6-.3 1.6-1.1 1.6-3.4 3.2-7 4.8-4.3 2.1-4.8 1.1-4.8 0-4.8-1.2-4.8-2.2-4.8-3.3-4.9-4.5-5.1-6.4-3.9-6.4-3.4-8-1.5-6.4-.2-6.4 1.5-4.8 1.5-2.1 1.6-1.3"/>
<path d="M234.4 266.1l1.6 0 3.2 .7 3.2 1.6 3.2 2.3 4.8 4.6 14.3 15 2.4 3.2 .8 3.2-.5 1.6-1 1.6-1.6 1.5-3.2 1.8-3.2 .9-3.2 .2-3.2-.5-3.2-1.1-3.2-1.7-3.2-2.3-3.7-3.6-3.6-4.8-2.8-4.8-1.9-4.8-1.1-4.8-.1-3.2 .8-3.2 1.2-1.8 1.6-1.1 1.6-.5"/>
<path d="M242.4 279l1.6 .6 3.2 2.1 5 5.4 2 3.2 .5 1.6-.3 1.6-.8 .8-1.6 .5-1.6-.2-2.8-1.1-2.3-1.6-2.9-3.2-1.8-3.2-.8-3.2 .1-1.6 .9-1.5 1.6-.2"/>
</g>
<circle cx="262.2" cy="260.5" r="72.8" fill="none" stroke="#1a1a1a" stroke-width="0.8"/>
<g clip-path="url(#cf)">
<rect x="0" y="0" width="500" height="545" fill="#f8f1ed"/>
<path fill="#eff3f5" d="M345.4 184.7l28.4 0-2.8 1.8-2.3 3-.1 1.6 .9 1.6 2 1.6 2.7 1.1 6.4 1.3 9.6 .7 11.2 0 16-1 16-1.9 3.2 .1 1.6 .6 1.6 1.3 1.6 2.4 7.9 22.6 .9 4.8-.1 1.6-.9 3.2-6.2 11-5.5 11.4-2.5 3.6-3.2 2.1-2.5 .7-19.9 1.6-4.8 1.2-3.2 1.4-4.8 3.5-4.9 5.1-6.3 8-5.1 8-2.2 4.8-1.7 6.4-.2 4.8 .6 4.8 1.3 4.8 2.5 6 3.2 6.1 5.5 8.7-45.5 0 0-150.4 1.6 0zM494.2 206.3l0 54-4.8-2.6-6.4-6.3-8-10.2-1.6-3.2-.3-2.1 .3-1.9 1.6-2.4 7-6.9 5.3-6.4 3.2-4.8 3.7-7.2z"/>
<path fill="#ddebf2" d="M355 200.2l3.2-.8 3.2-.1 14.4 2 20.8-.3 12.8 .4 11.2 1.4 8 2.1 4.8 2 3.2 1.9 3.2 2.6 3.2 4.2 2.2 4.3 1.4 4.8 .2 3.2-1.2 4.8-5.8 12.4-3.2 5.9-1.9 2.5-2.9 2.4-4.8 1.6-19.2 1.4-3.2 .7-3.2 1.2-4.8 3.3-12.8 14.1-3.2 3.1-3.2 2.5-4.8 1.9-3.2 .1-3.2-.8-3.2-1.8-3.2-2.9-2.3-2.8-2.8-4.8-3.2-8-7.7-25.4 0-26 2.3-4.6 2.5-3.5 3.2-3.1 3.2-1.9z"/>
<path fill="#c7e0ed" d="M361.4 205.3l12.8 .5 16-1.4 12.8 0 12.8 1.6 11.2 3 4.8 2.1 4.8 3 2.7 2.6 2.3 3.2 2 4.8 .4 3.2-.3 3.2-1.4 4.8-2.8 6.4-2.9 5.2-2.2 2.8-2.6 2.4-3.2 1.6-3.2 .7-19.2 1.4-3.2 .6-3.2 1.2-2.7 1.7-2.1 1.9-8 9.4-6.4 5.9-3.2 1.9-3.2 1-4.8-.4-3.2-1.5-3.2-2.8-2-2.6-2.7-4.8-9.5-28.8-1.3-4.8-.8-4.8-.1-4.8 .7-4.8 1-3.2 1.9-4 1.8-2.4 3-2.8 3.2-1.6 3.2-.6z"/>
<path fill="#acd2e5" d="M395 207.1l11.2 .4 11.2 1.8 9.6 3 6.4 3.3 4.7 4.3 2.7 4.8 .8 4.8-1.2 6.4-1.9 4.8-2.8 4.8-2.3 2.9-3.2 2.4-3.2 1.3-3.2 .7-19.2 1.2-3.2 .5-3.2 1.1-2 1.1-2.8 2.5-6.7 8.7-4.5 4.5-3.2 2.1-3.2 1.1-3.2 .1-1.6-.3-3.2-1.6-2.8-2.7-2.2-3.2-2.1-4.8-3.8-12.8-4.2-11.2-1.8-6.4-.6-6.4 1-6.4 1.4-3.2 2.3-3.1 2.1-1.7 2.7-1.3 3.2-.6 11.2-.4 12.8-2 8-.5z"/>
<path fill="#8dc2dc" d="M387 210.2l9.6-.8 11.2 .6 11.2 2.1 8 2.9 6.4 3.8 3.9 4.3 1.9 4.8 .2 3.2-.4 3.2-.9 3.2-2.3 4.8-2.4 3.2-3.2 2.7-3.2 1.5-4.8 1.1-19.2 1-6.4 1.3-3.2 1.9-1.6 1.4-6.4 8.9-4.2 4.2-3.8 2-3.2 .4-1.6-.3-3.2-1.6-1.6-1.5-1.6-2.2-1.6-3.2-4.1-14.4-5.8-14.4-1-6.4 .5-4.8 .8-2.4 1.6-2.7 1.6-1.6 3.2-1.7 11.2-1.5 14.4-3z"/>
<path fill="#6bacd1" d="M391.8 211.8l9.6-.3 9.6 .9 8 1.9 8 3.1 4.8 3.1 3.8 4.2 1.7 4.8 .1 3.2-.6 3.2-1.3 3.2-2.1 3.5-1.6 1.8-3.2 2.3-3.2 1.3-4.8 1-19.2 .7-6.4 1.1-2.5 1.1-2.3 1.6-2.7 3.2-3.7 5.7-3.2 3.4-3.2 1.7-3.2 .1-3.2-1.7-1.6-1.8-1.6-2.9-3.9-15.7-5.8-12.8-.7-4.8 .5-3.2 1.9-3.6 3.2-2.2 20.8-5.7 8-1.4z"/>
<path fill="#4695c4" d="M395 213.5l8-.1 9.6 1.2 8 2.2 6.8 3.1 4.4 3.5 1.6 2 1.3 2.5 .7 4.8-1.1 4.8-1.8 3.2-2.3 2.5-3.2 2-3.2 1.2-8 1.2-19.2 .4-3.2 .5-3.2 1.1-3.7 2.3-5.9 7.9-1.6 1.5-1.6 .7-1.6 .2-1.6-.6-1.6-1.5-.9-1.8-.9-3.2-1-6.4-1.2-4.8-5.3-11.2-.6-3.2 .5-3.2 1.1-1.6 2-1.6 12.7-5.9 8-2.5 8-1.2z"/>
<path fill="#3480b9" d="M398.2 215.1l8 .2 8 1.4 6.4 2 6.4 3.3 3.2 2.8 1.6 2.2 1.1 2.5 .2 4.8-1 3.2-.9 1.6-1.3 1.6-2.9 2.2-3.2 1.5-4.8 1.1-6.4 .5-19.2 0-4.8 .6-8 2.1-1.6-.1-1.6-.9-3.2-5.1-3.7-8.3-.7-3.2 .1-1.6 1.4-3.2 3.1-3.2 2.2-1.6 6-3.2 7.6-2.3 8-.9z"/>
<path fill="#266caf" d="M390.2 218l8-1.2 8 .2 8 1.4 6.4 2.2 3.2 1.6 3.2 2.3 2.8 3.4 1.1 3.2 0 3.2-.5 1.6-2 3.2-3 2.4-3.2 1.3-4.8 1.1-6.4 .4-6.4-.1-17.6-.8-4.8-1.1-3.2-2.3-2.7-4.1-1.1-4.8 .6-3.2 2-3.2 3.8-3.2 3.8-2 4.8-1.5z"/>
<path fill="#185493" d="M391.8 219.6l6.4-1.1 8 .1 6.4 1.1 6.4 2.1 5 2.9 3.1 3.2 .8 1.6 .7 3.2-.8 3.2-2.4 2.9-3.2 1.9-3.2 1-4.8 .8-6.4 .2-9.6-.7-8-1.1-4.8-1.5-2.9-1.9-2.3-3.2-.7-3.2 .5-3.2 2.1-3.2 1.8-1.6 3.1-1.8 4.8-1.7z"/>
<path fill="#0a3b70" d="M393.4 221.2l4.8-.9 6.4-.1 6.4 .9 6.3 2 3.3 1.8 3.5 3 1.6 3.2-.2 3.2-.8 1.6-2.5 2.2-3.2 1.5-4.8 1.1-4.8 .3-6.4-.4-8-1.2-4.8-1.3-3.2-1.7-2.2-2.1-1-2-.3-2.8 1.4-3.2 1.5-1.6 2.3-1.6 4.7-1.9z"/>
<path fill="#fbe4d6" d="M460.6 197.4l3.2 .5 1.6 .7 2.8 2.1 2.5 3.2 1.9 4.8 .4 3.2 0 3.2-1.4 4.8-3 4.6-5.6 5-.9 1.6 .1 1.6 1.5 3.2 6.2 9.6 2.6 4.8 3.2 8 4.1 13.4 6.5 12.2 2.1 4.8 1 4.8-.1 4.8-1.2 4.8-1.9 3.8-3.6 4.2-4.4 3-4.8 1.5-4.8 .4-4.8-.6-12.8-2.8-20.8-.8-12.8-1.5-12.8-3.3-6.4-2.5-4.8-2.7-3.2-2.6-2.2-2.5-1.6-3.2-.4-1.6-.2-3.2 .7-3.2 3.1-6.4 3.7-4.8 3.3-3.5 3.2-2.6 4.8-2.6 3.2-1 4.8-.9 17.6-1.2 3.8-1 2.6-1.9 1.8-2.9 4.6-11.2 3.2-5.7 3.2-4 5.2-4.7 1-1.6-.3-3.2-4.1-11.2-.7-4.8 .2-3.2 .9-3.2 2.6-3.7 3.2-2.1 3.2-.7z"/>
<path fill="#fcd3bc" d="M460.6 205.2l1.9 .3 2.4 1.6 1.2 1.6 1 3.2 0 3.2-1.4 3.2-1.9 2-1.6 .6-1.6 0-1.6-.6-1.6-1.6-1-2-.9-3.2 .1-3.2 1.6-3.2 1.8-1.4 1.6-.5zM452.6 237l3.2-.5 1.6 .4 1.6 .8 3.2 2.7 5 6.7 3.8 8 4.4 17.6 1.2 3.5 4.8 10.9 1.3 4.8 .2 4.8-.7 3.2-1.5 3.2-2.5 3-2.6 1.8-2.2 1-4.8 .8-16-1.6-19.2 0-9.6-.7-9.6-1.8-9.6-3-6.4-3.2-4.8-3.8-1.6-2.1-1.5-3.2-.3-4.8 .9-3.2 1.6-3.2 4.1-5.2 3.2-2.8 3.2-2 6.4-2.4 8-1.2 14.4-.6 4.8-1.4 1.6-1.2 1.5-2.4 3.6-11.2 2.9-5.8 3.2-3.8 3.2-2.1z"/>
<path fill="#f8bb9e" d="M452.6 240.1l3.2-.2 3.2 1.5 1.6 1.3 2.6 2.8 2.2 3.2 3 6.4 1.4 4.8 2.7 14.4 4.3 12.8 1.1 4.8-.3 4.8-1 2.7-1.6 2.2-3.2 2.2-4.8 1.3-14.4-.2-17.6 .7-8-.4-9.6-1.5-9.6-2.9-6.4-3.1-4.8-3.8-1.6-2-1.5-3.2-.3-1.6 .2-3.2 1.9-4.8 4.1-4.8 5.2-3.5 6.4-2.2 8-1.2 14.4-.4 4.8-1.1 1.8-1.2 1.4-2.2 2.5-10.6 2.3-5.8 3.2-4.1 3.2-1.9z"/>
<path fill="#f2a17f" d="M451 243.5l3.2-.9 1.6 .2 3.2 1.6 3.9 4.3 3.3 6.4 1.7 6.4 2 14.4 3 11.2 .5 3.2-.4 4.8-2 3.2-2.4 1.7-4.8 1.3-24 2-11.2-.1-9.6-1.3-8-2.3-6.4-3-4.8-3.6-2.2-2.7-.8-1.6-.7-3.2 .1-1.6 1-3.2 2.1-3.2 1.6-1.6 5.3-3.6 6.4-2.1 8-1.1 16-.3 3.2-.7 1.6-.8 1.6-1.8 .9-2.4 1-8 1.3-5 1.6-3.2 1.6-2.1 1.6-1.3z"/>
<path fill="#e48066" d="M454.2 245.3l3.2 .9 3.2 2.8 2.8 4.5 1.7 4.8 .9 4.8 1 12.8 2.3 12.8-.3 3.2-.7 1.6-1.3 1.8-1.9 1.4-2.9 1.1-6.4 1.4-14.4 2.1-11.2 .2-8-.9-8-2-6.4-2.7-5.6-4-1.3-1.6-1.6-3.2-.3-1.6 .4-3.2 1.6-3.2 1.4-1.6 3.8-2.9 4.8-2 4.8-1.2 8-.7 14.4 .1 3.2-.6 1.9-.7 1.3-1.1 1.2-2.1 .4-1.6 .6-9.6 1.3-4.8 1.3-2.3 1.6-1.6 1.6-.9 1.6-.2z"/>
<path fill="#d7634f" d="M452.6 248.5l1.6-.4 1.6 .3 3.2 2.2 2.8 4.5 1.5 4.8 .5 4.8 0 9.6 1.5 12.8-.6 3.2-.9 1.6-1.6 1.6-4.8 2.4-9.6 2.5-9.6 1.4-8 .1-8-.9-8-2.3-6.4-3.2-3.7-3.2-1.9-3.2-.4-1.6 .4-3.2 .7-1.6 1.7-2.2 1.6-1.4 3.2-1.9 4.8-1.7 6.4-1.1 6.4-.2 14.4 .4 3.2-.6 1.9-.9 1.5-1.6 .6-1.6 .3-3.2-.3-8 .5-3.2 1.5-3.2 2-1.8z"/>
<path fill="#c6413e" d="M454.2 251.7l1.6 .1 1.6 1.1 1.6 1.9 1.4 3.5 .6 3.2-.2 4.8-1.1 4.8-.2 3.2 1.5 8 .2 3.2-.7 3.2-1 1.6-1.6 1.6-5.3 2.8-6.4 2.1-8 1.4-8 .2-8-1-7.4-2.3-5.8-3.2-3.1-3.2-1.2-3.2 .3-3.2 2.3-3.2 2.1-1.6 3.2-1.6 4.8-1.4 6.4-.8 6.4 .1 11.2 .9 4.8-.1 3.2-.8 1.9-1.1 1.1-1.6 .2-1.6-1.6-9.6 0-3.2 1-3.2 .6-.8 1.6-1z"/>
<path fill="#b72230" d="M419 275.9l6.4-.7 6.4 .2 19.2 3 3.2 1.6 1.6 2.3 .6 3.2-.3 1.6-2 3.2-2 1.6-4.3 2.2-6.4 1.9-4.8 .7-6.4 .2-4.8-.5-5.7-1.3-4.3-1.6-4.4-2.7-2.1-2.1-1.4-3.2 .5-3.2 1.1-1.6 1.7-1.6 3.4-1.9 4.8-1.3z"/>
<path fill="#991027" d="M420.6 277.3l4.8-.6 4.8 .1 5.5 .7 6.9 1.6 4.3 1.6 2.5 1.6 1.3 1.6 .5 1.6-.1 1.6-.7 1.6-1.3 1.6-2.2 1.6-3.5 1.6-3.6 1-4.8 .7-4.8 .1-4.8-.5-4.8-1.1-4.3-1.8-2.5-1.6-1.7-1.6-1.1-1.6-.5-1.6 .1-1.6 .6-1.6 1.3-1.6 3.3-2 4.8-1.4z"/>
<path fill="#760521" d="M422.2 278.8l8-.3 4.8 .6 4.8 1.4 3.9 1.8 1.8 1.6 .9 1.6 .1 1.6-.7 1.6-1.5 1.6-2.9 1.6-4.8 1.4-3.2 .4-4.8-.1-7.7-1.7-3.3-1.6-2.1-1.6-1.3-1.8-.4-1.4 .1-1.6 .9-1.6 1.9-1.6 5.5-1.9z"/>
</g>
<g fill="none" stroke="#8a8a8a" stroke-width="0.45" stroke-dasharray="1.2 1.2" opacity="0.7">
<circle cx="419.6" cy="260.5" r="13.2"/>
<circle cx="419.6" cy="260.5" r="26.8"/>
<circle cx="419.6" cy="260.5" r="41.4"/>
<circle cx="419.6" cy="260.5" r="57.7"/>
<path d="M346.8 260.5L492.4 260.5"/>
<path d="M356.6 224.1L482.6 296.9"/>
<path d="M383.2 197.5L456.0 323.5"/>
<path d="M419.6 187.7L419.6 333.3"/>
<path d="M456.0 197.5L383.2 323.5"/>
<path d="M482.6 224.1L356.6 296.9"/>
</g>
<path stroke="#000" stroke-width="1.5" stroke-linecap="round" d="M422.9 278.9h.01M417.8 279.1h.01M433.5 280.0h.01M429.0 282.5h.01M424.1 284.0h.01M418.9 284.4h.01M413.8 283.7h.01M408.9 281.9h.01M407.9 239.7h.01M412.6 237.6h.01M417.7 236.7h.01M422.9 236.8h.01M427.9 238.1h.01M439.1 282.2h.01M434.9 285.3h.01M430.2 287.6h.01M425.2 289.1h.01M420.0 289.6h.01M414.8 289.2h.01M409.8 287.9h.01M402.2 237.2h.01M406.6 234.4h.01M411.5 232.5h.01M416.6 231.5h.01M421.8 231.5h.01M426.9 232.3h.01M431.9 234.1h.01M444.5 284.1h.01M440.6 287.7h.01M436.2 290.5h.01M431.4 292.7h.01M426.4 294.1h.01M421.1 294.8h.01M396.6 235.0h.01M400.8 231.8h.01M405.4 229.3h.01M410.3 227.5h.01M415.4 226.4h.01M420.7 226.2h.01M425.9 226.8h.01M431.0 228.1h.01M446.5 289.5h.01M442.4 292.7h.01M392.7 231.5h.01M396.8 228.3h.01M401.2 225.5h.01M405.9 223.4h.01M410.8 222.0h.01M415.9 221.1h.01M391.2 226.0h.01M395.4 222.9h.01M399.9 220.4h.01M404.7 218.3h.01"/>
<path clip-path="url(#cf)" fill="none" stroke="#666" stroke-width="0.5" opacity="0.75" stroke-linejoin="round" d="M394.4 246.1L401.3 249.4L408.2 253.0L415.1 246.1L419.6 241.6L428.9 240.4L438.2 241.6L442.7 247.6L445.1 256.6L442.7 265.6L438.8 273.1M412.1 248.8L404.3 255.4L401.0 261.7L405.8 268.0L412.1 271.3L420.2 276.1M483.8 288.1L482.3 290.8L479.0 294.1L476.0 300.4L474.2 305.2L467.9 310.0L463.1 308.5L455.0 308.5L450.2 310.0L441.2 310.6L431.0 311.2L424.7 318.1L422.6 324.1L423.8 331.6M450.2 310.0L452.0 314.8L453.5 324.4L452.6 331.6M362.3 216.1L366.8 227.8L369.2 236.8L373.7 241.6L381.2 244.6L387.2 246.1"/>
<g clip-path="url(#cf)" fill="none" stroke="#000" stroke-width="1.1" stroke-linejoin="round">
<path stroke-dasharray="3.2 1.6" d="M430.2 231l1.8 1.7 1.4 .3 3.2 .2 1.5-.5-1.3-1.6-1.8-.6-3.2-.3-1.6 .8"/>
<path stroke-dasharray="3.2 1.6" d="M417.4 223l-3.4 1.7-1.5 1.6-.6 1.6 .1 1.6 1.7 3.2 3.9 3.2 7.1 3.2 13.5 3.7 4.8 1.7 11.2 5.9 3.2 .6 1.6-.1 1.6-.6 1.8-1.6 .9-1.6 .6-3.2-.6-3.2-1.1-2.6-1.6-2.4-2.8-3-6.8-4.8-8-3.6-4.8-1.4-4.8-.9-8-.4-4.8 .6-3.2 .8"/>
<path stroke-dasharray="3.2 1.6" d="M414.2 218.1l-6.3 1.8-3 1.6-1.9 1.8-1.4 3 .4 3.2 1.6 3.2 3.1 3.2 4.3 3 8 3.6 19.2 5.7 4.8 2.2 8 4.8 4.8 1.9 3.2 .3 4.1-.7 2.9-1.6 2.8-3.2 1.6-3.2 .7-3.2-.2-4.8-.9-3.2-1.8-3.2-2.6-3.2-3.4-3-3.2-2.2-4.8-2.6-4.8-2-4.8-1.6-6.4-1.4-6.4-.8-6.4-.3-11.2 .9"/>
<path stroke-dasharray="3.2 1.6" d="M422.2 213.5l-9.6 .6-8 1.3-6.4 2.2-3.4 2.3-2 3.2-.3 1.6 .2 3.2 1.3 3.2 1.9 3.2 4.6 4.8 4.6 3.2 5.9 2.9 8 2.6 16 4.3 4.8 2 10.9 5.8 5.1 1.7 4.8 .5 4.8-.8 4.8-2.5 3.8-3.7 2-3.2 1.9-4.8 .8-4.8-.3-3.2-.8-3.2-1.6-3.2-2.3-3.2-3.5-3.4-4.2-3-5.4-2.9-4.8-2-6.4-1.9-12.8-2.3-14.4-.5"/>
<path stroke-dasharray="3.2 1.6" d="M411 210.3l-12.8 1.5-8 2.3-2.2 1-2.6 1.9-1.6 2.3-.7 2.2 .3 3.2 1 3.2 2.5 4.8 3.3 4.8 3.2 4 3.2 3.2 3.2 2.4 3.2 1.9 4.8 1.9 4.8 1.4 20.8 4.5 4.8 1.7 11.2 5.2 4.8 1.6 4.8 .9 3.2 .2 4.8-.4 3.2-.9 3.2-1.3 4-2.3 3.9-3.2 3-3.2 2.6-3.2 2.8-4.8 1.5-4.8 .1-3.2-1-4.8-1.6-3.2-3.6-4.8-3.4-3.2-4.5-3.2-5.4-2.9-6.4-2.5-4.8-1.4-14.4-2.4-17.6-1-17.6 .6"/>
<path d="M343.8 279.9l5.6-32.8 1.2-4.8 1.8-4.8 2.7-4.8 3.1-3.8 1.6-1.4 3.2-1.8 3.2-.7 3.2 .6 1.6 .8 4.8 3.6 6.4 7.3 11.2 15.6 3.2 2.9 3.2 1.8 6.4 1.5 17.6 1.5 8 1.2 6.4 1.8 14.4 5.2 6.4 1.6 8 .8 12.8 0 4.8 .5 4.8 1.4 4.8 2.9M494.2 302.4l-6.4 5.1-8 4.4-8 3.2-11.2 3.2-11.2 2.2-12.8 1.4-12.8 .5-14.4-.6-33.6-3.1-6.4-1.3-4.8-1.9-7.2-4.4-6.7-6.4-4.4-6.4-1.4-3.2-1.1-3.8M398.2 186.3l12.8-.5 11.2 .3 11.2 .9 11.2 1.7 8 2 6.4 2.5 4 2.7 1.1 1.6-.1 1.6-1.4 1.6-3.6 1.6-9 1.6-53.4 2.7-11.2 1.2-12.8 2.1-6.4 0-3.2-.9-3.7-1.9-2.7-2.2-1.8-2.6-.4-1.6 .3-1.6 .9-1.6 2.6-2.4 6.4-3.3 9.6-2.7 11.2-1.7 12.8-1.1"/>
<path d="M366.2 240.5l1.6-.9 3.2-.4 3.2 1 3.2 2.4 4.7 6.1 6.5 11.9 2.1 2.5 2.7 1.9 3.2 1.2 3.2 .4 20.8-.5 11.2 .9 8 1.8 25.6 8.2 6.4 2.8 3.1 2.5 1.3 1.6 .8 1.6 .7 3.2-.4 3.2-.6 1.6-2 3.2-3.3 3.2-4.4 3-4.8 2.4-11.2 3.8-8 1.7-8 1-14.4 .5-12.8-1-28.8-5.1-8-2.5-3.2-1.8-2.7-2-4.1-4.8-1.8-3.2-1.1-3.2-1.2-6.4 .3-12.8 1-9.6 1.1-6.4 1.4-4.8 1.4-3.2 2.1-3.2 2-1.8"/>
<path d="M371 253.4l2.2 .1 2.6 1.8 7.9 12.6 3.3 3.1 3.2 1.6 3.2 .7 3.2 .1 16-1.9 9.6-.5 9.6 .6 8 1.6 12.3 4.3 5.3 2.6 3.4 2.2 1.7 1.6 2 3.2 .3 1.6-.5 3.2-1.9 3.2-1.6 1.6-3.4 2.5-4.8 2.4-4.8 1.8-6.4 1.6-12.8 1.6-11.2-.1-11.2-1.4-9.6-2.4-20-6-5.4-3.2-3-3.2-2.4-4.8-1-4.8-.1-9.6 1.5-9.6 1.7-4.8 1.5-2.2 1.6-1.1"/>
<path d="M417.4 275.8l8-.2 6.4 .5 6.6 1.4 6.2 2.2 4.7 2.6 3.5 3.2 1.2 3.2-.7 3.2-2.8 3.2-5.6 3.2-6.7 2.1-8 1.3-9.6 .2-8-.8-6.4-1.5-7.8-2.9-5.6-3.2-4.2-3.2-2.8-3.2-.2-1.6 2-1.6 13.6-4.8 8.2-2.2 8-1.1"/>
<path d="M420.6 280.6l8 .2 4.8 .9 3.2 1.1 2.2 1.1 2.6 2.2 .7 1 .5 1.6-.3 1.6-1.1 1.6-3 2.1-3.2 1.4-6.4 1.3-4.8 .3-4.9-.3-4.7-.9-4.8-1.7-3.4-2.2-1.2-1.6-.4-1.6 .3-1.6 1.2-1.6 2.2-1.6 3.6-1.6 4.1-1.1 4.8-.6"/>
</g>
<circle cx="419.6" cy="260.5" r="72.8" fill="none" stroke="#1a1a1a" stroke-width="0.8"/>
<g clip-path="url(#cg)">
<rect x="0" y="0" width="500" height="545" fill="#eff3f5"/>
<path fill="#f8f1ed" d="M31 348.4l11.7 0-5.9 19.2-7.4 20.3 0-39.5 1.6 0zM123.8 349.5l.3-1.1 55.3 0 0 39.5-2.8 6.9-2.5 4.8-13.2 22.4-2.7 6.4-1.2 4.8-1.3 27.2-.5 34.1-68.6 0 .9-45.3 .7-14.4 .9-4.8 1.7-4.8 2.3-4.8 11.5-19.2 4.1-8 8.4-22.4 6.7-21.3z"/>
</g>
<g clip-path="url(#cg)" fill="none" stroke="#000" stroke-width="1.1" stroke-linejoin="round">
<path stroke-dasharray="3.2 1.6" d="M39 447.6l-3.2 3.2-3.2 6-1.3 5.2 .4 4.8 2 4.8 2.1 2.6 1.6 1.2 3.2 1.3 4.8-.1 4.8-2.2 4.2-4.4 2.3-4.8 .4-3.2-.3-3.2-1.1-3.2-2.1-3.2-1.8-1.9-3.2-2.4-3.2-1.5-1.6-.3-3.2 .4-1.6 .9"/>
<path stroke-dasharray="3.2 1.6" d="M179.4 427.2l-2.8 2.7-1.1 1.7-1.7 4.8-.7 4.8-.3 8-1.4 11.2-.2 4.8 .4 6.4 1.6 6.4 2.7 3.2 3.5 2M29.4 483.2l6.4 2 8 .5 8-1.3 6.4-2.8 2.7-2 1.4-1.6 2.3-4.8 2-6.4 .6-6.4-.9-6.4-3.3-7.9-4.6-6.5-5-4.9-8-5.5-6.4-2.7-4.8-.7-3.2 .7-1.6 .7"/>
<path stroke-dasharray="3.2 1.6" d="M111.5 348.4l.7 3.2 1.4 3.2 2.2 3.4 3.2 3.5 3.2 2.8 4.8 2.9 3.2 1.1 3.2 .3 1.6-.3 1.9-.9 1.5-1.6 1.4-2.8 .9-5.2-.2-9.6M179.4 404.2l-9.2-3.3-8-1.4-3.2 .4-1.6 .6-1.6 1.5-.8 2.4 .3 3.2 3.1 11.2 5.4 28.8 .3 6.4-.8 17.6 .5 8 2.2 4.8 3 3.2 4.4 2.3 6 1.8M29.4 491.7l9.6 1.3 8-.2 6.4-1.1 4.8-1.2 6.5-2.9 2-1.6 2.7-3.2 2.5-4.8 2.2-9.6 .8-8-.7-8-2.6-8-4.2-8-7.6-10.3-4.8-5.7-6.4-5.5-9.6-6.1-9.6-4.6"/>
<path d="M88.5 348.4l.8 4.8 2 6.4 2.6 6.4 2.8 4.8 4.7 5.9 10.6 11.7 19.8 17.6 8 8.1 4.5 6.3 6.7 13.5 2.3 5.7 2.1 6.4 1 4.8 .5 4.8-.4 9.6-2.6 29.3M179.4 380.1l-6-7.1-3.7-5.4-4.5-11.2-1.7-8M78.9 494.5l2.6-29.3 .4-9.6-.5-4.8-1-4.8-4-11.2-7.1-14.4-4.6-6.4-8.1-8.2-17.9-15.8-9.3-9.9"/>
<path d="M65.5 348.4l.2 9.6-1.1 5.8-1.2 2.2-1.5 1.6-2.1 1-1.6 .2-3.2-.4-3.2-1.1-4.8-3-3.2-2.8-3.1-3.5-2.1-3.2-1.4-3.2-.7-3.2M87 399.5l6.4 .9 9.6 3.2 9.6 4.5 9.6 5.8 4.8 3.7 4.8 4.8 6.4 8 5.2 7.6 3.2 6.4 2.2 6.4 1 6.4-.1 6.4-1.2 8-2.2 8-3.3 5-3.3 3-4.7 2.3-6.4 1.8-8 1.2-8 0-8-1.2-7.7-2.5-3.5-2.1-3.2-4-1.4-3.5-.4-3.2 0-9.6 .7-12.8-.3-6.4-5.4-28.8-2.8-9.6-.6-3.2 .4-3.2 1.1-1.6 2.3-1.3 3.2-.4"/>
<path d="M106.2 426.4l3.2-.6 4.8 .8 4.8 1.9 6.4 3.8 4.8 4 4.5 4.9 3.2 4.8 2.3 4.8 1.5 4.8 .5 4.8-.3 4.8-1.2 4.8-3.4 8-3.4 3.2-3.7 2-4.8 1.5-4.8 .9-4.8 .1-4.8-.5-4.8-1.2-3.2-1.4-3.2-2.4-1.6-2.2-1.6-6.4-.4-6.4 .2-4.8 1.3-9.6 .8-12.8 1.3-4.8 1.6-3.1 1.6-1.8 3.2-1.9"/>
<path d="M114.2 447.4l1.6-.8 3.2-.3 4.8 1.9 4.8 4.2 2.1 3.2 1.1 3.2 .3 3.2-.3 2.5-.7 2.3-1.7 3.2-4 4.2-4.8 2.4-4.8 .1-1.6-.4-2.6-1.5-2.9-3.2-2-4.8-.4-4.8 1.5-5.7 3.2-5.8 3.2-3.1"/>
</g>
<path stroke="#000" stroke-width="2.1" stroke-linecap="round" d="M51.9 479.9h.01M62.4 478.4h.01M66.9 485.1h.01M129.9 479.0h.01M135.9 483.7h.01M149.4 484.6h.01M57.9 485.7h.01"/>
<rect x="29.4" y="348.4" width="150.0" height="146.1" fill="none" stroke="#333" stroke-width="0.8"/>
<g clip-path="url(#ch)">
<rect x="0" y="0" width="500" height="545" fill="#eff3f5"/>
<path fill="#ddebf2" d="M297.8 355.9l3.2-.7 3.2 .2 3.2 1 2.9 1.6 5.1 4.9 5.1 7.9 6.1 13.4 8.8 26.6 .7 4.8-.4 3.2-1.1 2.1-1.6 1.4-3.2 .7-4.8-.8-4.8-2-6.4-3.8-6.4-4.6-6.4-5.8-4.3-4.8-3.2-4.8-1.9-4.8-2.4-9.6-.8-6.4 .2-6.4 1.1-4.8 1.7-3.4 3.2-3.4 3.2-1.7z"/>
<path fill="#f8f1ed" d="M189 348.4l75 0 .6 9.6 1.6 9.6 3.3 12.8 4.4 14.4 2.2 4.8 2.8 4.8 15.9 22.4 5.4 9.6 7.7 17.6 5.6 14.4 4.2 12.8 3.4 13.3-75.1 0-3.4-13.3-4.2-12.8-5.6-14.4-7.7-17.6-5.4-9.6-15.9-22.4-2.8-4.8-2.2-4.8-4.4-14.4-3.3-12.8-1.8-11.2-.3-8z"/>
<path fill="#fbe4d6" d="M222.6 355.9l3.2-.7 3.2 .2 3.2 .9 3 1.7 5 4.8 5.2 8 2.8 5.6 3.7 8.8 8.4 25.6 .7 4.8-.4 3.2-1.2 2.3-1.6 1.2-3.2 .7-4.8-.9-4.8-2-6.4-3.7-6.4-4.7-6.3-5.7-4.3-4.8-3.2-4.8-1.9-4.8-2.4-9.6-.8-6.4 .2-6.4 1.1-4.8 1.6-3.3 3.2-3.5 3.2-1.7z"/>
</g>
<g clip-path="url(#ch)" fill="none" stroke="#000" stroke-width="1.1" stroke-linejoin="round">
<path stroke-dasharray="3.2 1.6" d="M294.4 348.4l14.6 27.7 14.4 25.3 8 11.5 3.2 3.6 3 2.4M337.6 390.5l-7.8-21.3-8.5-20.8M187.4 418.9l3.2 1 1.6-.7 .9-2 .3-3.2-1.2-8-4.8-15.5"/>
<path stroke-dasharray="3.2 1.6" d="M284.6 348.4l24.4 49.5 11.7 22.5 3.2 4.8 4.3 5.1 4.8 4.7 4.6 3.7M337.6 363.1l-6.5-14.7M187.4 438.7l4.8 3.2 4.8 2.2 3.2 .7 3.2-.3 3.2-1.7 3.2-3.7 1.8-4.3 .6-4.8-.8-6.8-3.5-10.8-6.1-15.4-14.4-33.9"/>
<path stroke-dasharray="3.2 1.6" d="M277.1 348.4l35.1 73.6 12.7 20.8 6.5 11.6 6.2 10M187.4 464.4l6.4 8.3 6.4 5.8 3.2 2 3.2 1.3 3.2 .4 3.2-.4 3.2-1.6 1.6-1.3 3.2-4 1.6-3.1 2.5-8.2 .8-4.8 .3-6.4-.2-6.4-.9-8-1.3-6.4-2.6-8-9.8-23.8-23-51.4"/>
<path d="M270.3 348.4l26.5 57.6 15.5 35.2 3.5 11.2 3.2 12.8 3.7 17.6 2 11.7M249.6 494.5l-2-11.7-3.7-17.6-3.2-12.8-3.5-11.2-16.2-36.8-25.8-56"/>
<path d="M263.5 348.4l15.1 33.5 13.9 32.1 5.4 14.4 2.3 9.6 .9 8 .2 8-.8 8-1.5 6.4-2.8 6.3-3.2 4.1-3.2 2.3-1.6 .7-3.2 .4-3.2-.4-3.2-1.3-3.2-1.9-3.2-2.6-6.4-7-6.4-9.3-9.6-16.9-12.7-20.8-35.1-73.6"/>
<path d="M256 348.4l22.6 52.7 5 12.9 3 9.6 .7 4.8-.1 3.2-.6 3.6-1.6 3.7-1.6 2.3-3.2 2.6-1.6 .6-3.2 .4-3.2-.6-3.2-1.4-8-5.2-8-7.4-5.3-6.6-2.7-4.3-8-15.3-27.5-55.6"/>
<path d="M246.2 348.4l11.6 29 8.6 25.4 1.8 8 .3 4.8-.9 3.2-1.8 1.1-1.6-.2-1.6-.7-3.2-2.6-3.2-3.6-4.8-6.6-6.4-10.4-8-14.1-17.7-33.3"/>
</g>
<path stroke="#000" stroke-width="2.1" stroke-linecap="round" d="M199.4 458.3h.01M207.8 458.3h.01M216.2 458.3h.01M194.9 465.9h.01M203.3 465.9h.01M211.7 465.9h.01M220.1 465.9h.01M199.4 474.9h.01M207.8 474.9h.01M216.2 474.9h.01M217.4 483.7h.01M225.9 483.7h.01M215.9 492.2h.01M224.3 492.2h.01M274.5 458.3h.01M282.9 458.3h.01M291.3 458.3h.01M270.0 465.9h.01M278.4 465.9h.01M286.8 465.9h.01M295.2 465.9h.01M274.5 474.9h.01M282.9 474.9h.01M291.3 474.9h.01M292.5 483.7h.01M301.0 483.7h.01M291.0 492.2h.01M299.4 492.2h.01"/>
<rect x="187.4" y="348.4" width="150.2" height="146.1" fill="none" stroke="#333" stroke-width="0.8"/>
<g clip-path="url(#ci)">
<rect x="0" y="0" width="500" height="545" fill="#eff3f5"/>
<path fill="#ddebf2" d="M346.2 348.4l3.5 0-2.6 8-1.8 9.6-.6 11.2 .6 6.4 2.4 8 5.1 12.8 10.1 27.2 4.1 12.8 1.1 6.4-.1 3.2-1.6 3.2-1.9 1.6-2.3 1.2-4.8 1.1-6.4 0-6.4-1.2 0-111.5 1.6 0zM429.4 348.6l65.2-.2 0 111.5-7.6-2.5-8-3.8-11.2-6.6-8-5.6-4.8-4.2-4.8-5.3-4.8-6.2-5.5-8.5-12.1-24.1-2.5-6.3-1.2-4.8-.4-8 .9-9.6 1.8-8 3-7.8z"/>
<path fill="#c7e0ed" d="M346.2 348.4l1.1 0-2.7 9.3 0-9.3 1.6 0zM432.6 348.4l62 0 0 9.3-1.5 9.9-.4 9.6 .3 4.8 1.6 6.9 0 57.8-6-.1-8-1.7-8-2.8-7.8-4.1-6.6-4.9-6.4-5.9-4.8-5.4-5.5-7.8-12.1-22.3-2.5-6.5-1-4.8 0-9.6 1.4-9.6 2.4-8 2.2-4.8 .7 0zM344.9 390l5.6 16 3.8 12.8 1.7 8 .4 6.4-.6 5.5-.9 2.5-1.1 1.6-1.8 1.6-2.6 1.3-4.8 1 0-57.8 .3 1.1z"/>
<path fill="#acd2e5" d="M344.6 349.1l.2-.7-.2 .7zM434.2 348.7l.2-.3 60.2 0-3 14.4-.9 14.4 .8 8 3.1 10.9 0 40.1-4.4 1.9-6.4 .4-6.4-1.1-8-3-8-4.6-6.4-4.9-6.4-6.4-4.8-6.2-12.2-20.7-2.6-6.4-1.1-4.8 0-8 1.2-9.6 1.9-7 3.2-7.1zM344.7 396.4l2.5 8 1.9 8 1 6.4 .3 4.8-.6 4.8-1.2 3.2-2.3 3.2-1.7 1.4 .1-39.8z"/>
<path fill="#8dc2dc" d="M437.4 348.4l54.9 0-1.6 6.4-1.3 8-.7 8-.1 8 1.1 8 4.9 19.8 0 16.8-1.9 3.4-2.5 2.4-4.8 2-6.4 .2-8-1.8-8-3.7-6.4-4.4-6.4-6-4.8-5.9-6.4-9.7-4.1-6.7-2.5-4.8-1.7-4.8-.8-4.8 .3-9.6 1.4-8 2.8-8 2.5-4.8 .5 0zM344.8 407.6l.8 9.6-1 6.2 .2-15.8z"/>
<path fill="#6bacd1" d="M439 349.3l.6-.9 50 0-2.4 14.4-.7 16 .9 8 3.3 16 .7 9.6-.4 3.2-.9 3.2-2.1 3.2-2.6 2-4.8 1.6-6.4-.2-3.2-.7-4.8-1.8-6.4-3.5-4.8-3.7-4.8-4.8-8-10.5-4.8-7.1-2.7-4.9-1.8-4.8-.9-4.8 0-4.8 .8-8 1.4-6 1.9-5.2 2.9-5.5z"/>
<path fill="#4695c4" d="M442.2 348.8l.3-.4 44.2 0-2 16-.5 14.4 .6 6.4 2.3 14.4 .3 8-.4 3.2-1 3.2-2.1 3.2-2.2 1.6-4.3 1.4-3.2 .1-3.2-.4-6.4-2.2-4.8-2.7-4.8-3.8-3.5-3.6-9.2-11.2-4.3-6.4-2.3-4.8-1.3-4.8 .1-9.6 .9-6.4 1.9-6.4 2.1-4.8 2.8-4.4z"/>
<path fill="#3480b9" d="M445.4 348.7l.2-.3 38 0-1.4 16-.4 12.8 .3 6.4 1.4 12.8-.1 6.4-1.4 6.4-2.2 3.2-2.4 1.6-3.2 .8-4.8-.2-4.8-1.5-4.8-2.7-4.8-3.9-8-8.2-4.8-6.1-3.3-5.4-1.5-3.9-.8-4.1 .2-6.4 .6-5.5 1.3-5.7 1.9-4.8 1.6-3.2 3.2-4.5z"/>
<path fill="#266caf" d="M448.6 349.1l.7-.7 30.6 0-.6 28.8 .6 19.2-.8 4.8-1.4 3.2-1.9 2.5-1.6 1.2-3.2 .9-4.8-.5-3.2-1.3-4.8-2.9-6.4-5.2-4.3-4.3-3.8-4.8-2.8-4.8-1.1-3.2-.6-3.2 .1-6.4 .9-6.4 1.3-4.8 2-4.8 1.9-3.2 3.2-4.1z"/>
<path fill="#185493" d="M453.4 348.8l.5-.4 21.4 0 .5 1.4 .8 8.2-.3 33.6-.5 3.3-1.6 3.9-1.6 1.8-3.2 1.7-3.2 .2-3.2-.7-3.2-1.3-4.8-3-4.8-4.1-3.2-3.5-3-4.7-1.3-3.2-.7-3.2 .2-6.4 .6-4.8 1.2-4.8 1.4-3.5 2.5-4.5 2.5-3.2 3-2.8z"/>
<path fill="#0a3b70" d="M459.8 349.5l4.8-1.1 3.2 .7 1.4 .9 2.2 3.2 1.1 4.8 .7 17.6-.6 12.3-1.8 5.3-1.4 1.6-3.2 1.6-3.2 0-3.2-.8-3.2-1.6-3.2-2.3-3.2-3-2.6-3.5-1.6-3.2-.7-3.2 0-4.8 .6-4.8 1.1-4.5 1.6-4.1 1.6-2.8 3.2-4 3.2-2.6 3.2-1.7z"/>
<path fill="#f8f1ed" d="M352.6 348.4l74.5 0-3.3 9.6-1.8 11.2-.1 11.2 1.8 8 12.1 27.9 9.6 17.8 4.8 7 13.8 16.1 4.3 6.4 4.2 9.6 2.9 8 1.7 6.4 1 6.9-75 0-1-6.9-1.7-6.4-2.9-8-4.2-9.6-4.3-6.4-14-16.3-4.8-7.1-9.6-17.9-11.9-27.5-1.3-4.8-.7-4.8 .5-11.2 2-11.2 2.2-6.4 .7-1.6 .5 0z"/>
<path fill="#fbe4d6" d="M354.2 349l.3-.6 70.2 0-2.6 8-1.6 8-.7 9.6 .3 8 2 8 14.1 36.8 5.8 17.6 1.2 8-.7 3.2-1.9 2.4-1.6 1.1-3.2 1.4-3.2 .6-4.8 .2-8-1.3-9.6-3.4-9.6-4.9-14.4-9.2-6.4-5.5-6.4-7.3-6.4-9-4.8-8.3-9.6-19.7-3.2-9.1-.7-6.4 .7-11.2 2-9.6 2.8-7.4z"/>
<path fill="#fcd3bc" d="M357.4 348.4l64.9 0-2 6.4-1.6 8-.8 8-.2 8 1.3 8 8 24 2.7 9.6 1.3 6.4 .4 6.4-.4 4.8-1.6 4-2.4 2.4-2.4 1.3-3.2 .8-6.4 .2-8-1.4-9.6-3.3-8-4.2-6.4-4.9-6.4-5.9-6.9-8.2-5.2-8-8.7-16.2-2.8-6.2-1.9-6.4-.4-3.2 .1-6.4 1.1-9.6 2.8-9.6 2.2-4.8 .5 0z"/>
<path fill="#f8bb9e" d="M359 349.1l.4-.7 60.4 0-2.1 8-1.1 6.4-.8 9.6 0 8 1.5 8 4.4 14.4 2 8 1.2 6.4 .5 6.4-.6 4.8-1.2 3.2-2.2 3.1-1.6 1.4-4.8 2-6.4 .4-6.4-1.2-8-3-8-4.6-6.4-5-6.4-6.4-4.5-5.9-12.3-20.8-2.6-6.4-1.1-4.8 0-8 1.2-9.6 1.7-6.5 3.2-7.2z"/>
<path fill="#f2a17f" d="M362.2 348.4l55.1 0-1.9 8-1 6.4-.7 8-.1 8 1.1 8 5.1 20.8 .8 9.6-.6 4.8-1.2 3.2-2.2 2.9-1.6 1.2-4.8 1.9-6.4 .2-8-1.9-8-3.7-6.4-4.5-6.4-6-4.8-6-6.4-9.7-3.9-6.4-2.5-4.8-1.7-4.8-.8-4.8 .3-9.6 1.4-8 2.4-7.2 2-4 1.2-1.6z"/>
<path fill="#e48066" d="M363.8 349.6l.8-1.2 50 0-2.4 14.4-.7 16 .9 8 3.3 16 .7 9.6-.4 3.2-1 3.3-1.6 2.6-2.3 2.1-4.1 1.7-3.2 .4-3.2-.1-6.4-1.5-8-3.8-6.4-4.8-4.7-4.7-11.7-16-2.9-4.8-2.1-4.8-1.2-4.8-.2-3.2 .4-8 1.5-8 2.2-6.4 2.7-5.2z"/>
<path fill="#d7634f" d="M367 349l.5-.6 44.2 0-2 16-.5 14.4 .6 6.4 2.3 14.4 .3 8-.4 3.2-1 3.2-2.1 3.2-1.9 1.5-4.8 1.5-4.8-.1-6.4-1.8-6.4-3.5-4.8-3.8-3.2-3.2-8-9.6-5.6-8.2-2.3-4.8-1.3-4.8 .1-9.6 .9-6.4 1.8-6.2 2.2-5 2.6-4.2z"/>
<path fill="#c6413e" d="M370.2 348.9l.4-.5 38 0-1.4 16-.4 12.8 .3 6.4 1.4 12.8-.1 6.4-1.4 6.4-1.6 2.5-3.1 2.3-3.3 .9-4.8-.3-4.8-1.6-4.8-2.7-4.8-4-8-8.3-4.8-6.1-3-5.1-1.8-4.6-.6-3.4 .7-11.2 1.4-6.4 1.7-4.4 1.8-3.6 3-4.3z"/>
<path fill="#b72230" d="M373.4 349.3l.9-.9 30.6 0-.6 28.8 .6 19.2-.8 4.8-1.4 3.2-2.1 2.7-1.6 1.1-3.2 .8-4.8-.6-3.2-1.3-4.8-3-4.8-3.7-5.7-5.6-3.8-4.8-2.8-4.8-1.1-3.2-.6-3.2 .1-6.4 .9-6.4 1.3-4.8 2-4.8 1.9-3.2 3-3.9z"/>
<path fill="#991027" d="M378.2 348.9l.7-.5 21.5 0 .2 .7 .7 4.1 .3 4.8-.3 33.6-.7 4-1.6 3.5-2.2 2.1-2.6 1.1-3.2 .2-3.2-.8-3.2-1.3-4.8-3-4.8-4.2-3.2-3.6-2.8-4.4-1.3-3.2-.7-3.2 0-4.8 .8-6.4 1.2-4.8 1.3-3.2 2.6-4.8 2.5-3.2 2.8-2.7z"/>
<path fill="#760521" d="M384.6 349.5l4.8-1.1 3.2 .6 1.6 1 2.2 3.2 1.1 4.8 .5 6.4 .2 12.8-.7 11.2-1.7 4.8-1.6 1.8-3.2 1.4-3.2 0-3.2-.9-3.2-1.6-3.2-2.3-3.2-3.1-2.4-3.3-1.6-3.2-.7-3.2 0-4.8 .6-4.8 .9-3.9 1.6-4.3 1.7-3 3.1-4 3.2-2.7 3.2-1.8z"/>
</g>
<g clip-path="url(#ci)" fill="none" stroke="#000" stroke-width="1.1" stroke-linejoin="round">
<path stroke-dasharray="3.2 1.6" d="M441.4 348.4l2.4 10.8 3.2 10.3 6.4 16.1 4.8 9.5 4.8 7.2 6.4 7.3 6.4 4.9 3.2 1.5 3.2 .7 3.2-.4 1.6-1.1 .9-1.2 1.2-3.2 .3-6.4-1.1-9.6-8.3-46.4"/>
<path stroke-dasharray="3.2 1.6" d="M431.6 348.4l1.9 9.6 2.3 8.7 7.2 21.7 6.4 14.4 7.7 12.8 2.4 3.2 3.5 3.6 4.8 3.8 4.8 3.2 11.2 5.6 6.4 2.5 4.4 1.2M494.6 371.8l-4.8-23.4M344.6 438.7l4.8 .2 1.6-.4 3.2-1.7 3.2-3.1 1.3-2.1 1.1-4.8-.8-6.4-8.7-27.2-5.7-21.4"/>
<path d="M423.2 348.4l2.5 12.8 3.8 14.4 4.7 15 4.7 12.2 4.3 9.6 3.8 7.2 12.5 18.4 11 17.6 4.4 8 2.8 6.4 3.1 9.6 2.1 8 1.2 6.9M409.1 494.5l-1.2-6.9-2.1-8-3.1-9.6-2.8-6.4-4.4-8-11-17.6-12.7-18.7-8-16.6-4.8-12.7-4.5-14.4-3.8-14.4-2.5-12.8"/>
<path d="M414.8 348.4l2.7 14.4 4.3 17.6 4 14.4 7.7 24 1.3 6.4-.6 5.2-1.4 2.8-1.3 1.6-3.7 2.9-3.2 1.1-1.6 .2-3.2-.3-6.4-1.8-6.4-2.6-6.4-3.2-9.6-6.2-4.8-4.2-3-3.5-4.2-6.4-4-6.9-6.4-13.9-7.5-22.4-2.6-9.6-1.9-9.6"/>
<path d="M405 348.4l8.3 46.4 1.1 9.6-.1 4.8-.9 3.9-1.6 2.3-1.6 .9-1.6 .4-1.6 0-3.2-.8-3.2-1.6-3.2-2.2-6.4-6.1-6.4-8.6-4.9-9-6.3-15-4.5-13.8-2.5-11.2"/>
</g>
<path stroke="#000" stroke-width="2.1" stroke-linecap="round" d="M383.6 356.6h.01M392.0 356.6h.01M400.4 356.6h.01M383.6 364.8h.01M392.0 364.8h.01M400.4 364.8h.01M383.6 372.9h.01M392.0 372.9h.01M400.4 372.9h.01M383.6 381.1h.01M392.0 381.1h.01M400.4 381.1h.01M383.6 389.3h.01M392.0 389.3h.01M400.4 389.3h.01M383.6 397.5h.01M392.0 397.5h.01M400.4 397.5h.01M383.6 405.7h.01M392.0 405.7h.01M400.4 405.7h.01M383.6 413.9h.01M392.0 413.9h.01M400.4 413.9h.01M458.6 356.6h.01M467.0 356.6h.01M475.4 356.6h.01M458.6 364.8h.01M467.0 364.8h.01M475.4 364.8h.01M458.6 372.9h.01M467.0 372.9h.01M475.4 372.9h.01M458.6 381.1h.01M467.0 381.1h.01M475.4 381.1h.01M458.6 389.3h.01M467.0 389.3h.01M475.4 389.3h.01M458.6 397.5h.01M467.0 397.5h.01M475.4 397.5h.01M458.6 405.7h.01M467.0 405.7h.01M475.4 405.7h.01M458.6 413.9h.01M467.0 413.9h.01M475.4 413.9h.01M389.6 421.4h.01M398.0 421.4h.01M406.4 421.4h.01M414.8 421.4h.01M389.6 429.6h.01M398.0 429.6h.01M406.4 429.6h.01M414.8 429.6h.01M389.6 437.8h.01M398.0 437.8h.01M406.4 437.8h.01M414.8 437.8h.01M389.6 446.0h.01M398.0 446.0h.01M406.4 446.0h.01M414.8 446.0h.01M464.6 421.4h.01M473.0 421.4h.01M481.4 421.4h.01M489.8 421.4h.01M464.6 429.6h.01M473.0 429.6h.01M481.4 429.6h.01M489.8 429.6h.01M464.6 437.8h.01M473.0 437.8h.01M481.4 437.8h.01M489.8 437.8h.01M464.6 446.0h.01M473.0 446.0h.01M481.4 446.0h.01M489.8 446.0h.01M349.1 453.6h.01M344.6 444.8h.01"/>
<rect x="344.6" y="348.4" width="150.0" height="146.1" fill="none" stroke="#333" stroke-width="0.8"/>
<path fill="none" stroke="#222" stroke-width="0.8" d="M25.9 348.4H29.4M25.9 373.7H29.4M25.9 405.4H29.4M25.9 419.0H29.4M25.9 450.4H29.4M25.9 464.3H29.4M25.9 482.2H29.4M66.9 494.5V498.0M104.4 494.5V498.0M141.9 494.5V498.0M183.9 348.4H187.4M183.9 373.7H187.4M183.9 405.4H187.4M183.9 419.0H187.4M183.9 450.4H187.4M183.9 464.3H187.4M183.9 482.2H187.4M225.0 494.5V498.0M262.5 494.5V498.0M300.1 494.5V498.0M341.1 348.4H344.6M341.1 373.7H344.6M341.1 405.4H344.6M341.1 419.0H344.6M341.1 450.4H344.6M341.1 464.3H344.6M341.1 482.2H344.6M382.1 494.5V498.0M419.6 494.5V498.0M457.1 494.5V498.0M103.0 526.0V529.5M168.4 526.0V529.5M233.8 526.0V529.5M299.2 526.0V529.5M364.6 526.0V529.5M430.0 526.0V529.5"/>
<rect x="86.40" y="514.0" width="16.45" height="12.0" fill="#0a3b70"/>
<rect x="102.75" y="514.0" width="16.45" height="12.0" fill="#185493"/>
<rect x="119.11" y="514.0" width="16.45" height="12.0" fill="#266caf"/>
<rect x="135.46" y="514.0" width="16.45" height="12.0" fill="#3480b9"/>
<rect x="151.82" y="514.0" width="16.45" height="12.0" fill="#4695c4"/>
<rect x="168.17" y="514.0" width="16.45" height="12.0" fill="#6bacd1"/>
<rect x="184.53" y="514.0" width="16.45" height="12.0" fill="#8dc2dc"/>
<rect x="200.88" y="514.0" width="16.45" height="12.0" fill="#acd2e5"/>
<rect x="217.24" y="514.0" width="16.45" height="12.0" fill="#c7e0ed"/>
<rect x="233.59" y="514.0" width="16.45" height="12.0" fill="#ddebf2"/>
<rect x="249.95" y="514.0" width="16.45" height="12.0" fill="#eff3f5"/>
<rect x="266.30" y="514.0" width="16.45" height="12.0" fill="#f8f1ed"/>
<rect x="282.65" y="514.0" width="16.45" height="12.0" fill="#fbe4d6"/>
<rect x="299.01" y="514.0" width="16.45" height="12.0" fill="#fcd3bc"/>
<rect x="315.36" y="514.0" width="16.45" height="12.0" fill="#f8bb9e"/>
<rect x="331.72" y="514.0" width="16.45" height="12.0" fill="#f2a17f"/>
<rect x="348.07" y="514.0" width="16.45" height="12.0" fill="#e48066"/>
<rect x="364.43" y="514.0" width="16.45" height="12.0" fill="#d7634f"/>
<rect x="380.78" y="514.0" width="16.45" height="12.0" fill="#c6413e"/>
<rect x="397.14" y="514.0" width="16.45" height="12.0" fill="#b72230"/>
<rect x="413.49" y="514.0" width="16.45" height="12.0" fill="#991027"/>
<rect x="429.85" y="514.0" width="16.45" height="12.0" fill="#760521"/>
</svg>
<div class="t" style="left:33.2px;top:10.92px;font-size:11.2px;line-height:11.2px;height:14.559999999999999px;font-weight:bold;color:#000;letter-spacing:1.5px">(a)</div><div class="t" style="left:190.0px;top:10.92px;font-size:11.2px;line-height:11.2px;height:14.559999999999999px;font-weight:bold;color:#000;letter-spacing:1.5px">(b)</div><div class="t" style="left:347.6px;top:10.92px;font-size:11.2px;line-height:11.2px;height:14.559999999999999px;font-weight:bold;color:#000;letter-spacing:1.5px">(c)</div><div class="t" style="left:108.2px;top:3.62px;font-size:11.2px;line-height:11.2px;height:14.559999999999999px;font-weight:bold;transform:translateX(-50%);color:#000;letter-spacing:0px">JFM</div><div class="t" style="left:266.9px;top:3.62px;font-size:11.2px;line-height:11.2px;height:14.559999999999999px;font-weight:bold;transform:translateX(-50%);color:#000;letter-spacing:0px">AMJ</div><div class="t" style="left:422.4px;top:3.62px;font-size:11.2px;line-height:11.2px;height:14.559999999999999px;font-weight:bold;transform:translateX(-50%);color:#000;letter-spacing:0px">JAS</div><div class="t" style="left:33.0px;top:172.12px;font-size:11.2px;line-height:11.2px;height:14.559999999999999px;font-weight:bold;color:#000;letter-spacing:1.5px">(d)</div><div class="t" style="left:190.0px;top:172.12px;font-size:11.2px;line-height:11.2px;height:14.559999999999999px;font-weight:bold;color:#000;letter-spacing:1.5px">(e)</div><div class="t" style="left:347.6px;top:172.12px;font-size:11.2px;line-height:11.2px;height:14.559999999999999px;font-weight:bold;color:#000;letter-spacing:1.5px">(f)</div><div class="t" style="left:30.0px;top:334.42px;font-size:11.2px;line-height:11.2px;height:14.559999999999999px;font-weight:bold;color:#000;letter-spacing:1.5px">(g)</div><div class="t" style="left:187.6px;top:334.42px;font-size:11.2px;line-height:11.2px;height:14.559999999999999px;font-weight:bold;color:#000;letter-spacing:1.5px">(h)</div><div class="t" style="left:345.0px;top:334.42px;font-size:11.2px;line-height:11.2px;height:14.559999999999999px;font-weight:bold;color:#000;letter-spacing:1.5px">(i)</div><div class="t" style="left:23.4px;top:345.00px;font-size:10.4px;line-height:10.4px;height:13.520000000000001px;font-weight:normal;transform:translateX(-100%);color:#262626;letter-spacing:0.6px">1</div><div class="t" style="left:23.4px;top:370.30px;font-size:10.4px;line-height:10.4px;height:13.520000000000001px;font-weight:normal;transform:translateX(-100%);color:#262626;letter-spacing:0.6px">2</div><div class="t" style="left:23.4px;top:402.00px;font-size:10.4px;line-height:10.4px;height:13.520000000000001px;font-weight:normal;transform:translateX(-100%);color:#262626;letter-spacing:0.6px">10</div><div class="t" style="left:23.4px;top:415.60px;font-size:10.4px;line-height:10.4px;height:13.520000000000001px;font-weight:normal;transform:translateX(-100%);color:#262626;letter-spacing:0.6px">20</div><div class="t" style="left:23.4px;top:447.00px;font-size:10.4px;line-height:10.4px;height:13.520000000000001px;font-weight:normal;transform:translateX(-100%);color:#262626;letter-spacing:0.6px">100</div><div class="t" style="left:23.4px;top:460.90px;font-size:10.4px;line-height:10.4px;height:13.520000000000001px;font-weight:normal;transform:translateX(-100%);color:#262626;letter-spacing:0.6px">200</div><div class="t" style="left:23.4px;top:478.80px;font-size:10.4px;line-height:10.4px;height:13.520000000000001px;font-weight:normal;transform:translateX(-100%);color:#262626;letter-spacing:0.6px">500</div><div class="t" style="left:66.9px;top:501.92px;font-size:9.2px;line-height:9.2px;height:11.959999999999999px;font-weight:normal;transform:translateX(-50%);color:#262626;letter-spacing:0.3px">90°E</div><div class="t" style="left:104.4px;top:501.92px;font-size:9.2px;line-height:9.2px;height:11.959999999999999px;font-weight:normal;transform:translateX(-50%);color:#262626;letter-spacing:0.3px">180</div><div class="t" style="left:141.9px;top:501.92px;font-size:9.2px;line-height:9.2px;height:11.959999999999999px;font-weight:normal;transform:translateX(-50%);color:#262626;letter-spacing:0.3px">90°W</div><div class="t" style="left:224.9px;top:501.92px;font-size:9.2px;line-height:9.2px;height:11.959999999999999px;font-weight:normal;transform:translateX(-50%);color:#262626;letter-spacing:0.3px">90°E</div><div class="t" style="left:262.4px;top:501.92px;font-size:9.2px;line-height:9.2px;height:11.959999999999999px;font-weight:normal;transform:translateX(-50%);color:#262626;letter-spacing:0.3px">180</div><div class="t" style="left:299.9px;top:501.92px;font-size:9.2px;line-height:9.2px;height:11.959999999999999px;font-weight:normal;transform:translateX(-50%);color:#262626;letter-spacing:0.3px">90°W</div><div class="t" style="left:382.1px;top:501.92px;font-size:9.2px;line-height:9.2px;height:11.959999999999999px;font-weight:normal;transform:translateX(-50%);color:#262626;letter-spacing:0.3px">90°E</div><div class="t" style="left:419.6px;top:501.92px;font-size:9.2px;line-height:9.2px;height:11.959999999999999px;font-weight:normal;transform:translateX(-50%);color:#262626;letter-spacing:0.3px">180</div><div class="t" style="left:457.1px;top:501.92px;font-size:9.2px;line-height:9.2px;height:11.959999999999999px;font-weight:normal;transform:translateX(-50%);color:#262626;letter-spacing:0.3px">90°W</div><div class="t" style="left:103.6px;top:532.29px;font-size:8.4px;line-height:8.4px;height:10.920000000000002px;font-weight:normal;transform:translateX(-50%);color:#262626;letter-spacing:1.2px">−0.60</div><div class="t" style="left:169.0px;top:532.29px;font-size:8.4px;line-height:8.4px;height:10.920000000000002px;font-weight:normal;transform:translateX(-50%);color:#262626;letter-spacing:1.2px">−0.36</div><div class="t" style="left:234.4px;top:532.29px;font-size:8.4px;line-height:8.4px;height:10.920000000000002px;font-weight:normal;transform:translateX(-50%);color:#262626;letter-spacing:1.2px">−0.12</div><div class="t" style="left:299.8px;top:532.29px;font-size:8.4px;line-height:8.4px;height:10.920000000000002px;font-weight:normal;transform:translateX(-50%);color:#262626;letter-spacing:1.2px">0.12</div><div class="t" style="left:365.20000000000005px;top:532.29px;font-size:8.4px;line-height:8.4px;height:10.920000000000002px;font-weight:normal;transform:translateX(-50%);color:#262626;letter-spacing:1.2px">0.36</div><div class="t" style="left:430.6px;top:532.29px;font-size:8.4px;line-height:8.4px;height:10.920000000000002px;font-weight:normal;transform:translateX(-50%);color:#262626;letter-spacing:1.2px">0.60</div>
</body></html>
